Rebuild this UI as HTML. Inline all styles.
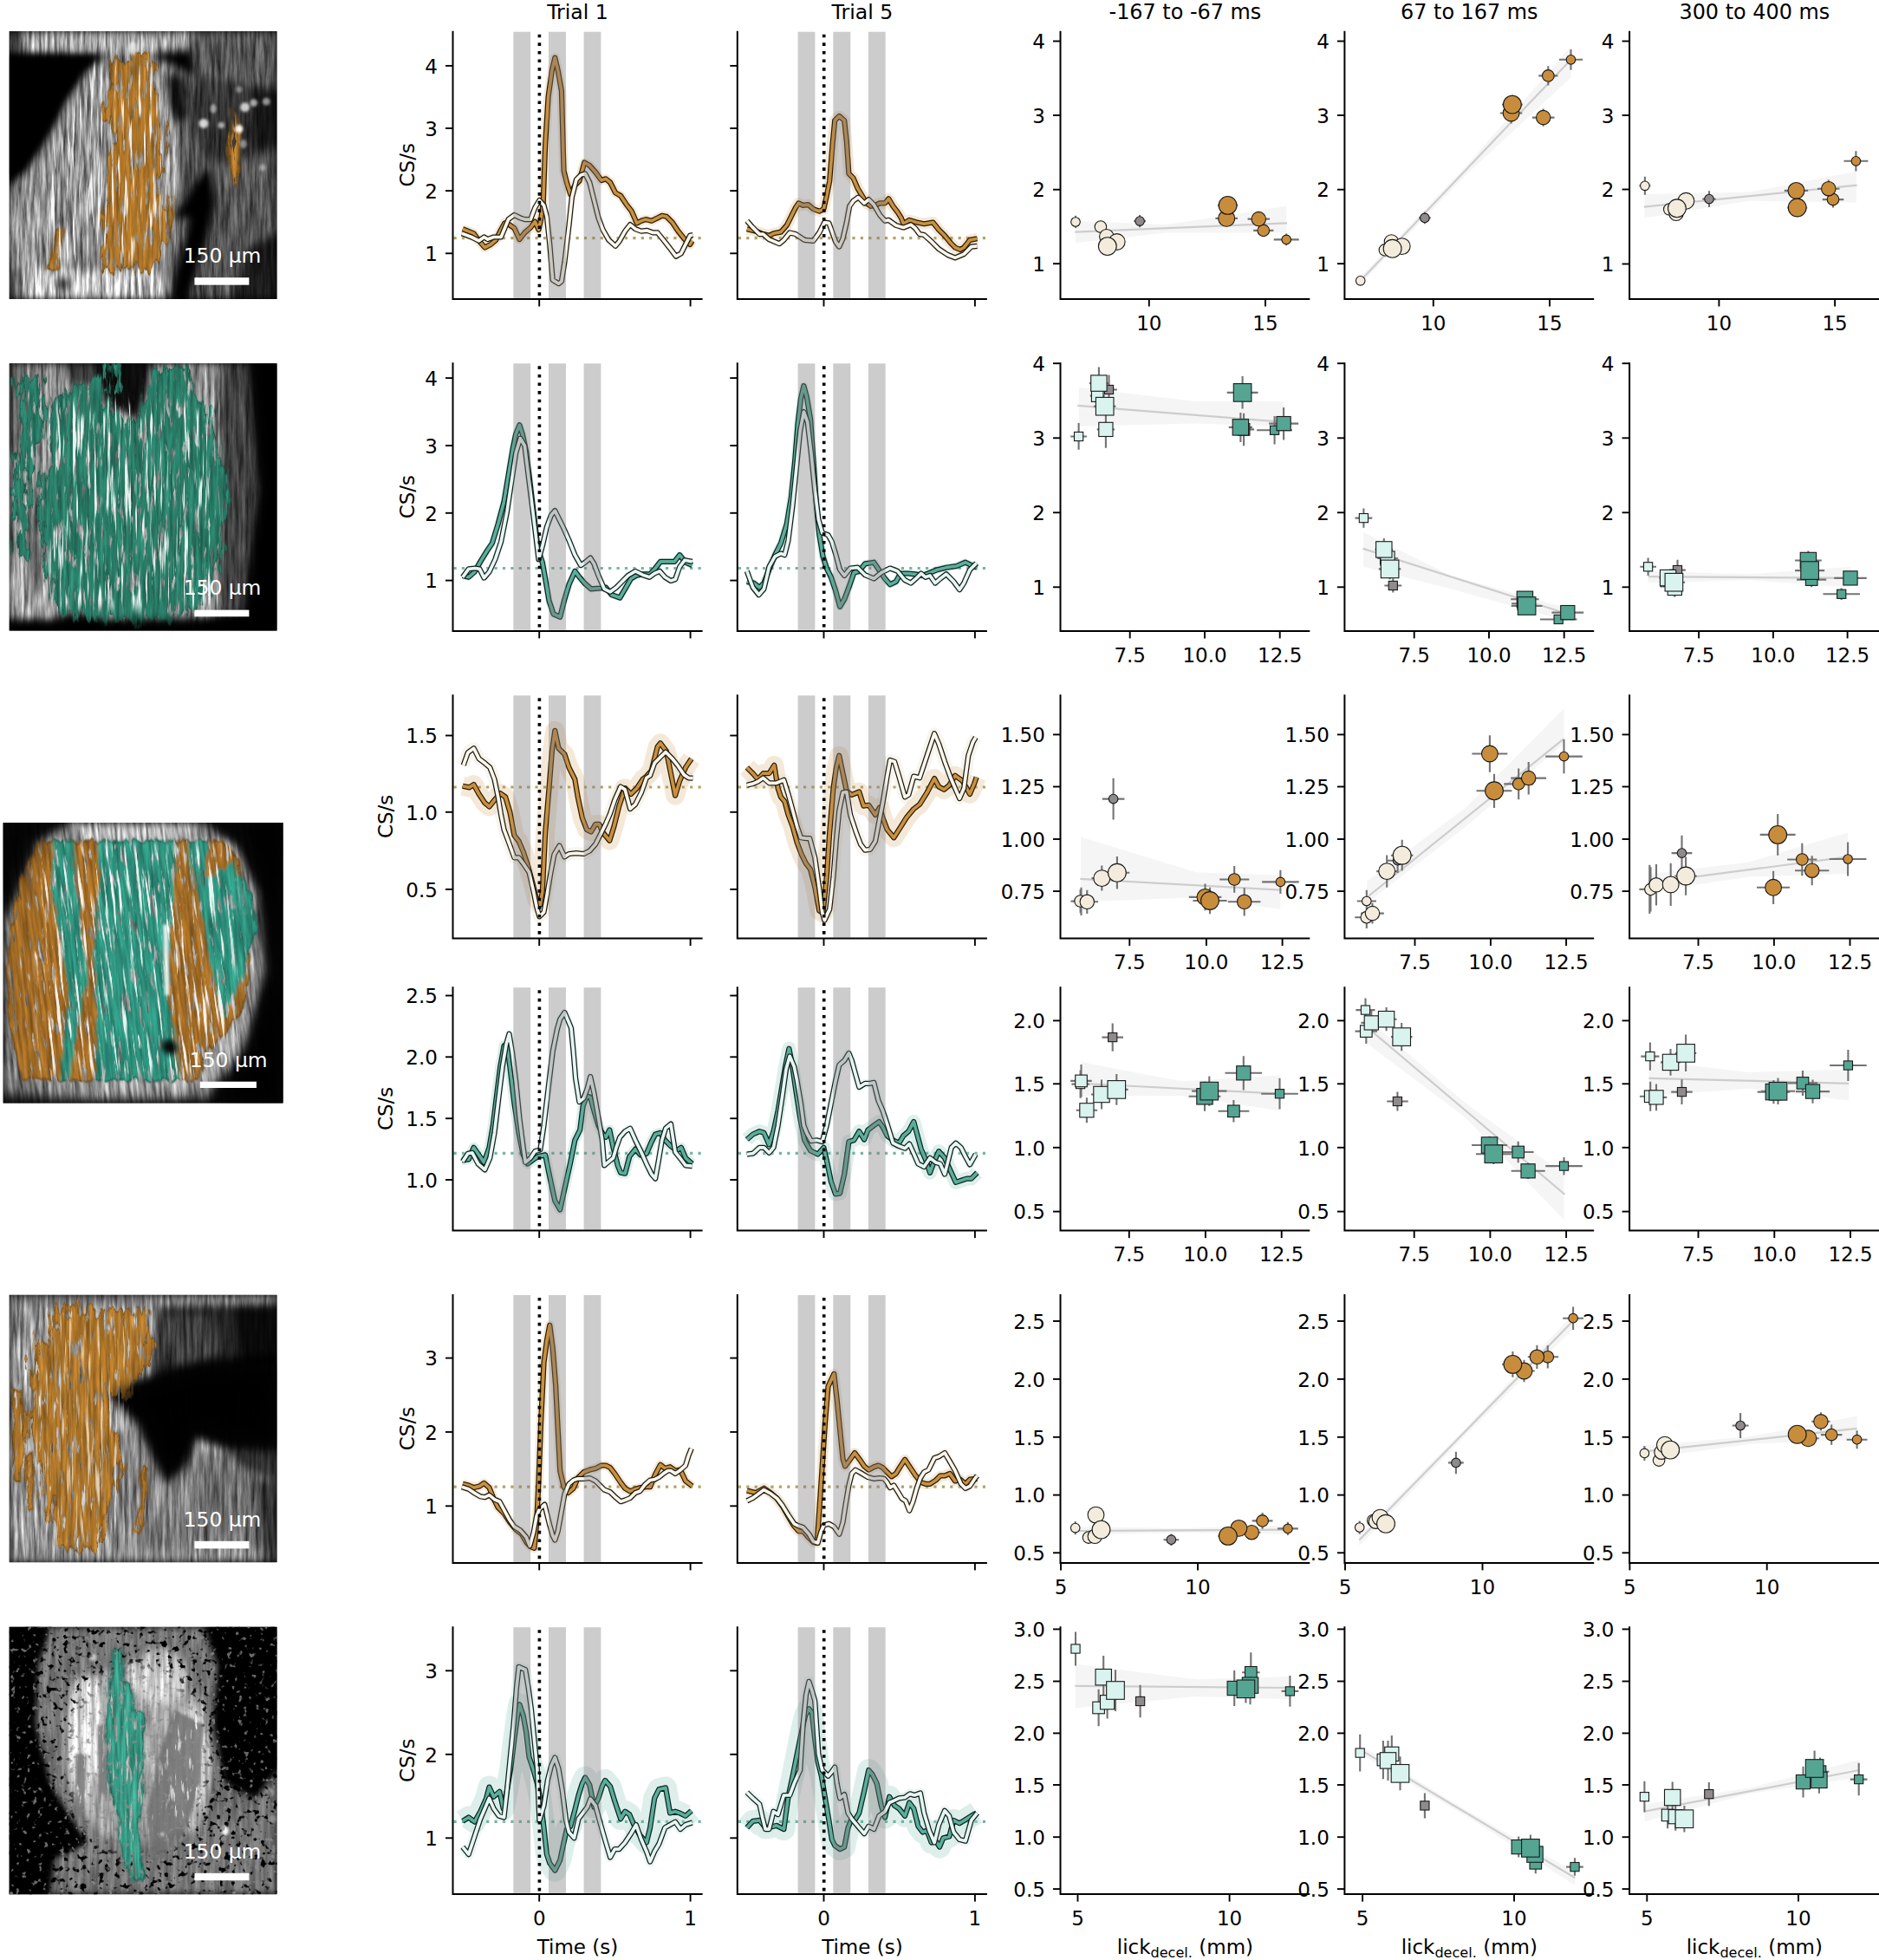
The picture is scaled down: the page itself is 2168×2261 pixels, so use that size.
<!DOCTYPE html>
<html><head><meta charset="utf-8"><title>Figure</title>
<style>html,body{margin:0;padding:0;background:#fff}svg{display:block}</style></head>
<body>
<svg xmlns="http://www.w3.org/2000/svg" width="2168" height="2261" viewBox="0 0 2168 2261">
<rect width="2168" height="2261" fill="#fff"/>
<defs><filter id="texA" x="0" y="0" width="100%" height="100%" color-interpolation-filters="sRGB"><feGaussianBlur in="SourceGraphic" stdDeviation="5" result="b"/><feTurbulence type="fractalNoise" baseFrequency="0.27 0.022" numOctaves="4" seed="7" result="n"/><feColorMatrix in="n" type="matrix" values="1 0 0 0 0 1 0 0 0 0 1 0 0 0 0 0 0 0 0 1" result="n2"/><feComposite in="b" in2="n2" operator="arithmetic" k1="1.7" k2="0.2" k3="0" k4="0.0"/></filter><filter id="texB" x="0" y="0" width="100%" height="100%" color-interpolation-filters="sRGB"><feGaussianBlur in="SourceGraphic" stdDeviation="5" result="b"/><feTurbulence type="fractalNoise" baseFrequency="0.25 0.02" numOctaves="4" seed="19" result="n"/><feColorMatrix in="n" type="matrix" values="1 0 0 0 0 1 0 0 0 0 1 0 0 0 0 0 0 0 0 1" result="n2"/><feComposite in="b" in2="n2" operator="arithmetic" k1="1.7" k2="0.2" k3="0" k4="0.0"/></filter><filter id="texC" x="-5%" y="-5%" width="110%" height="110%" color-interpolation-filters="sRGB"><feTurbulence type="fractalNoise" baseFrequency="0.12 0.035" numOctaves="3" seed="4" result="d"/><feDisplacementMap in="SourceGraphic" in2="d" scale="34" xChannelSelector="R" yChannelSelector="G" result="s"/><feTurbulence type="fractalNoise" baseFrequency="0.26 0.02" numOctaves="4" seed="5" result="n"/><feColorMatrix in="n" type="matrix" values="0 1 0 0 0 0 1 0 0 0 0 1 0 0 0 0 0 0 0 1" result="n2"/><feComposite in="s" in2="n2" operator="arithmetic" k1="0.75" k2="0.6" k3="0" k4="0"/></filter><filter id="texCs" x="-5%" y="-5%" width="110%" height="110%" color-interpolation-filters="sRGB"><feTurbulence type="fractalNoise" baseFrequency="0.12 0.035" numOctaves="3" seed="4" result="d"/><feDisplacementMap in="SourceGraphic" in2="d" scale="12" xChannelSelector="R" yChannelSelector="G" result="s"/><feTurbulence type="fractalNoise" baseFrequency="0.26 0.02" numOctaves="4" seed="5" result="n"/><feColorMatrix in="n" type="matrix" values="0 1 0 0 0 0 1 0 0 0 0 1 0 0 0 0 0 0 0 1" result="n2"/><feComposite in="s" in2="n2" operator="arithmetic" k1="0.75" k2="0.6" k3="0" k4="0"/></filter><filter id="mk1" x="0" y="0" width="100%" height="100%" color-interpolation-filters="sRGB"><feTurbulence type="fractalNoise" baseFrequency="0.22 0.035" numOctaves="4" seed="11"/><feColorMatrix type="matrix" values="0 0 8 0 -2.2 0 0 8 0 -2.2 0 0 8 0 -2.2 0 0 0 0 1"/></filter><filter id="mk2" x="0" y="0" width="100%" height="100%" color-interpolation-filters="sRGB"><feTurbulence type="fractalNoise" baseFrequency="0.2 0.035" numOctaves="4" seed="31"/><feColorMatrix type="matrix" values="0 0 8 0 -2.15 0 0 8 0 -2.15 0 0 8 0 -2.15 0 0 0 0 1"/></filter><filter id="hlw" x="0" y="0" width="100%" height="100%" color-interpolation-filters="sRGB"><feTurbulence type="fractalNoise" baseFrequency="0.25 0.015" numOctaves="3" seed="3"/><feColorMatrix type="matrix" values="0 0 0 0 1 0 0 0 0 1 0 0 0 0 1 7 0 0 0 -4.1"/></filter><filter id="bl30" x="-30%" y="-30%" width="160%" height="160%"><feGaussianBlur stdDeviation="3"/></filter><filter id="bl60" x="-30%" y="-30%" width="160%" height="160%"><feGaussianBlur stdDeviation="6"/></filter><filter id="bl16" x="-30%" y="-30%" width="160%" height="160%"><feGaussianBlur stdDeviation="1.6"/></filter><filter id="bl100" x="-30%" y="-30%" width="160%" height="160%"><feGaussianBlur stdDeviation="10"/></filter><filter id="spk" x="0" y="0" width="100%" height="100%" color-interpolation-filters="sRGB"><feTurbulence type="fractalNoise" baseFrequency="0.15 0.15" numOctaves="2" seed="5"/><feColorMatrix type="matrix" values="0 0 0 0 0 0 0 0 0 0 0 0 0 0 0 0 8 0 0 -4.6"/></filter><filter id="spw" x="0" y="0" width="100%" height="100%" color-interpolation-filters="sRGB"><feTurbulence type="fractalNoise" baseFrequency="0.16 0.16" numOctaves="2" seed="9"/><feColorMatrix type="matrix" values="0 0 0 0 0.55 0 0 0 0 0.55 0 0 0 0 0.55 8 0 0 0 -5.0"/></filter><filter id="tex5" x="0" y="0" width="100%" height="100%" color-interpolation-filters="sRGB"><feGaussianBlur in="SourceGraphic" stdDeviation="4" result="b"/><feTurbulence type="fractalNoise" baseFrequency="0.2 0.02" numOctaves="3" seed="13" result="n"/><feColorMatrix in="n" type="matrix" values="1 0 0 0 0 1 0 0 0 0 1 0 0 0 0 0 0 0 0 1" result="n2"/><feComposite in="b" in2="n2" operator="arithmetic" k1="0.9" k2="0.6" k3="0" k4="0.0"/></filter><mask id="cm1" maskUnits="userSpaceOnUse" x="-59.3" y="-33.9" width="448.8" height="448.8"><g filter="url(#mk1)"><rect x="-59.3" y="-33.9" width="448.8" height="448.8" fill="#fff"/></g></mask><mask id="hm1" maskUnits="userSpaceOnUse" x="-59.3" y="-33.9" width="448.8" height="448.8"><g filter="url(#bl60)"><polygon points="107.2,72.6 175.3,72.6 192.3,183.3 183.8,302.5 56.1,302.5 39.1,234.4 73.1,149.2" fill="#fff"/></g></mask><mask id="cm2" maskUnits="userSpaceOnUse" x="-59.3" y="349.2" width="448.8" height="448.3"><g filter="url(#mk2)"><rect x="-59.3" y="349.2" width="448.8" height="448.3" fill="#fff"/></g></mask><mask id="hm2" maskUnits="userSpaceOnUse" x="-59.3" y="349.2" width="448.8" height="448.3"><g filter="url(#bl60)"><polygon points="56.1,463.1 251.9,463.1 251.9,701.5 56.1,701.5" fill="#fff"/></g></mask><mask id="cm3" maskUnits="userSpaceOnUse" x="-66.4" y="879" width="463" height="463.6"><g filter="url(#mk1)"><rect x="-66.4" y="879" width="463" height="463.6" fill="#fff"/></g></mask><mask id="hm3" maskUnits="userSpaceOnUse" x="-66.4" y="879" width="463" height="463.6"><g filter="url(#bl60)"><polygon points="59.4,976.2 285.6,976.2 258,1238.6 31.8,1238.6" fill="#fff"/></g></mask><mask id="cm4" maskUnits="userSpaceOnUse" x="-59.3" y="1423.8" width="448.8" height="448.4"><g filter="url(#mk2)"><rect x="-59.3" y="1423.8" width="448.8" height="448.4" fill="#fff"/></g></mask><mask id="hm4" maskUnits="userSpaceOnUse" x="-59.3" y="1423.8" width="448.8" height="448.4"><g filter="url(#bl60)"><polygon points="39.1,1521.1 158.3,1521.1 141.2,1776.5 39.1,1776.5" fill="#fff"/></g></mask><mask id="cm5" maskUnits="userSpaceOnUse" x="-59.3" y="1806.8" width="448.8" height="448.4"><g filter="url(#mk1)"><rect x="-59.3" y="1806.8" width="448.8" height="448.4" fill="#fff"/></g></mask><mask id="om5" maskUnits="userSpaceOnUse" x="-59.3" y="1806.8" width="448.8" height="448.4"><g filter="url(#bl60)"><rect x="-59.3" y="1806.8" width="448.8" height="448.4" fill="#fff"/><ellipse cx="158.3" cy="2031.8" rx="85.2" ry="115.8" fill="#000" fill-opacity="0.9"/></g></mask></defs><clipPath id="clip1"><rect x="10.7" y="36.1" width="308.8" height="308.8"/></clipPath><g clip-path="url(#clip1)"><rect x="10.7" y="36.1" width="308.8" height="308.8" fill="#000"/><g filter="url(#texA)"><rect x="-59.3" y="-33.9" width="448.8" height="448.8" fill="#000"/><polygon points="10.6,36 217.9,36 219.6,57.2 175.3,61.5 124.2,63.2 56.1,61.5 10.6,60.7" fill="#a0a0a0"/><polygon points="10.6,36 27.1,36 25.4,60.7 10.6,60.7" fill="#3c3c3c"/><polygon points="217.9,36 319.7,36 319.7,101.5 260.5,94.7 226.4,87.9 219.6,57.2" fill="#555555"/><polygon points="226.4,87.9 319.7,101.5 319.7,183.3 243.4,191.8 217.9,149.2" fill="#323232"/><polygon points="175.3,62.4 226.4,87.9 217.9,149.2 243.4,191.8 226.4,208.8 200.8,251.4 200.8,183.3 192.3,115.2" fill="#505050"/><polygon points="124.2,62.4 175.3,62.4 192.3,115.2 200.8,183.3 200.8,251.4 183.8,311 39.1,311 27.1,268.4 10.6,242.9 10.6,213.9 30.5,196.9 56.1,157.7 78.2,115.2 100.4,81.1" fill="#878787"/><polygon points="243.4,191.8 319.7,174.8 319.7,285.5 286,344.7 217.9,344.7 234.9,285.5 246.8,234.4" fill="#505050"/><polygon points="286,285.5 319.7,268.4 319.7,344.7 269,344.7" fill="#191919"/><polygon points="10.6,242.9 30.5,248 49.3,276.9 52.7,311 10.6,319.5" fill="#969696"/><polygon points="10.6,311 183.8,311 206,344.7 10.6,344.7" fill="#bebebe"/><polygon points="10.6,311 28.8,311 25.4,344.7 10.6,344.7" fill="#5a5a5a"/><polygon points="183.8,311 200.8,251.4 217.9,251.4 209.4,302.5 206,344.7" fill="#6e6e6e"/><polygon points="185.5,72.6 194,72.6 206,183.3 202.6,242.9 192.3,242.9 194,183.3" fill="#c8c8c8" fill-opacity="0.7"/><polygon points="10.6,62.4 124.2,62.4 100.4,81.1 78.2,115.2 56.1,157.7 30.5,196.9 10.6,213.9" fill="#000"/><polygon points="192.3,86.2 209.4,89.6 214.5,132.2 202.6,145.8 194,118.6" fill="#000" fill-opacity="0.9"/><polygon points="226.4,208.8 243.4,200.3 248.5,234.4 236.6,285.5 219.6,328 207.7,344.7 192.3,344.7 209.4,285.5 223,242.9" fill="#000" fill-opacity="0.97"/><polygon points="286,103.2 319.7,106.6 319.7,166.2 294.5,174.8" fill="#000" fill-opacity="0.6"/><ellipse cx="73.1" cy="327.2" rx="7.7" ry="6.8" fill="#000" fill-opacity="0.85"/><ellipse cx="154.9" cy="293.1" rx="6" ry="5.1" fill="#000" fill-opacity="0.7"/><ellipse cx="97.8" cy="225.8" rx="4.3" ry="3.7" fill="#000" fill-opacity="0.5"/></g><g mask="url(#cm1)"><g filter="url(#texC)"><g filter="url(#bl16)"><polygon points="131,64.1 168.5,64.1 182.1,115.2 188.9,166.2 185.5,217.3 197.4,268.4 175.3,311 124.2,311 114,268.4 124.2,217.3 127.6,166.2 124.2,115.2" fill="#AE7629"/></g></g><g filter="url(#texCs)"><g filter="url(#bl16)"><polygon points="62.9,265 70.6,265 70.6,302.5 68.4,311 51.3,311 60.3,295.7" fill="#AE7629"/><polygon points="267.3,125.4 277.5,149.2 276.1,183.3 274.9,215.6 268.1,213.9 263.9,174.8 266.9,149.2" fill="#AE7629"/><polygon points="193.2,225.8 198.3,225.8 199.1,268.4 194,268.4" fill="#AE7629"/></g></g></g><g mask="url(#hm1)"><g filter="url(#hlw)" opacity="0.9"><rect x="-59.3" y="-33.9" width="448.8" height="448.8" fill="#fff"/></g></g><g filter="url(#bl16)"><ellipse cx="234.9" cy="142.4" rx="5.4" ry="5.4" fill="#fff" fill-opacity="0.8"/><ellipse cx="275.8" cy="148.7" rx="4.6" ry="4.6" fill="#fff" fill-opacity="0.95"/><ellipse cx="282.6" cy="123.7" rx="5.4" ry="5.4" fill="#fff" fill-opacity="0.75"/><ellipse cx="292.8" cy="118.6" rx="4.4" ry="4.4" fill="#fff" fill-opacity="0.6"/><ellipse cx="307.3" cy="117.2" rx="4.4" ry="4.4" fill="#fff" fill-opacity="0.55"/><ellipse cx="255.3" cy="144.4" rx="3.7" ry="3.7" fill="#fff" fill-opacity="0.6"/><ellipse cx="280.9" cy="166.2" rx="4.1" ry="5.1" fill="#fff" fill-opacity="0.45"/><ellipse cx="303" cy="193.5" rx="3.7" ry="3.7" fill="#fff" fill-opacity="0.4"/><ellipse cx="246" cy="125.4" rx="3.7" ry="5.1" fill="#fff" fill-opacity="0.5"/><ellipse cx="275.8" cy="103.2" rx="3.7" ry="3.7" fill="#fff" fill-opacity="0.4"/><ellipse cx="153.2" cy="55.5" rx="5.1" ry="7.7" fill="#fff" fill-opacity="0.7"/></g><g filter="url(#bl30)"><polygon points="10.6,64.1 115.7,64.1 93.6,81.1 72.3,115.2 50.1,157.7 26.3,193.5 10.6,207.1" fill="#000" fill-opacity="0.92"/></g><rect x="224.4" y="320.2" width="63" height="8.5" fill="#fff"/><text x="256.5" y="303.2" text-anchor="middle" font-family='"DejaVu Sans", "Liberation Sans", sans-serif' font-size="23.4" fill="#fff">150 µm</text></g><clipPath id="clip2"><rect x="10.7" y="419.2" width="308.8" height="308.3"/></clipPath><g clip-path="url(#clip2)"><rect x="10.7" y="419.2" width="308.8" height="308.3" fill="#000"/><g filter="url(#texB)"><rect x="-59.3" y="349.2" width="448.8" height="448.3" fill="#000"/><polygon points="10.6,419.2 286,419.2 294.5,565.3 277.5,715.1 10.6,715.1" fill="#8c8c8c"/><polygon points="251.9,419.2 303,419.2 311.5,565.3 286,715.1 251.9,715.1" fill="#3e3e3e"/><polygon points="10.6,633.4 56.1,650.4 56.1,715.1 10.6,715.1" fill="#a0a0a0"/><polygon points="10.6,419.2 30.5,419.2 25.4,514.2 10.6,531.2" fill="#5f5f5f"/><polygon points="286,419.2 319.7,419.2 319.7,727.4 277.5,727.4 297.9,565.3" fill="#000" fill-opacity="0.95"/><polygon points="10.6,716.8 107.2,718.5 192.3,720.2 319.7,701.5 319.7,727.4 10.6,727.4" fill="#000" fill-opacity="0.95"/><polygon points="107.2,419.2 175.3,419.2 168.5,456.3 158.3,483.5 124.2,468.2 114,442.7" fill="#000" fill-opacity="0.92"/><polygon points="73.1,419.2 107.2,419.2 114,442.7 81.6,446.1" fill="#000" fill-opacity="0.6"/><polygon points="34,590.8 47.6,582.3 49.3,667.5 34,701.5" fill="#000" fill-opacity="0.45"/><ellipse cx="90.2" cy="716.8" rx="25.5" ry="10.2" fill="#000" fill-opacity="0.9"/></g><g mask="url(#cm2)"><g filter="url(#texC)"><g filter="url(#bl16)"><polygon points="56.1,463.1 81.6,451.2 100.4,439.2 117.4,430.7 124.2,468.2 139.5,478.4 158.3,485.2 168.5,456.3 175.3,429 206,422.2 217.9,422.2 226.4,454.6 243.4,480.1 260.5,531.2 265.6,573.8 257,633.4 243.4,667.5 234.9,701.5 192.3,716 124.2,716 73.1,710 56.1,684.5 47.6,633.4 44.2,582.3 56.1,531.2 56.1,480.1" fill="#2A7D68"/><polygon points="23.7,437.5 49.3,434.1 51,480.1 35.7,531.2 34,582.3 30.5,641.9 20.3,641.9 13.5,582.3 15.2,539.7 23.7,497.2" fill="#2A7D68"/><polygon points="124.2,423.9 134.4,422.2 137.8,451.2 127.6,454.6" fill="#2A7D68"/></g></g></g><g mask="url(#hm2)"><g filter="url(#hlw)" opacity="0.9"><rect x="-59.3" y="349.2" width="448.8" height="448.3" fill="#fff"/></g></g><g filter="url(#bl60)"><polygon points="297.9,419.2 319.7,419.2 319.7,727.4 291.1,727.4 308.1,565.3" fill="#000" fill-opacity="0.95"/><polygon points="10.6,721.1 319.7,713.4 319.7,727.4 10.6,727.4" fill="#000" fill-opacity="0.95"/></g><rect x="224.4" y="703.6" width="63" height="7.7" fill="#fff"/><text x="256.5" y="686" text-anchor="middle" font-family='"DejaVu Sans", "Liberation Sans", sans-serif' font-size="23.4" fill="#fff">150 µm</text></g><clipPath id="clip3"><rect x="3.6" y="949" width="323" height="323.6"/></clipPath><g clip-path="url(#clip3)"><rect x="3.6" y="949" width="323" height="323.6" fill="#000"/><g transform="translate(-116.7 0) skewX(6)"><g filter="url(#texA)"><rect x="-66.4" y="879" width="463" height="463.6" fill="#000"/><polygon points="20.6,949 343.6,949 309.6,1272.6 -13.4,1272.6" fill="#6e6e6e"/><polygon points="42,969.9 307.9,969.9 278.9,1245.8 13,1245.8" fill="#969696"/><polygon points="98.4,949 243.2,949 231.9,970.8 105.2,970.8" fill="#afafaf"/><polygon points="31,1245.8 212,1245.8 191.1,1272.6 37.3,1272.6" fill="#969696"/><polygon points="20.6,949 98.4,949 60.1,969 37.5,1012.4 8.3,1066.7" fill="#000" fill-opacity="0.9"/><polygon points="252.2,949 343.6,949 309.6,1272.6 218.2,1272.6 269.9,1211.4 306.5,1120.9 307,1030.5 285.6,976.2" fill="#000" fill-opacity="0.95"/><polygon points="-12.3,1262.1 92.1,1267.5 219,1265.7 218.2,1272.6 -13.4,1272.6" fill="#000" fill-opacity="0.7"/></g><g mask="url(#cm3)"><g filter="url(#texCs)"><g filter="url(#bl16)"><polygon points="60.1,969.9 130.6,969.9 126.2,1012.4 113.2,1066.7 105.6,1139 105.4,1175.2 94.4,1245.8 13,1245.8 2.2,1193.3 6.2,1120.9 21,1048.6 44.8,994.3" fill="#A46D27"/><polygon points="219.3,969.9 271.8,969.9 287.3,994.3 290.7,1030.5 290.4,1102.9 277.4,1157.1 260.1,1184.3 230.1,1211.4 212,1245.8 193.9,1245.8 190.4,1193.3 190.6,1139 198.2,1084.8 209.3,1030.5" fill="#A46D27"/><polygon points="127,969.9 219.3,969.9 209.3,1030.5 198.2,1084.8 190.6,1139 190.4,1193.3 193.9,1245.8 94.4,1245.8 105.4,1175.2 105.6,1139 113.2,1066.7 126.2,1012.4" fill="#2F947F"/><polygon points="76.3,969.9 99.9,969.9 97.1,1030.5 96.8,1084.8 100.3,1120.9 88.3,1166.2 74.5,1211.4 67.2,1245.8 54.6,1245.8 69.2,1175.2 76.6,1139 73.2,1102.9 68.2,1030.5" fill="#2F947F"/><polygon points="235.6,1021.4 280,994.3 298,1030.5 301.4,1066.7 281.2,1120.9 262.9,1157.1 250.2,1175.2 243.2,1120.9 239.9,1066.7" fill="#2F947F"/><polygon points="232,969.9 255.5,969.9 245.2,1016 232,1021.4" fill="#2F947F"/></g></g></g><g mask="url(#hm3)"><g filter="url(#hlw)" opacity="0.9"><rect x="-66.4" y="879" width="463" height="463.6" fill="#fff"/></g></g><g filter="url(#bl16)"><polygon points="192.8,1066.7 198.3,1066.7 191.5,1148.1 186.4,1148.1" fill="#fff" fill-opacity="0.9"/></g><g filter="url(#bl30)"><ellipse cx="185.2" cy="1207.8" rx="8.7" ry="8.7" fill="#000" fill-opacity="0.95"/></g><g filter="url(#bl100)"><polygon points="20.6,949 85.8,949 51.3,967.1 30.6,1008.8 10.2,1048.6" fill="#000" fill-opacity="0.85"/><polygon points="292,949 343.6,949 309.6,1272.6 239.9,1272.6 278.9,1211.4 313.8,1120.9 316.1,1030.5 306.3,985.2" fill="#000" fill-opacity="0.95"/><polygon points="-12.7,1265.7 218.6,1269.3 218.2,1272.6 -13.4,1272.6" fill="#000" fill-opacity="0.7"/></g></g><rect x="230.7" y="1247.7" width="65.2" height="7.3" fill="#fff"/><text x="263.7" y="1230.7" text-anchor="middle" font-family='"DejaVu Sans", "Liberation Sans", sans-serif' font-size="23.4" fill="#fff">150 µm</text></g><clipPath id="clip4"><rect x="10.7" y="1493.8" width="308.8" height="308.4"/></clipPath><g clip-path="url(#clip4)"><rect x="10.7" y="1493.8" width="308.8" height="308.4" fill="#000"/><g filter="url(#texB)"><rect x="-59.3" y="1423.8" width="448.8" height="448.4" fill="#000"/><polygon points="10.6,1493.8 319.7,1493.8 319.7,1802.1 10.6,1802.1" fill="#969696"/><polygon points="10.6,1493.8 319.7,1493.8 319.7,1505.7 10.6,1505.7" fill="#6e6e6e"/><polygon points="226.4,1674.3 319.7,1674.3 319.7,1786.7 226.4,1786.7" fill="#696969"/><polygon points="124.2,1657.3 175.3,1648.8 226.4,1674.3 234.9,1786.7 124.2,1786.7" fill="#787878"/><polygon points="10.6,1786.7 319.7,1786.7 319.7,1802.1 10.6,1802.1" fill="#878787"/><polygon points="183.8,1507.4 319.7,1504 319.7,1572.2 226.4,1575.6 175.3,1589.2 178.7,1538.1" fill="#1c1c1c" fill-opacity="0.96"/><polygon points="188.9,1516 243.4,1516 257,1558.5 217.9,1575.6 183.8,1572.2" fill="#464646" fill-opacity="0.75"/><polygon points="269,1505.7 319.7,1504 319.7,1572.2 277.5,1572.2" fill="#000" fill-opacity="0.7"/><polygon points="124.2,1609.6 149.8,1596 175.3,1587.5 226.4,1572.2 319.7,1561.9 319.7,1674.3 260.5,1670.9 226.4,1657.3 212.8,1691.4 192.3,1711.8 158.3,1640.3" fill="#000" fill-opacity="0.97"/><polygon points="260.5,1670.9 319.7,1674.3 319.7,1708.4 277.5,1691.4" fill="#000" fill-opacity="0.55"/><polygon points="294.5,1708.4 319.7,1708.4 319.7,1802.1 303,1802.1" fill="#000" fill-opacity="0.55"/><polygon points="166.8,1498.9 319.7,1497.2 319.7,1504 166.8,1505.7" fill="#aaaaaa" fill-opacity="0.5"/><polygon points="81.6,1580.7 115.7,1572.2 124.2,1623.2 90.2,1623.2" fill="#000" fill-opacity="0.3"/></g><g mask="url(#cm4)"><g filter="url(#texC)"><g filter="url(#bl16)"><polygon points="61.2,1510.8 173.6,1510.8 171.9,1572.2 151.5,1597.7 149.8,1616.4 124.2,1606.2 132.7,1640.3 141.2,1674.3 134.4,1708.4 124.2,1742.5 115.7,1785 69.7,1785 56.1,1742.5 47.6,1691.4 30.5,1657.3 37.4,1606.2 39.1,1543.2 56.1,1555.1" fill="#AE7629"/></g></g><g filter="url(#texCs)"><g filter="url(#bl16)"><polygon points="15.2,1602.8 27.1,1602.8 28.8,1657.3 25.4,1708.4 15.2,1708.4 13.5,1657.3" fill="#AE7629"/><polygon points="30.5,1677.7 37.4,1677.7 39.1,1742.5 32.2,1742.5" fill="#AE7629"/><polygon points="163.4,1691.4 170.2,1691.4 168.5,1733.9 161.7,1768 154.9,1768 161.7,1733.9" fill="#AE7629"/></g></g></g><g mask="url(#hm4)"><g filter="url(#hlw)" opacity="0.6"><rect x="-59.3" y="1423.8" width="448.8" height="448.4" fill="#fff"/></g></g><g filter="url(#bl100)"><polygon points="175.3,1592.6 226.4,1579 319.7,1572.2 319.7,1665.8 260.5,1662.4 229.8,1648.8 214.5,1682.8 192.3,1703.3 161.7,1636.9 131,1611.3 151.5,1599.4" fill="#000" fill-opacity="0.92"/></g><rect x="224.4" y="1777.8" width="63" height="8.6" fill="#fff"/><text x="256.5" y="1760.9" text-anchor="middle" font-family='"DejaVu Sans", "Liberation Sans", sans-serif' font-size="23.4" fill="#fff">150 µm</text></g><clipPath id="clip5"><rect x="10.7" y="1876.8" width="308.8" height="308.4"/></clipPath><g clip-path="url(#clip5)"><rect x="10.7" y="1876.8" width="308.8" height="308.4" fill="#000"/><g filter="url(#tex5)"><rect x="-59.3" y="1806.8" width="448.8" height="448.4" fill="#000"/><polygon points="56.1,1876.8 234.9,1876.8 251.9,1921.1 246.8,1989.2 260.5,2057.3 294.5,2074.4 319.7,2040.3 319.7,2185.1 56.1,2185.1 61.2,2142.5 98.7,2125.5 86.7,2108.4 56.1,2057.3 39.1,1989.2 42.5,1921.1" fill="#707070"/><ellipse cx="158.3" cy="2023.3" rx="81.7" ry="105.6" fill="#bebebe" fill-opacity="0.6"/><ellipse cx="183.8" cy="1934.7" rx="32.4" ry="32.4" fill="#e1e1e1" fill-opacity="0.6"/><ellipse cx="93.6" cy="2006.2" rx="17" ry="73.2" fill="#fff" fill-opacity="0.6"/><ellipse cx="217.9" cy="2040.3" rx="23.8" ry="73.2" fill="#fff" fill-opacity="0.45"/><ellipse cx="107.2" cy="1989.2" rx="7.7" ry="59.6" fill="#fff" fill-opacity="0.6"/><ellipse cx="231.5" cy="2006.2" rx="7.7" ry="51.1" fill="#fff" fill-opacity="0.5"/></g><g mask="url(#om5)"><g filter="url(#spk)"><rect x="-59.3" y="1806.8" width="448.8" height="448.4" fill="#000"/></g></g><g mask="url(#cm5)"><g filter="url(#bl16)"><polygon points="200.8,1972.2 234.9,1989.2 231.5,2057.3 209.4,2125.5 175.3,2159.5 168.5,2091.4 183.8,2023.3" fill="#707070" fill-opacity="0.85"/><polygon points="86.7,2023.3 100.4,2023.3 97,2091.4 86.7,2099.9" fill="#767676" fill-opacity="0.85"/><polygon points="112.3,1989.2 122.5,1989.2 124.2,2074.4 114,2065.8" fill="#787878" fill-opacity="0.85"/></g></g><g mask="url(#cm5)"><g filter="url(#texCs)"><g filter="url(#bl16)"><polygon points="134.4,1900.7 141.2,1904.1 139.5,1938.1 151.5,1943.2 154.9,1972.2 165.1,1975.6 165.9,2023.3 164.2,2074.4 159.1,2125.5 167.6,2168 154.9,2170.6 141.2,2142.5 134.4,2091.4 124.2,2057.3 122.2,2006.2 124.2,1955.2 127.6,1929.6" fill="#379C86"/></g></g></g><g filter="url(#bl16)"><ellipse cx="259.9" cy="2111.8" rx="4.1" ry="5.4" fill="#fff" fill-opacity="0.95"/><ellipse cx="107.2" cy="1911.7" rx="4.3" ry="4.3" fill="#fff" fill-opacity="0.6"/><ellipse cx="85" cy="1991.8" rx="3.4" ry="3.7" fill="#fff" fill-opacity="0.5"/><ellipse cx="187.2" cy="2116.1" rx="2" ry="2" fill="#fff" fill-opacity="0.8"/><ellipse cx="311.5" cy="2067.6" rx="5.1" ry="5.1" fill="#bebebe" fill-opacity="0.6"/><ellipse cx="315" cy="2098.2" rx="4.3" ry="4.3" fill="#b4b4b4" fill-opacity="0.5"/></g><g filter="url(#bl30)"><polygon points="10.6,1876.8 56.1,1876.8 42.5,1921.1 39.1,1989.2 56.1,2057.3 86.7,2108.4 100.4,2125.5 61.2,2142.5 56.1,2185.1 10.6,2185.1" fill="#000" fill-opacity="0.95"/><polygon points="240,1876.8 319.7,1876.8 319.7,2036.9 294.5,2071 260.5,2053.9 248.5,1989.2 253.6,1921.1" fill="#000" fill-opacity="0.95"/></g><g filter="url(#spw)" opacity="0.75"><rect x="-59.3" y="1806.8" width="448.8" height="448.4" fill="#fff"/></g><rect x="224.4" y="2160.8" width="63" height="8.4" fill="#fff"/><text x="256.5" y="2143.6" text-anchor="middle" font-family='"DejaVu Sans", "Liberation Sans", sans-serif' font-size="23.4" fill="#fff">150 µm</text></g>
<g font-family='"DejaVu Sans", "Liberation Sans", sans-serif' font-size="23.0" fill="#000">
<line x1="523.5" y1="274.7" x2="810.6" y2="274.7" stroke="#B3A264" stroke-width="3.2" stroke-dasharray="3.2 6.2"/>
<polyline points="533.8,264.2 546.6,269.3 552.6,277.8 559.4,285.5 566.2,282 572.2,276.9 578.1,265 582.4,257.4 587.5,259.1 593.4,263.3 599.4,276.1 605.4,268.4 612.2,262.5 617.3,255.7 621.5,265 624.1,253.1 626.7,234.4 629.2,166.2 632.6,111.7 636.9,81.1 640.3,66.6 643.7,81.1 647.9,104.9 650.5,196.9 653.9,210.5 658.2,224.1 663.3,213.9 668.4,208.8 674.3,187.5 680.3,190.9 687.1,198.6 693.9,208 699,206.3 704.1,210.5 710.1,222.4 716.1,225.8 722.9,236.1 728.8,243.7 734.8,257.4 739.9,254.8 745,253.1 751.8,254.8 758.6,251.4 763.8,248.8 768.9,249.7 775.7,256.5 782.5,266.7 789.3,275.2 796.1,282 798.7,277.8" fill="none" stroke="#C9903F" stroke-opacity="0.2" stroke-width="11" stroke-linejoin="round" stroke-linecap="butt"/>
<polyline points="533,269.3 544.1,273.5 552.6,277.8 558.5,273.5 562.8,276.1 569.6,273.5 578.1,273.5 586.6,253.1 593.4,248 600.3,251.4 605.4,253.1 612.2,253.1 617.3,239.5 622.4,231 627.5,236.9 630.9,249.7 634.3,282 637.7,322.9 644.5,327.2 647.9,324.6 651.4,302.5 656.5,259.9 659.9,227.6 665,207.1 670.1,202 675.2,200.3 680.3,210.5 685.4,231 690.5,251.4 695.6,265 702.4,276.9 710.1,283.8 714.4,278.6 721.2,266.7 727.1,259.1 733.1,264.2 739.9,266.7 746.7,265.9 753.5,268.4 758.6,268.4 765.5,276.9 772.3,285.5 779.9,295.7 785.9,292.3 791,282 796.1,271.8 799.5,271" fill="none" stroke="#E9DFC4" stroke-opacity="0.3" stroke-width="9" stroke-linejoin="round" stroke-linecap="butt"/>
<polyline points="533.8,264.2 546.6,269.3 552.6,277.8 559.4,285.5 566.2,282 572.2,276.9 578.1,265 582.4,257.4 587.5,259.1 593.4,263.3 599.4,276.1 605.4,268.4 612.2,262.5 617.3,255.7 621.5,265 624.1,253.1 626.7,234.4 629.2,166.2 632.6,111.7 636.9,81.1 640.3,66.6 643.7,81.1 647.9,104.9 650.5,196.9 653.9,210.5 658.2,224.1 663.3,213.9 668.4,208.8 674.3,187.5 680.3,190.9 687.1,198.6 693.9,208 699,206.3 704.1,210.5 710.1,222.4 716.1,225.8 722.9,236.1 728.8,243.7 734.8,257.4 739.9,254.8 745,253.1 751.8,254.8 758.6,251.4 763.8,248.8 768.9,249.7 775.7,256.5 782.5,266.7 789.3,275.2 796.1,282 798.7,277.8" fill="none" stroke="#2a1d08" stroke-width="6.2" stroke-linejoin="round"/>
<polyline points="533.8,264.2 546.6,269.3 552.6,277.8 559.4,285.5 566.2,282 572.2,276.9 578.1,265 582.4,257.4 587.5,259.1 593.4,263.3 599.4,276.1 605.4,268.4 612.2,262.5 617.3,255.7 621.5,265 624.1,253.1 626.7,234.4 629.2,166.2 632.6,111.7 636.9,81.1 640.3,66.6 643.7,81.1 647.9,104.9 650.5,196.9 653.9,210.5 658.2,224.1 663.3,213.9 668.4,208.8 674.3,187.5 680.3,190.9 687.1,198.6 693.9,208 699,206.3 704.1,210.5 710.1,222.4 716.1,225.8 722.9,236.1 728.8,243.7 734.8,257.4 739.9,254.8 745,253.1 751.8,254.8 758.6,251.4 763.8,248.8 768.9,249.7 775.7,256.5 782.5,266.7 789.3,275.2 796.1,282 798.7,277.8" fill="none" stroke="#C9903F" stroke-width="3.7" stroke-linejoin="round"/>
<polyline points="533,269.3 544.1,273.5 552.6,277.8 558.5,273.5 562.8,276.1 569.6,273.5 578.1,273.5 586.6,253.1 593.4,248 600.3,251.4 605.4,253.1 612.2,253.1 617.3,239.5 622.4,231 627.5,236.9 630.9,249.7 634.3,282 637.7,322.9 644.5,327.2 647.9,324.6 651.4,302.5 656.5,259.9 659.9,227.6 665,207.1 670.1,202 675.2,200.3 680.3,210.5 685.4,231 690.5,251.4 695.6,265 702.4,276.9 710.1,283.8 714.4,278.6 721.2,266.7 727.1,259.1 733.1,264.2 739.9,266.7 746.7,265.9 753.5,268.4 758.6,268.4 765.5,276.9 772.3,285.5 779.9,295.7 785.9,292.3 791,282 796.1,271.8 799.5,271" fill="none" stroke="#1c1a14" stroke-width="6.2" stroke-linejoin="round"/>
<polyline points="533,269.3 544.1,273.5 552.6,277.8 558.5,273.5 562.8,276.1 569.6,273.5 578.1,273.5 586.6,253.1 593.4,248 600.3,251.4 605.4,253.1 612.2,253.1 617.3,239.5 622.4,231 627.5,236.9 630.9,249.7 634.3,282 637.7,322.9 644.5,327.2 647.9,324.6 651.4,302.5 656.5,259.9 659.9,227.6 665,207.1 670.1,202 675.2,200.3 680.3,210.5 685.4,231 690.5,251.4 695.6,265 702.4,276.9 710.1,283.8 714.4,278.6 721.2,266.7 727.1,259.1 733.1,264.2 739.9,266.7 746.7,265.9 753.5,268.4 758.6,268.4 765.5,276.9 772.3,285.5 779.9,295.7 785.9,292.3 791,282 796.1,271.8 799.5,271" fill="none" stroke="#FBF7EC" stroke-width="3.7" stroke-linejoin="round"/>
<line x1="622.4" y1="35.7" x2="622.4" y2="345" stroke="#000" stroke-width="3.6" stroke-dasharray="3.6 6" stroke-dashoffset="-4"/>
<rect x="592.3" y="36.7" width="19.8" height="307.3" fill="#7d7a7a" fill-opacity="0.385"/>
<rect x="633" y="36.7" width="20" height="307.3" fill="#7d7a7a" fill-opacity="0.385"/>
<rect x="673.6" y="36.7" width="19.8" height="307.3" fill="#7d7a7a" fill-opacity="0.385"/>
<path d="M522.5 35.7V345H810.6" fill="none" stroke="#000" stroke-width="2" stroke-linejoin="miter"/>
<line x1="514" y1="75.9" x2="522.5" y2="75.9" stroke="#000" stroke-width="1.9"/>
<text x="504.9" y="84.6" text-anchor="end">4</text>
<line x1="514" y1="148" x2="522.5" y2="148" stroke="#000" stroke-width="1.9"/>
<text x="504.9" y="156.7" text-anchor="end">3</text>
<line x1="514" y1="220.1" x2="522.5" y2="220.1" stroke="#000" stroke-width="1.9"/>
<text x="504.9" y="228.8" text-anchor="end">2</text>
<line x1="514" y1="292.3" x2="522.5" y2="292.3" stroke="#000" stroke-width="1.9"/>
<text x="504.9" y="301" text-anchor="end">1</text>
<line x1="622.2" y1="345" x2="622.2" y2="353.5" stroke="#000" stroke-width="1.9"/>
<line x1="796.6" y1="345" x2="796.6" y2="353.5" stroke="#000" stroke-width="1.9"/>
<text transform="translate(478 190.3) rotate(-90)" text-anchor="middle">CS/s</text>
<text x="666.5" y="21.8" font-size="23.6" text-anchor="middle">Trial 1</text>
<line x1="851.8" y1="274.7" x2="1138.9" y2="274.7" stroke="#B3A264" stroke-width="3.2" stroke-dasharray="3.2 6.2"/>
<polyline points="861.8,264.2 872.1,266.7 880.6,270.1 887.4,271.8 892.5,269.3 901,267.6 907.8,259.9 912.9,249.7 918,239.5 921.4,234.4 926.6,236.9 932.5,236.1 938.5,241.2 945.3,243.7 950.4,241.2 953.8,225.8 957.2,208.8 960.6,166.2 963.2,139 968.3,133.9 974.2,139 976.8,162.8 979.4,200.3 984.5,205.4 989.6,217.3 994.7,225.8 999.8,234.4 1004.9,237.8 1010,236.9 1015.1,234.4 1021.1,234.4 1025.3,229.3 1030.4,237.8 1035.6,244.6 1039.8,251.4 1042.4,258.2 1049.2,253.9 1057.7,256.5 1066.2,258.2 1076.4,256.5 1083.2,265 1090,271.8 1096.9,280.3 1102,285.5 1107.9,288 1112.2,285.5 1119,276.9 1127.5,275.2" fill="none" stroke="#C9903F" stroke-opacity="0.2" stroke-width="13" stroke-linejoin="round" stroke-linecap="butt"/>
<polyline points="861.8,254.8 867.8,261.6 876.3,270.1 880.6,270.1 887.4,276.1 899.3,281.2 904.4,276.9 911.2,268.4 918,270.1 928.3,276.9 938.5,277.8 945.3,268.4 951.3,256.5 956.4,257.4 959.8,266.7 964,278.6 968.3,284.6 972.5,275.2 976.8,256.5 980.2,237.8 984.5,231.8 990.4,227.6 997.2,234.4 1002.3,230.1 1008.3,236.1 1015.1,248 1021.1,254.8 1025.3,253.9 1033.8,259.9 1042.4,262.5 1050.9,259.1 1056,263.3 1061.1,270.1 1066.2,271 1074.7,278.6 1083.2,287.2 1093.5,294 1102,297.4 1112.2,293.1 1120.7,284.6 1127.5,283.8" fill="none" stroke="#E9DFC4" stroke-opacity="0.3" stroke-width="9" stroke-linejoin="round" stroke-linecap="butt"/>
<polyline points="861.8,264.2 872.1,266.7 880.6,270.1 887.4,271.8 892.5,269.3 901,267.6 907.8,259.9 912.9,249.7 918,239.5 921.4,234.4 926.6,236.9 932.5,236.1 938.5,241.2 945.3,243.7 950.4,241.2 953.8,225.8 957.2,208.8 960.6,166.2 963.2,139 968.3,133.9 974.2,139 976.8,162.8 979.4,200.3 984.5,205.4 989.6,217.3 994.7,225.8 999.8,234.4 1004.9,237.8 1010,236.9 1015.1,234.4 1021.1,234.4 1025.3,229.3 1030.4,237.8 1035.6,244.6 1039.8,251.4 1042.4,258.2 1049.2,253.9 1057.7,256.5 1066.2,258.2 1076.4,256.5 1083.2,265 1090,271.8 1096.9,280.3 1102,285.5 1107.9,288 1112.2,285.5 1119,276.9 1127.5,275.2" fill="none" stroke="#2a1d08" stroke-width="6.2" stroke-linejoin="round"/>
<polyline points="861.8,264.2 872.1,266.7 880.6,270.1 887.4,271.8 892.5,269.3 901,267.6 907.8,259.9 912.9,249.7 918,239.5 921.4,234.4 926.6,236.9 932.5,236.1 938.5,241.2 945.3,243.7 950.4,241.2 953.8,225.8 957.2,208.8 960.6,166.2 963.2,139 968.3,133.9 974.2,139 976.8,162.8 979.4,200.3 984.5,205.4 989.6,217.3 994.7,225.8 999.8,234.4 1004.9,237.8 1010,236.9 1015.1,234.4 1021.1,234.4 1025.3,229.3 1030.4,237.8 1035.6,244.6 1039.8,251.4 1042.4,258.2 1049.2,253.9 1057.7,256.5 1066.2,258.2 1076.4,256.5 1083.2,265 1090,271.8 1096.9,280.3 1102,285.5 1107.9,288 1112.2,285.5 1119,276.9 1127.5,275.2" fill="none" stroke="#C9903F" stroke-width="3.7" stroke-linejoin="round"/>
<polyline points="861.8,254.8 867.8,261.6 876.3,270.1 880.6,270.1 887.4,276.1 899.3,281.2 904.4,276.9 911.2,268.4 918,270.1 928.3,276.9 938.5,277.8 945.3,268.4 951.3,256.5 956.4,257.4 959.8,266.7 964,278.6 968.3,284.6 972.5,275.2 976.8,256.5 980.2,237.8 984.5,231.8 990.4,227.6 997.2,234.4 1002.3,230.1 1008.3,236.1 1015.1,248 1021.1,254.8 1025.3,253.9 1033.8,259.9 1042.4,262.5 1050.9,259.1 1056,263.3 1061.1,270.1 1066.2,271 1074.7,278.6 1083.2,287.2 1093.5,294 1102,297.4 1112.2,293.1 1120.7,284.6 1127.5,283.8" fill="none" stroke="#1c1a14" stroke-width="6.2" stroke-linejoin="round"/>
<polyline points="861.8,254.8 867.8,261.6 876.3,270.1 880.6,270.1 887.4,276.1 899.3,281.2 904.4,276.9 911.2,268.4 918,270.1 928.3,276.9 938.5,277.8 945.3,268.4 951.3,256.5 956.4,257.4 959.8,266.7 964,278.6 968.3,284.6 972.5,275.2 976.8,256.5 980.2,237.8 984.5,231.8 990.4,227.6 997.2,234.4 1002.3,230.1 1008.3,236.1 1015.1,248 1021.1,254.8 1025.3,253.9 1033.8,259.9 1042.4,262.5 1050.9,259.1 1056,263.3 1061.1,270.1 1066.2,271 1074.7,278.6 1083.2,287.2 1093.5,294 1102,297.4 1112.2,293.1 1120.7,284.6 1127.5,283.8" fill="none" stroke="#FBF7EC" stroke-width="3.7" stroke-linejoin="round"/>
<line x1="950.7" y1="35.7" x2="950.7" y2="345" stroke="#000" stroke-width="3.6" stroke-dasharray="3.6 6" stroke-dashoffset="-4"/>
<rect x="920.6" y="36.7" width="19.8" height="307.3" fill="#7d7a7a" fill-opacity="0.385"/>
<rect x="961.3" y="36.7" width="20" height="307.3" fill="#7d7a7a" fill-opacity="0.385"/>
<rect x="1001.9" y="36.7" width="19.8" height="307.3" fill="#7d7a7a" fill-opacity="0.385"/>
<path d="M850.8 35.7V345H1138.9" fill="none" stroke="#000" stroke-width="2" stroke-linejoin="miter"/>
<line x1="842.3" y1="75.9" x2="850.8" y2="75.9" stroke="#000" stroke-width="1.9"/>
<line x1="842.3" y1="148" x2="850.8" y2="148" stroke="#000" stroke-width="1.9"/>
<line x1="842.3" y1="220.1" x2="850.8" y2="220.1" stroke="#000" stroke-width="1.9"/>
<line x1="842.3" y1="292.3" x2="850.8" y2="292.3" stroke="#000" stroke-width="1.9"/>
<line x1="950.5" y1="345" x2="950.5" y2="353.5" stroke="#000" stroke-width="1.9"/>
<line x1="1124.9" y1="345" x2="1124.9" y2="353.5" stroke="#000" stroke-width="1.9"/>
<text x="994.9" y="21.8" font-size="23.6" text-anchor="middle">Trial 5</text>
<line x1="523.5" y1="655.5" x2="810.6" y2="655.5" stroke="#74B5A3" stroke-width="3.2" stroke-dasharray="3.2 6.2"/>
<polyline points="533.8,664 540.7,665.8 547.5,659.8 554.3,647.9 561.1,636.8 567.9,626.6 574.7,604.4 581.5,578.9 586.6,548.2 591.7,517.6 595.2,500.6 599.4,490.3 602.8,500.6 607.1,521 610.5,548.2 615.6,590.8 620.7,633.4 625.8,648.7 629.2,667.5 633.5,693 638.6,708.3 646.2,711.7 651.4,691.3 656.5,674.3 663.3,658.9 669.2,666.6 674.3,672.6 682,679.4 693.1,678.5 699,677.7 705.8,686.2 715.2,689.6 721.2,679.4 728,667.5 733.9,664 741.6,662.3 750.1,662.3 756.1,655.5 762,647.9 770.6,647.9 778.2,647.9 784.2,640.2 791,648.7 798.7,652.1" fill="none" stroke="#5BAE9B" stroke-opacity="0.2" stroke-width="8" stroke-linejoin="round" stroke-linecap="butt"/>
<polyline points="533.8,665.8 540.7,656.4 548.3,655.5 553.4,656.4 558.5,666.6 564.5,659.8 571.3,645.3 578.1,624.9 584.9,590.8 590,556.8 595.2,522.7 600.3,505.7 605.4,514.2 609.6,548.2 613.9,582.3 618.1,616.4 621.5,645.3 625.8,630 630.9,607.8 636,594.2 640.3,589.1 644.5,597.6 649.6,607.8 656.5,623.2 663.3,640.2 670.1,652.1 675.2,648.7 681.2,643.6 685.4,650.4 690.5,664 697.3,679.4 704.1,682.8 711,677.7 717.8,670.9 724.6,664 733.1,658.9 741.6,663.2 749.3,665.8 755.2,661.5 761.2,658.9 767.2,665.8 774,670 779.1,668.3 784.2,653.8 790.1,646.2 798.7,647.9" fill="none" stroke="#BFE6DD" stroke-opacity="0.3" stroke-width="8" stroke-linejoin="round" stroke-linecap="butt"/>
<polyline points="533.8,664 540.7,665.8 547.5,659.8 554.3,647.9 561.1,636.8 567.9,626.6 574.7,604.4 581.5,578.9 586.6,548.2 591.7,517.6 595.2,500.6 599.4,490.3 602.8,500.6 607.1,521 610.5,548.2 615.6,590.8 620.7,633.4 625.8,648.7 629.2,667.5 633.5,693 638.6,708.3 646.2,711.7 651.4,691.3 656.5,674.3 663.3,658.9 669.2,666.6 674.3,672.6 682,679.4 693.1,678.5 699,677.7 705.8,686.2 715.2,689.6 721.2,679.4 728,667.5 733.9,664 741.6,662.3 750.1,662.3 756.1,655.5 762,647.9 770.6,647.9 778.2,647.9 784.2,640.2 791,648.7 798.7,652.1" fill="none" stroke="#0c2620" stroke-width="6.2" stroke-linejoin="round"/>
<polyline points="533.8,664 540.7,665.8 547.5,659.8 554.3,647.9 561.1,636.8 567.9,626.6 574.7,604.4 581.5,578.9 586.6,548.2 591.7,517.6 595.2,500.6 599.4,490.3 602.8,500.6 607.1,521 610.5,548.2 615.6,590.8 620.7,633.4 625.8,648.7 629.2,667.5 633.5,693 638.6,708.3 646.2,711.7 651.4,691.3 656.5,674.3 663.3,658.9 669.2,666.6 674.3,672.6 682,679.4 693.1,678.5 699,677.7 705.8,686.2 715.2,689.6 721.2,679.4 728,667.5 733.9,664 741.6,662.3 750.1,662.3 756.1,655.5 762,647.9 770.6,647.9 778.2,647.9 784.2,640.2 791,648.7 798.7,652.1" fill="none" stroke="#5BAE9B" stroke-width="3.7" stroke-linejoin="round"/>
<polyline points="533.8,665.8 540.7,656.4 548.3,655.5 553.4,656.4 558.5,666.6 564.5,659.8 571.3,645.3 578.1,624.9 584.9,590.8 590,556.8 595.2,522.7 600.3,505.7 605.4,514.2 609.6,548.2 613.9,582.3 618.1,616.4 621.5,645.3 625.8,630 630.9,607.8 636,594.2 640.3,589.1 644.5,597.6 649.6,607.8 656.5,623.2 663.3,640.2 670.1,652.1 675.2,648.7 681.2,643.6 685.4,650.4 690.5,664 697.3,679.4 704.1,682.8 711,677.7 717.8,670.9 724.6,664 733.1,658.9 741.6,663.2 749.3,665.8 755.2,661.5 761.2,658.9 767.2,665.8 774,670 779.1,668.3 784.2,653.8 790.1,646.2 798.7,647.9" fill="none" stroke="#141f1c" stroke-width="6.2" stroke-linejoin="round"/>
<polyline points="533.8,665.8 540.7,656.4 548.3,655.5 553.4,656.4 558.5,666.6 564.5,659.8 571.3,645.3 578.1,624.9 584.9,590.8 590,556.8 595.2,522.7 600.3,505.7 605.4,514.2 609.6,548.2 613.9,582.3 618.1,616.4 621.5,645.3 625.8,630 630.9,607.8 636,594.2 640.3,589.1 644.5,597.6 649.6,607.8 656.5,623.2 663.3,640.2 670.1,652.1 675.2,648.7 681.2,643.6 685.4,650.4 690.5,664 697.3,679.4 704.1,682.8 711,677.7 717.8,670.9 724.6,664 733.1,658.9 741.6,663.2 749.3,665.8 755.2,661.5 761.2,658.9 767.2,665.8 774,670 779.1,668.3 784.2,653.8 790.1,646.2 798.7,647.9" fill="none" stroke="#E6F6F3" stroke-width="3.7" stroke-linejoin="round"/>
<line x1="622.4" y1="418.3" x2="622.4" y2="727.9" stroke="#000" stroke-width="3.6" stroke-dasharray="3.6 6" stroke-dashoffset="-4"/>
<rect x="592.3" y="419.3" width="19.8" height="307.6" fill="#7d7a7a" fill-opacity="0.385"/>
<rect x="633" y="419.3" width="20" height="307.6" fill="#7d7a7a" fill-opacity="0.385"/>
<rect x="673.6" y="419.3" width="19.8" height="307.6" fill="#7d7a7a" fill-opacity="0.385"/>
<path d="M522.5 418.3V727.9H810.6" fill="none" stroke="#000" stroke-width="2" stroke-linejoin="miter"/>
<line x1="514" y1="436.1" x2="522.5" y2="436.1" stroke="#000" stroke-width="1.9"/>
<text x="504.9" y="444.8" text-anchor="end">4</text>
<line x1="514" y1="514" x2="522.5" y2="514" stroke="#000" stroke-width="1.9"/>
<text x="504.9" y="522.7" text-anchor="end">3</text>
<line x1="514" y1="591.8" x2="522.5" y2="591.8" stroke="#000" stroke-width="1.9"/>
<text x="504.9" y="600.5" text-anchor="end">2</text>
<line x1="514" y1="669.6" x2="522.5" y2="669.6" stroke="#000" stroke-width="1.9"/>
<text x="504.9" y="678.3" text-anchor="end">1</text>
<line x1="622.2" y1="727.9" x2="622.2" y2="736.4" stroke="#000" stroke-width="1.9"/>
<line x1="796.6" y1="727.9" x2="796.6" y2="736.4" stroke="#000" stroke-width="1.9"/>
<text transform="translate(478 573.1) rotate(-90)" text-anchor="middle">CS/s</text>
<line x1="851.8" y1="655.5" x2="1138.9" y2="655.5" stroke="#74B5A3" stroke-width="3.2" stroke-dasharray="3.2 6.2"/>
<polyline points="861.8,670.9 869.5,672.6 876.3,677.7 881.4,672.6 887.4,657.2 894.2,640.2 901,626.6 907.8,604.4 912.9,573.8 917.2,531.2 920.6,488.6 924,459.7 927.4,445.2 930.8,458 935.1,483.5 938.5,531.2 941.9,582.3 945.3,616.4 949.5,641.9 953.8,655.5 958.9,665.8 964,681.1 969.1,699.8 974.2,691.3 979.4,677.7 985.3,660.6 991.3,658.9 998.1,650.4 1008.3,648.7 1015.1,658.9 1021.1,667.5 1027,674.3 1033.8,670.9 1039,661.5 1047.5,661.5 1056,662.3 1064.5,664 1073,660.6 1081.5,657.2 1091.8,654.7 1103.7,653 1113.9,648.7 1120.7,652.1 1127.5,654.7" fill="none" stroke="#5BAE9B" stroke-opacity="0.2" stroke-width="9" stroke-linejoin="round" stroke-linecap="butt"/>
<polyline points="861.8,658.9 868.7,677.7 875.5,686.2 881.4,679.4 887.4,653.8 894.2,641.9 901,638.5 905.3,640.2 909.5,623.2 914.6,582.3 918.9,539.7 923.2,497.2 927.4,475 931.7,486.9 935.9,522.7 940.2,565.3 944.4,599.3 948.7,614.7 955.5,617.2 959.8,624.9 964,638.5 969.1,657.2 974.2,664 981.1,655.5 989.6,654.7 998.1,663.2 1008.3,667.5 1016.8,660.6 1027,655.5 1035.6,658.9 1044.1,669.2 1050.9,672.6 1057.7,666.6 1062.8,661.5 1067.9,665.8 1073,664 1079,672.6 1084.9,667.5 1091.8,662.3 1100.3,670.9 1107.1,680.2 1112.2,672.6 1119,657.2 1126.7,649.6" fill="none" stroke="#BFE6DD" stroke-opacity="0.3" stroke-width="8" stroke-linejoin="round" stroke-linecap="butt"/>
<polyline points="861.8,670.9 869.5,672.6 876.3,677.7 881.4,672.6 887.4,657.2 894.2,640.2 901,626.6 907.8,604.4 912.9,573.8 917.2,531.2 920.6,488.6 924,459.7 927.4,445.2 930.8,458 935.1,483.5 938.5,531.2 941.9,582.3 945.3,616.4 949.5,641.9 953.8,655.5 958.9,665.8 964,681.1 969.1,699.8 974.2,691.3 979.4,677.7 985.3,660.6 991.3,658.9 998.1,650.4 1008.3,648.7 1015.1,658.9 1021.1,667.5 1027,674.3 1033.8,670.9 1039,661.5 1047.5,661.5 1056,662.3 1064.5,664 1073,660.6 1081.5,657.2 1091.8,654.7 1103.7,653 1113.9,648.7 1120.7,652.1 1127.5,654.7" fill="none" stroke="#0c2620" stroke-width="6.2" stroke-linejoin="round"/>
<polyline points="861.8,670.9 869.5,672.6 876.3,677.7 881.4,672.6 887.4,657.2 894.2,640.2 901,626.6 907.8,604.4 912.9,573.8 917.2,531.2 920.6,488.6 924,459.7 927.4,445.2 930.8,458 935.1,483.5 938.5,531.2 941.9,582.3 945.3,616.4 949.5,641.9 953.8,655.5 958.9,665.8 964,681.1 969.1,699.8 974.2,691.3 979.4,677.7 985.3,660.6 991.3,658.9 998.1,650.4 1008.3,648.7 1015.1,658.9 1021.1,667.5 1027,674.3 1033.8,670.9 1039,661.5 1047.5,661.5 1056,662.3 1064.5,664 1073,660.6 1081.5,657.2 1091.8,654.7 1103.7,653 1113.9,648.7 1120.7,652.1 1127.5,654.7" fill="none" stroke="#5BAE9B" stroke-width="3.7" stroke-linejoin="round"/>
<polyline points="861.8,658.9 868.7,677.7 875.5,686.2 881.4,679.4 887.4,653.8 894.2,641.9 901,638.5 905.3,640.2 909.5,623.2 914.6,582.3 918.9,539.7 923.2,497.2 927.4,475 931.7,486.9 935.9,522.7 940.2,565.3 944.4,599.3 948.7,614.7 955.5,617.2 959.8,624.9 964,638.5 969.1,657.2 974.2,664 981.1,655.5 989.6,654.7 998.1,663.2 1008.3,667.5 1016.8,660.6 1027,655.5 1035.6,658.9 1044.1,669.2 1050.9,672.6 1057.7,666.6 1062.8,661.5 1067.9,665.8 1073,664 1079,672.6 1084.9,667.5 1091.8,662.3 1100.3,670.9 1107.1,680.2 1112.2,672.6 1119,657.2 1126.7,649.6" fill="none" stroke="#141f1c" stroke-width="6.2" stroke-linejoin="round"/>
<polyline points="861.8,658.9 868.7,677.7 875.5,686.2 881.4,679.4 887.4,653.8 894.2,641.9 901,638.5 905.3,640.2 909.5,623.2 914.6,582.3 918.9,539.7 923.2,497.2 927.4,475 931.7,486.9 935.9,522.7 940.2,565.3 944.4,599.3 948.7,614.7 955.5,617.2 959.8,624.9 964,638.5 969.1,657.2 974.2,664 981.1,655.5 989.6,654.7 998.1,663.2 1008.3,667.5 1016.8,660.6 1027,655.5 1035.6,658.9 1044.1,669.2 1050.9,672.6 1057.7,666.6 1062.8,661.5 1067.9,665.8 1073,664 1079,672.6 1084.9,667.5 1091.8,662.3 1100.3,670.9 1107.1,680.2 1112.2,672.6 1119,657.2 1126.7,649.6" fill="none" stroke="#E6F6F3" stroke-width="3.7" stroke-linejoin="round"/>
<line x1="950.7" y1="418.3" x2="950.7" y2="727.9" stroke="#000" stroke-width="3.6" stroke-dasharray="3.6 6" stroke-dashoffset="-4"/>
<rect x="920.6" y="419.3" width="19.8" height="307.6" fill="#7d7a7a" fill-opacity="0.385"/>
<rect x="961.3" y="419.3" width="20" height="307.6" fill="#7d7a7a" fill-opacity="0.385"/>
<rect x="1001.9" y="419.3" width="19.8" height="307.6" fill="#7d7a7a" fill-opacity="0.385"/>
<path d="M850.8 418.3V727.9H1138.9" fill="none" stroke="#000" stroke-width="2" stroke-linejoin="miter"/>
<line x1="842.3" y1="436.1" x2="850.8" y2="436.1" stroke="#000" stroke-width="1.9"/>
<line x1="842.3" y1="514" x2="850.8" y2="514" stroke="#000" stroke-width="1.9"/>
<line x1="842.3" y1="591.8" x2="850.8" y2="591.8" stroke="#000" stroke-width="1.9"/>
<line x1="842.3" y1="669.6" x2="850.8" y2="669.6" stroke="#000" stroke-width="1.9"/>
<line x1="950.5" y1="727.9" x2="950.5" y2="736.4" stroke="#000" stroke-width="1.9"/>
<line x1="1124.9" y1="727.9" x2="1124.9" y2="736.4" stroke="#000" stroke-width="1.9"/>
<line x1="523.5" y1="908" x2="810.6" y2="908" stroke="#B3A264" stroke-width="3.2" stroke-dasharray="3.2 6.2"/>
<polyline points="533.8,906.7 541.5,908.4 546.6,905 552.6,916 559.4,926.2 564.5,930.5 571.3,922 577.3,915.2 583.2,919.4 588.3,936.5 593.4,963.7 598.6,970.5 603.7,982.4 608.8,997.8 613.9,1016.5 619,1036.9 623.3,1043.8 625.8,1028.4 629.2,960.3 633.5,909.2 636.9,866.6 640.3,842.8 644.5,863.2 651.4,870 656.5,885.4 663.3,899 666.7,919.4 671.8,943.3 676.9,956.9 682,959.5 687.1,950.9 691.4,950.9 695.6,960.3 703.3,969.7 708.4,953.5 714.4,929.6 721.2,909.2 728,916 734.8,909.2 741.6,899 745.9,895.6 751.8,888.8 758.6,861.5 762,857.3 768.9,866.6 774,892.2 779.1,917.7 784.2,900.7 791,885.4 797.8,875.2" fill="none" stroke="#C9903F" stroke-opacity="0.2" stroke-width="22" stroke-linejoin="round" stroke-linecap="butt"/>
<polyline points="534.7,882.8 539.8,868.3 546.6,863.2 552.6,875.2 559.4,880.3 565.3,885.4 570.5,899 574.7,919.4 578.1,939.9 581.5,956.9 586.6,970.5 593.4,989.3 598.6,989.3 603.7,996.1 610.5,1006.3 615.6,1028.4 619,1045.5 622.4,1057.4 627.5,1052.3 630.9,1033.5 635.2,1008 639.4,985.8 645.4,975.6 651.4,988.4 656.5,985 665,984.1 673.5,985 680.3,981.6 687.1,973.9 693.1,962 699,950.1 704.1,938.2 709.3,922.8 716.1,907.5 721.2,910.9 727.1,933.1 733.1,927.9 739.9,914.3 745.9,897.3 750.1,894.7 755.2,880.3 762,873.4 768,867.5 775.7,875.2 782.5,883.7 789.3,893.9 794.4,897.3 799.5,897.6" fill="none" stroke="#E9DFC4" stroke-opacity="0.3" stroke-width="14" stroke-linejoin="round" stroke-linecap="butt"/>
<polyline points="533.8,906.7 541.5,908.4 546.6,905 552.6,916 559.4,926.2 564.5,930.5 571.3,922 577.3,915.2 583.2,919.4 588.3,936.5 593.4,963.7 598.6,970.5 603.7,982.4 608.8,997.8 613.9,1016.5 619,1036.9 623.3,1043.8 625.8,1028.4 629.2,960.3 633.5,909.2 636.9,866.6 640.3,842.8 644.5,863.2 651.4,870 656.5,885.4 663.3,899 666.7,919.4 671.8,943.3 676.9,956.9 682,959.5 687.1,950.9 691.4,950.9 695.6,960.3 703.3,969.7 708.4,953.5 714.4,929.6 721.2,909.2 728,916 734.8,909.2 741.6,899 745.9,895.6 751.8,888.8 758.6,861.5 762,857.3 768.9,866.6 774,892.2 779.1,917.7 784.2,900.7 791,885.4 797.8,875.2" fill="none" stroke="#2a1d08" stroke-width="6.2" stroke-linejoin="round"/>
<polyline points="533.8,906.7 541.5,908.4 546.6,905 552.6,916 559.4,926.2 564.5,930.5 571.3,922 577.3,915.2 583.2,919.4 588.3,936.5 593.4,963.7 598.6,970.5 603.7,982.4 608.8,997.8 613.9,1016.5 619,1036.9 623.3,1043.8 625.8,1028.4 629.2,960.3 633.5,909.2 636.9,866.6 640.3,842.8 644.5,863.2 651.4,870 656.5,885.4 663.3,899 666.7,919.4 671.8,943.3 676.9,956.9 682,959.5 687.1,950.9 691.4,950.9 695.6,960.3 703.3,969.7 708.4,953.5 714.4,929.6 721.2,909.2 728,916 734.8,909.2 741.6,899 745.9,895.6 751.8,888.8 758.6,861.5 762,857.3 768.9,866.6 774,892.2 779.1,917.7 784.2,900.7 791,885.4 797.8,875.2" fill="none" stroke="#C9903F" stroke-width="3.7" stroke-linejoin="round"/>
<polyline points="534.7,882.8 539.8,868.3 546.6,863.2 552.6,875.2 559.4,880.3 565.3,885.4 570.5,899 574.7,919.4 578.1,939.9 581.5,956.9 586.6,970.5 593.4,989.3 598.6,989.3 603.7,996.1 610.5,1006.3 615.6,1028.4 619,1045.5 622.4,1057.4 627.5,1052.3 630.9,1033.5 635.2,1008 639.4,985.8 645.4,975.6 651.4,988.4 656.5,985 665,984.1 673.5,985 680.3,981.6 687.1,973.9 693.1,962 699,950.1 704.1,938.2 709.3,922.8 716.1,907.5 721.2,910.9 727.1,933.1 733.1,927.9 739.9,914.3 745.9,897.3 750.1,894.7 755.2,880.3 762,873.4 768,867.5 775.7,875.2 782.5,883.7 789.3,893.9 794.4,897.3 799.5,897.6" fill="none" stroke="#1c1a14" stroke-width="6.2" stroke-linejoin="round"/>
<polyline points="534.7,882.8 539.8,868.3 546.6,863.2 552.6,875.2 559.4,880.3 565.3,885.4 570.5,899 574.7,919.4 578.1,939.9 581.5,956.9 586.6,970.5 593.4,989.3 598.6,989.3 603.7,996.1 610.5,1006.3 615.6,1028.4 619,1045.5 622.4,1057.4 627.5,1052.3 630.9,1033.5 635.2,1008 639.4,985.8 645.4,975.6 651.4,988.4 656.5,985 665,984.1 673.5,985 680.3,981.6 687.1,973.9 693.1,962 699,950.1 704.1,938.2 709.3,922.8 716.1,907.5 721.2,910.9 727.1,933.1 733.1,927.9 739.9,914.3 745.9,897.3 750.1,894.7 755.2,880.3 762,873.4 768,867.5 775.7,875.2 782.5,883.7 789.3,893.9 794.4,897.3 799.5,897.6" fill="none" stroke="#FBF7EC" stroke-width="3.7" stroke-linejoin="round"/>
<line x1="622.4" y1="801.3" x2="622.4" y2="1082.5" stroke="#000" stroke-width="3.6" stroke-dasharray="3.6 6" stroke-dashoffset="-4"/>
<rect x="592.3" y="802.3" width="19.8" height="279.2" fill="#7d7a7a" fill-opacity="0.385"/>
<rect x="633" y="802.3" width="20" height="279.2" fill="#7d7a7a" fill-opacity="0.385"/>
<rect x="673.6" y="802.3" width="19.8" height="279.2" fill="#7d7a7a" fill-opacity="0.385"/>
<path d="M522.5 801.3V1082.5H810.6" fill="none" stroke="#000" stroke-width="2" stroke-linejoin="miter"/>
<line x1="514" y1="848.5" x2="522.5" y2="848.5" stroke="#000" stroke-width="1.9"/>
<text x="504.9" y="857.2" text-anchor="end">1.5</text>
<line x1="514" y1="936.8" x2="522.5" y2="936.8" stroke="#000" stroke-width="1.9"/>
<text x="504.9" y="945.5" text-anchor="end">1.0</text>
<line x1="514" y1="1025.9" x2="522.5" y2="1025.9" stroke="#000" stroke-width="1.9"/>
<text x="504.9" y="1034.6" text-anchor="end">0.5</text>
<line x1="622.2" y1="1082.5" x2="622.2" y2="1091" stroke="#000" stroke-width="1.9"/>
<line x1="796.6" y1="1082.5" x2="796.6" y2="1091" stroke="#000" stroke-width="1.9"/>
<text transform="translate(453.2 941.9) rotate(-90)" text-anchor="middle">CS/s</text>
<line x1="851.8" y1="908" x2="1138.9" y2="908" stroke="#B3A264" stroke-width="3.2" stroke-dasharray="3.2 6.2"/>
<polyline points="861.8,885.4 868.7,892.2 874.6,899 880.6,892.2 887.4,892.2 893.3,882.8 897.6,909.2 901,919.4 905.3,924.5 909.5,939.9 914.6,953.5 919.7,972.2 924.9,985.8 930,996.1 935.1,1002.9 940.2,1023.3 945.3,1050.6 949.5,1053.1 953.8,1011.4 957.2,960.3 961.5,909.2 964.9,885.4 968.3,871.7 972.5,892.2 976.8,912.6 982.8,916.9 991.3,913.5 996.4,929.6 1002.3,928.8 1010,939.9 1015.1,931.4 1018.5,943.3 1023.6,956.9 1031.3,966.3 1037.3,956.9 1045.8,943.3 1054.3,933.1 1061.1,927.9 1069.6,914.3 1078.1,898.1 1083.2,907.5 1089.2,910.9 1095.2,905.8 1102,894.7 1110.5,900.7 1119,916 1124.1,904.1 1126.7,896.4" fill="none" stroke="#C9903F" stroke-opacity="0.2" stroke-width="22" stroke-linejoin="round" stroke-linecap="butt"/>
<polyline points="861.8,905.8 868.7,904.1 874.6,901.5 880.6,897.3 887.4,903.3 895.9,903.3 904.4,899.8 909.5,916 914.6,934.8 919.7,953.5 924,966.3 930,967.1 934.2,967.1 940.2,989.3 945.3,1025 948.7,1052.3 951.3,1061.6 957.2,1048.9 961.5,1011.4 964.9,968.8 968.3,934.8 972.5,914.3 976.8,913.5 981.1,939.9 987.9,960.3 993,973.9 998.1,980.7 1004,979.9 1010,970.5 1015.1,943.3 1018.5,926.2 1023.6,895.6 1027,876.9 1032.1,878.6 1037.3,895.6 1044.1,919.4 1048.3,916.9 1054.3,895.6 1061.1,897.3 1066.2,882 1073,861.5 1078.1,846.2 1083.2,858.1 1090,878.6 1096.9,897.3 1102,909.2 1107.1,921.1 1112.2,909.2 1117.3,871.7 1122.4,856.4 1125.8,850.5" fill="none" stroke="#E9DFC4" stroke-opacity="0.3" stroke-width="14" stroke-linejoin="round" stroke-linecap="butt"/>
<polyline points="861.8,885.4 868.7,892.2 874.6,899 880.6,892.2 887.4,892.2 893.3,882.8 897.6,909.2 901,919.4 905.3,924.5 909.5,939.9 914.6,953.5 919.7,972.2 924.9,985.8 930,996.1 935.1,1002.9 940.2,1023.3 945.3,1050.6 949.5,1053.1 953.8,1011.4 957.2,960.3 961.5,909.2 964.9,885.4 968.3,871.7 972.5,892.2 976.8,912.6 982.8,916.9 991.3,913.5 996.4,929.6 1002.3,928.8 1010,939.9 1015.1,931.4 1018.5,943.3 1023.6,956.9 1031.3,966.3 1037.3,956.9 1045.8,943.3 1054.3,933.1 1061.1,927.9 1069.6,914.3 1078.1,898.1 1083.2,907.5 1089.2,910.9 1095.2,905.8 1102,894.7 1110.5,900.7 1119,916 1124.1,904.1 1126.7,896.4" fill="none" stroke="#2a1d08" stroke-width="6.2" stroke-linejoin="round"/>
<polyline points="861.8,885.4 868.7,892.2 874.6,899 880.6,892.2 887.4,892.2 893.3,882.8 897.6,909.2 901,919.4 905.3,924.5 909.5,939.9 914.6,953.5 919.7,972.2 924.9,985.8 930,996.1 935.1,1002.9 940.2,1023.3 945.3,1050.6 949.5,1053.1 953.8,1011.4 957.2,960.3 961.5,909.2 964.9,885.4 968.3,871.7 972.5,892.2 976.8,912.6 982.8,916.9 991.3,913.5 996.4,929.6 1002.3,928.8 1010,939.9 1015.1,931.4 1018.5,943.3 1023.6,956.9 1031.3,966.3 1037.3,956.9 1045.8,943.3 1054.3,933.1 1061.1,927.9 1069.6,914.3 1078.1,898.1 1083.2,907.5 1089.2,910.9 1095.2,905.8 1102,894.7 1110.5,900.7 1119,916 1124.1,904.1 1126.7,896.4" fill="none" stroke="#C9903F" stroke-width="3.7" stroke-linejoin="round"/>
<polyline points="861.8,905.8 868.7,904.1 874.6,901.5 880.6,897.3 887.4,903.3 895.9,903.3 904.4,899.8 909.5,916 914.6,934.8 919.7,953.5 924,966.3 930,967.1 934.2,967.1 940.2,989.3 945.3,1025 948.7,1052.3 951.3,1061.6 957.2,1048.9 961.5,1011.4 964.9,968.8 968.3,934.8 972.5,914.3 976.8,913.5 981.1,939.9 987.9,960.3 993,973.9 998.1,980.7 1004,979.9 1010,970.5 1015.1,943.3 1018.5,926.2 1023.6,895.6 1027,876.9 1032.1,878.6 1037.3,895.6 1044.1,919.4 1048.3,916.9 1054.3,895.6 1061.1,897.3 1066.2,882 1073,861.5 1078.1,846.2 1083.2,858.1 1090,878.6 1096.9,897.3 1102,909.2 1107.1,921.1 1112.2,909.2 1117.3,871.7 1122.4,856.4 1125.8,850.5" fill="none" stroke="#1c1a14" stroke-width="6.2" stroke-linejoin="round"/>
<polyline points="861.8,905.8 868.7,904.1 874.6,901.5 880.6,897.3 887.4,903.3 895.9,903.3 904.4,899.8 909.5,916 914.6,934.8 919.7,953.5 924,966.3 930,967.1 934.2,967.1 940.2,989.3 945.3,1025 948.7,1052.3 951.3,1061.6 957.2,1048.9 961.5,1011.4 964.9,968.8 968.3,934.8 972.5,914.3 976.8,913.5 981.1,939.9 987.9,960.3 993,973.9 998.1,980.7 1004,979.9 1010,970.5 1015.1,943.3 1018.5,926.2 1023.6,895.6 1027,876.9 1032.1,878.6 1037.3,895.6 1044.1,919.4 1048.3,916.9 1054.3,895.6 1061.1,897.3 1066.2,882 1073,861.5 1078.1,846.2 1083.2,858.1 1090,878.6 1096.9,897.3 1102,909.2 1107.1,921.1 1112.2,909.2 1117.3,871.7 1122.4,856.4 1125.8,850.5" fill="none" stroke="#FBF7EC" stroke-width="3.7" stroke-linejoin="round"/>
<line x1="950.7" y1="801.3" x2="950.7" y2="1082.5" stroke="#000" stroke-width="3.6" stroke-dasharray="3.6 6" stroke-dashoffset="-4"/>
<rect x="920.6" y="802.3" width="19.8" height="279.2" fill="#7d7a7a" fill-opacity="0.385"/>
<rect x="961.3" y="802.3" width="20" height="279.2" fill="#7d7a7a" fill-opacity="0.385"/>
<rect x="1001.9" y="802.3" width="19.8" height="279.2" fill="#7d7a7a" fill-opacity="0.385"/>
<path d="M850.8 801.3V1082.5H1138.9" fill="none" stroke="#000" stroke-width="2" stroke-linejoin="miter"/>
<line x1="842.3" y1="848.5" x2="850.8" y2="848.5" stroke="#000" stroke-width="1.9"/>
<line x1="842.3" y1="936.8" x2="850.8" y2="936.8" stroke="#000" stroke-width="1.9"/>
<line x1="842.3" y1="1025.9" x2="850.8" y2="1025.9" stroke="#000" stroke-width="1.9"/>
<line x1="950.5" y1="1082.5" x2="950.5" y2="1091" stroke="#000" stroke-width="1.9"/>
<line x1="1124.9" y1="1082.5" x2="1124.9" y2="1091" stroke="#000" stroke-width="1.9"/>
<line x1="523.5" y1="1330.3" x2="810.6" y2="1330.3" stroke="#74B5A3" stroke-width="3.2" stroke-dasharray="3.2 6.2"/>
<polyline points="533,1338.3 540.7,1337.5 546.6,1323.8 552.6,1332.4 558.5,1340.9 564.5,1323.8 568.8,1298.3 573,1264.2 577.3,1230.2 581.5,1206.3 584.9,1204.6 588.3,1230.2 593.4,1272.8 598.6,1306.8 603.7,1332.4 608.8,1342.6 615.6,1337.5 620.7,1334.1 629.2,1332.4 632.6,1349.4 636.9,1369.8 640.3,1385.2 646.2,1395.4 651.4,1371.5 658.2,1340.9 663.3,1315.3 669.2,1303.4 672.6,1276.2 676.9,1264.2 681.2,1265.9 685.4,1281.3 690.5,1298.3 695.6,1308.5 699,1311.9 703.3,1303.4 707.6,1323.8 712.7,1344.3 716.1,1352.8 721.2,1353.7 726.3,1334.1 733.1,1325.6 739.1,1332.4 745.9,1330.7 751.8,1317 756.1,1308.5 762,1306.8 767.2,1315.3 774,1322.1 780.8,1327.3 785.9,1323.8 791,1335.8 798.7,1342.6" fill="none" stroke="#5BAE9B" stroke-opacity="0.2" stroke-width="12" stroke-linejoin="round" stroke-linecap="butt"/>
<polyline points="533.8,1340 539.8,1330.7 544.9,1329.8 551.7,1342.6 559.4,1349.4 565.3,1335.8 570.5,1306.8 575.6,1264.2 579.8,1230.2 584.1,1204.6 587.5,1192.7 590.9,1213.2 595.2,1247.2 599.4,1289.8 603.7,1323.8 606.2,1340.9 612.2,1335.8 617.3,1328.1 623.3,1326.4 627.5,1298.3 632.6,1255.7 637.7,1213.2 642.8,1187.6 646.2,1175.7 651.4,1168 654.8,1175.7 659,1185.9 661.6,1213.2 664.1,1243.8 668.4,1271.1 673.5,1266.8 677.7,1255.7 681.2,1242.1 685.4,1260.8 690.5,1289.8 694.8,1315.3 697.3,1344.3 702.4,1340 707.6,1335.8 711,1323.8 715.2,1311.9 721.2,1305.1 727.1,1301.7 733.1,1315.3 739.9,1329 745.9,1342.6 751.8,1354.5 756.1,1359.6 759.5,1340.9 763.8,1315.3 768,1301.7 774,1296.6 779.1,1329 785.9,1337.5 791,1344.3 798.7,1345.1" fill="none" stroke="#BFE6DD" stroke-opacity="0.3" stroke-width="9" stroke-linejoin="round" stroke-linecap="butt"/>
<polyline points="533,1338.3 540.7,1337.5 546.6,1323.8 552.6,1332.4 558.5,1340.9 564.5,1323.8 568.8,1298.3 573,1264.2 577.3,1230.2 581.5,1206.3 584.9,1204.6 588.3,1230.2 593.4,1272.8 598.6,1306.8 603.7,1332.4 608.8,1342.6 615.6,1337.5 620.7,1334.1 629.2,1332.4 632.6,1349.4 636.9,1369.8 640.3,1385.2 646.2,1395.4 651.4,1371.5 658.2,1340.9 663.3,1315.3 669.2,1303.4 672.6,1276.2 676.9,1264.2 681.2,1265.9 685.4,1281.3 690.5,1298.3 695.6,1308.5 699,1311.9 703.3,1303.4 707.6,1323.8 712.7,1344.3 716.1,1352.8 721.2,1353.7 726.3,1334.1 733.1,1325.6 739.1,1332.4 745.9,1330.7 751.8,1317 756.1,1308.5 762,1306.8 767.2,1315.3 774,1322.1 780.8,1327.3 785.9,1323.8 791,1335.8 798.7,1342.6" fill="none" stroke="#0c2620" stroke-width="6.2" stroke-linejoin="round"/>
<polyline points="533,1338.3 540.7,1337.5 546.6,1323.8 552.6,1332.4 558.5,1340.9 564.5,1323.8 568.8,1298.3 573,1264.2 577.3,1230.2 581.5,1206.3 584.9,1204.6 588.3,1230.2 593.4,1272.8 598.6,1306.8 603.7,1332.4 608.8,1342.6 615.6,1337.5 620.7,1334.1 629.2,1332.4 632.6,1349.4 636.9,1369.8 640.3,1385.2 646.2,1395.4 651.4,1371.5 658.2,1340.9 663.3,1315.3 669.2,1303.4 672.6,1276.2 676.9,1264.2 681.2,1265.9 685.4,1281.3 690.5,1298.3 695.6,1308.5 699,1311.9 703.3,1303.4 707.6,1323.8 712.7,1344.3 716.1,1352.8 721.2,1353.7 726.3,1334.1 733.1,1325.6 739.1,1332.4 745.9,1330.7 751.8,1317 756.1,1308.5 762,1306.8 767.2,1315.3 774,1322.1 780.8,1327.3 785.9,1323.8 791,1335.8 798.7,1342.6" fill="none" stroke="#5BAE9B" stroke-width="3.7" stroke-linejoin="round"/>
<polyline points="533.8,1340 539.8,1330.7 544.9,1329.8 551.7,1342.6 559.4,1349.4 565.3,1335.8 570.5,1306.8 575.6,1264.2 579.8,1230.2 584.1,1204.6 587.5,1192.7 590.9,1213.2 595.2,1247.2 599.4,1289.8 603.7,1323.8 606.2,1340.9 612.2,1335.8 617.3,1328.1 623.3,1326.4 627.5,1298.3 632.6,1255.7 637.7,1213.2 642.8,1187.6 646.2,1175.7 651.4,1168 654.8,1175.7 659,1185.9 661.6,1213.2 664.1,1243.8 668.4,1271.1 673.5,1266.8 677.7,1255.7 681.2,1242.1 685.4,1260.8 690.5,1289.8 694.8,1315.3 697.3,1344.3 702.4,1340 707.6,1335.8 711,1323.8 715.2,1311.9 721.2,1305.1 727.1,1301.7 733.1,1315.3 739.9,1329 745.9,1342.6 751.8,1354.5 756.1,1359.6 759.5,1340.9 763.8,1315.3 768,1301.7 774,1296.6 779.1,1329 785.9,1337.5 791,1344.3 798.7,1345.1" fill="none" stroke="#141f1c" stroke-width="6.2" stroke-linejoin="round"/>
<polyline points="533.8,1340 539.8,1330.7 544.9,1329.8 551.7,1342.6 559.4,1349.4 565.3,1335.8 570.5,1306.8 575.6,1264.2 579.8,1230.2 584.1,1204.6 587.5,1192.7 590.9,1213.2 595.2,1247.2 599.4,1289.8 603.7,1323.8 606.2,1340.9 612.2,1335.8 617.3,1328.1 623.3,1326.4 627.5,1298.3 632.6,1255.7 637.7,1213.2 642.8,1187.6 646.2,1175.7 651.4,1168 654.8,1175.7 659,1185.9 661.6,1213.2 664.1,1243.8 668.4,1271.1 673.5,1266.8 677.7,1255.7 681.2,1242.1 685.4,1260.8 690.5,1289.8 694.8,1315.3 697.3,1344.3 702.4,1340 707.6,1335.8 711,1323.8 715.2,1311.9 721.2,1305.1 727.1,1301.7 733.1,1315.3 739.9,1329 745.9,1342.6 751.8,1354.5 756.1,1359.6 759.5,1340.9 763.8,1315.3 768,1301.7 774,1296.6 779.1,1329 785.9,1337.5 791,1344.3 798.7,1345.1" fill="none" stroke="#E6F6F3" stroke-width="3.7" stroke-linejoin="round"/>
<line x1="622.4" y1="1138.2" x2="622.4" y2="1419.6" stroke="#000" stroke-width="3.6" stroke-dasharray="3.6 6" stroke-dashoffset="-4"/>
<rect x="592.3" y="1139.2" width="19.8" height="279.4" fill="#7d7a7a" fill-opacity="0.385"/>
<rect x="633" y="1139.2" width="20" height="279.4" fill="#7d7a7a" fill-opacity="0.385"/>
<rect x="673.6" y="1139.2" width="19.8" height="279.4" fill="#7d7a7a" fill-opacity="0.385"/>
<path d="M522.5 1138.2V1419.6H810.6" fill="none" stroke="#000" stroke-width="2" stroke-linejoin="miter"/>
<line x1="514" y1="1148.5" x2="522.5" y2="1148.5" stroke="#000" stroke-width="1.9"/>
<text x="504.9" y="1157.2" text-anchor="end">2.5</text>
<line x1="514" y1="1219.3" x2="522.5" y2="1219.3" stroke="#000" stroke-width="1.9"/>
<text x="504.9" y="1228" text-anchor="end">2.0</text>
<line x1="514" y1="1290.2" x2="522.5" y2="1290.2" stroke="#000" stroke-width="1.9"/>
<text x="504.9" y="1298.9" text-anchor="end">1.5</text>
<line x1="514" y1="1361" x2="522.5" y2="1361" stroke="#000" stroke-width="1.9"/>
<text x="504.9" y="1369.7" text-anchor="end">1.0</text>
<line x1="622.2" y1="1419.6" x2="622.2" y2="1428.1" stroke="#000" stroke-width="1.9"/>
<line x1="796.6" y1="1419.6" x2="796.6" y2="1428.1" stroke="#000" stroke-width="1.9"/>
<text transform="translate(453.2 1278.9) rotate(-90)" text-anchor="middle">CS/s</text>
<line x1="851.8" y1="1330.3" x2="1138.9" y2="1330.3" stroke="#74B5A3" stroke-width="3.2" stroke-dasharray="3.2 6.2"/>
<polyline points="861.8,1314.5 868.7,1308.5 876.3,1305.1 881.4,1306.8 887.4,1320.4 892.5,1305.1 897.6,1281.3 901.9,1255.7 906.1,1230.2 910.4,1209.7 913.8,1226.8 918,1255.7 923.2,1289.8 928.3,1315.3 935.1,1327.3 943.6,1331.5 950.4,1323.8 954.7,1342.6 958.9,1363 964,1377.5 969.1,1376.6 974.2,1354.5 979.4,1317 985.3,1315.3 991.3,1305.1 997.2,1314.5 1001.5,1303.4 1008.3,1298.3 1014.3,1294 1018.5,1300 1023.6,1310.2 1030.4,1315.3 1037.3,1318.7 1042.4,1310.2 1048.3,1305.1 1054.3,1294 1057.7,1306.8 1062.8,1325.6 1067.9,1337.5 1073,1352.8 1078.1,1339.2 1083.2,1328.1 1090,1335.8 1096.9,1351.1 1102.8,1363.9 1110.5,1361.3 1115.6,1359.6 1120.7,1359.6 1127.5,1352.8" fill="none" stroke="#5BAE9B" stroke-opacity="0.2" stroke-width="16" stroke-linejoin="round" stroke-linecap="butt"/>
<polyline points="861.8,1331.5 868.7,1330.7 876.3,1323.8 881.4,1323.8 887.4,1329.8 892.5,1323.8 897.6,1298.3 902.7,1264.2 907,1233.6 911.2,1218.3 916.3,1230.2 919.7,1247.2 924,1272.8 927.4,1298.3 930.8,1306.8 935.9,1316.2 941.9,1315.3 948.7,1317 953.8,1298.3 958.9,1272.8 964,1247.2 968.3,1228.5 974.2,1223.4 979.4,1214.9 982.8,1223.4 987,1238.7 991.3,1254 998.1,1249.8 1004,1249.8 1008.3,1248.9 1013.4,1269.4 1018.5,1281.3 1023.6,1296.6 1030.4,1318.7 1037.3,1322.1 1044.1,1324.7 1049.2,1319.6 1054.3,1330.7 1059.4,1342.6 1066.2,1346 1073,1335.8 1079.8,1340.9 1084.9,1342.6 1090,1354.5 1093.5,1340.9 1097.7,1323.8 1102.8,1318.7 1108.8,1323.8 1113.9,1334.1 1119,1343.4 1125.8,1331.5" fill="none" stroke="#BFE6DD" stroke-opacity="0.3" stroke-width="10" stroke-linejoin="round" stroke-linecap="butt"/>
<polyline points="861.8,1314.5 868.7,1308.5 876.3,1305.1 881.4,1306.8 887.4,1320.4 892.5,1305.1 897.6,1281.3 901.9,1255.7 906.1,1230.2 910.4,1209.7 913.8,1226.8 918,1255.7 923.2,1289.8 928.3,1315.3 935.1,1327.3 943.6,1331.5 950.4,1323.8 954.7,1342.6 958.9,1363 964,1377.5 969.1,1376.6 974.2,1354.5 979.4,1317 985.3,1315.3 991.3,1305.1 997.2,1314.5 1001.5,1303.4 1008.3,1298.3 1014.3,1294 1018.5,1300 1023.6,1310.2 1030.4,1315.3 1037.3,1318.7 1042.4,1310.2 1048.3,1305.1 1054.3,1294 1057.7,1306.8 1062.8,1325.6 1067.9,1337.5 1073,1352.8 1078.1,1339.2 1083.2,1328.1 1090,1335.8 1096.9,1351.1 1102.8,1363.9 1110.5,1361.3 1115.6,1359.6 1120.7,1359.6 1127.5,1352.8" fill="none" stroke="#0c2620" stroke-width="6.2" stroke-linejoin="round"/>
<polyline points="861.8,1314.5 868.7,1308.5 876.3,1305.1 881.4,1306.8 887.4,1320.4 892.5,1305.1 897.6,1281.3 901.9,1255.7 906.1,1230.2 910.4,1209.7 913.8,1226.8 918,1255.7 923.2,1289.8 928.3,1315.3 935.1,1327.3 943.6,1331.5 950.4,1323.8 954.7,1342.6 958.9,1363 964,1377.5 969.1,1376.6 974.2,1354.5 979.4,1317 985.3,1315.3 991.3,1305.1 997.2,1314.5 1001.5,1303.4 1008.3,1298.3 1014.3,1294 1018.5,1300 1023.6,1310.2 1030.4,1315.3 1037.3,1318.7 1042.4,1310.2 1048.3,1305.1 1054.3,1294 1057.7,1306.8 1062.8,1325.6 1067.9,1337.5 1073,1352.8 1078.1,1339.2 1083.2,1328.1 1090,1335.8 1096.9,1351.1 1102.8,1363.9 1110.5,1361.3 1115.6,1359.6 1120.7,1359.6 1127.5,1352.8" fill="none" stroke="#5BAE9B" stroke-width="3.7" stroke-linejoin="round"/>
<polyline points="861.8,1331.5 868.7,1330.7 876.3,1323.8 881.4,1323.8 887.4,1329.8 892.5,1323.8 897.6,1298.3 902.7,1264.2 907,1233.6 911.2,1218.3 916.3,1230.2 919.7,1247.2 924,1272.8 927.4,1298.3 930.8,1306.8 935.9,1316.2 941.9,1315.3 948.7,1317 953.8,1298.3 958.9,1272.8 964,1247.2 968.3,1228.5 974.2,1223.4 979.4,1214.9 982.8,1223.4 987,1238.7 991.3,1254 998.1,1249.8 1004,1249.8 1008.3,1248.9 1013.4,1269.4 1018.5,1281.3 1023.6,1296.6 1030.4,1318.7 1037.3,1322.1 1044.1,1324.7 1049.2,1319.6 1054.3,1330.7 1059.4,1342.6 1066.2,1346 1073,1335.8 1079.8,1340.9 1084.9,1342.6 1090,1354.5 1093.5,1340.9 1097.7,1323.8 1102.8,1318.7 1108.8,1323.8 1113.9,1334.1 1119,1343.4 1125.8,1331.5" fill="none" stroke="#141f1c" stroke-width="6.2" stroke-linejoin="round"/>
<polyline points="861.8,1331.5 868.7,1330.7 876.3,1323.8 881.4,1323.8 887.4,1329.8 892.5,1323.8 897.6,1298.3 902.7,1264.2 907,1233.6 911.2,1218.3 916.3,1230.2 919.7,1247.2 924,1272.8 927.4,1298.3 930.8,1306.8 935.9,1316.2 941.9,1315.3 948.7,1317 953.8,1298.3 958.9,1272.8 964,1247.2 968.3,1228.5 974.2,1223.4 979.4,1214.9 982.8,1223.4 987,1238.7 991.3,1254 998.1,1249.8 1004,1249.8 1008.3,1248.9 1013.4,1269.4 1018.5,1281.3 1023.6,1296.6 1030.4,1318.7 1037.3,1322.1 1044.1,1324.7 1049.2,1319.6 1054.3,1330.7 1059.4,1342.6 1066.2,1346 1073,1335.8 1079.8,1340.9 1084.9,1342.6 1090,1354.5 1093.5,1340.9 1097.7,1323.8 1102.8,1318.7 1108.8,1323.8 1113.9,1334.1 1119,1343.4 1125.8,1331.5" fill="none" stroke="#E6F6F3" stroke-width="3.7" stroke-linejoin="round"/>
<line x1="950.7" y1="1138.2" x2="950.7" y2="1419.6" stroke="#000" stroke-width="3.6" stroke-dasharray="3.6 6" stroke-dashoffset="-4"/>
<rect x="920.6" y="1139.2" width="19.8" height="279.4" fill="#7d7a7a" fill-opacity="0.385"/>
<rect x="961.3" y="1139.2" width="20" height="279.4" fill="#7d7a7a" fill-opacity="0.385"/>
<rect x="1001.9" y="1139.2" width="19.8" height="279.4" fill="#7d7a7a" fill-opacity="0.385"/>
<path d="M850.8 1138.2V1419.6H1138.9" fill="none" stroke="#000" stroke-width="2" stroke-linejoin="miter"/>
<line x1="842.3" y1="1148.5" x2="850.8" y2="1148.5" stroke="#000" stroke-width="1.9"/>
<line x1="842.3" y1="1219.3" x2="850.8" y2="1219.3" stroke="#000" stroke-width="1.9"/>
<line x1="842.3" y1="1290.2" x2="850.8" y2="1290.2" stroke="#000" stroke-width="1.9"/>
<line x1="842.3" y1="1361" x2="850.8" y2="1361" stroke="#000" stroke-width="1.9"/>
<line x1="950.5" y1="1419.6" x2="950.5" y2="1428.1" stroke="#000" stroke-width="1.9"/>
<line x1="1124.9" y1="1419.6" x2="1124.9" y2="1428.1" stroke="#000" stroke-width="1.9"/>
<line x1="523.5" y1="1715.2" x2="810.6" y2="1715.2" stroke="#B3A264" stroke-width="3.2" stroke-dasharray="3.2 6.2"/>
<polyline points="533.8,1711.8 540.7,1713.5 546.6,1716.1 553.4,1714.4 558.5,1710.9 564.5,1716.1 569.6,1728.8 574.7,1739 581.5,1745.9 588.3,1756.1 595.2,1764.6 602,1769.7 607.9,1779.9 612.2,1784.2 616.4,1785.9 619,1759.5 621.5,1708.4 624.1,1640.3 627.5,1572.2 630.9,1546.6 634.3,1528.7 637.7,1555.1 641.1,1597.7 643.7,1648.8 646.2,1696.5 650.5,1715.2 655.6,1722 661.6,1716.9 666.7,1705 673.5,1698.2 680.3,1695.6 687.1,1693.9 693.9,1690.5 699,1690.5 704.1,1693.1 709.3,1699.9 716.1,1710.1 721.2,1716.9 727.1,1720.3 733.1,1717.8 739.1,1716.1 745,1715.2 750.1,1715.2 756.1,1700.7 762,1689.7 767.2,1693.9 773.1,1692.2 779.1,1696.5 785,1695.6 791,1708.4 798.7,1714.4" fill="none" stroke="#C9903F" stroke-opacity="0.2" stroke-width="11" stroke-linejoin="round" stroke-linecap="butt"/>
<polyline points="533,1715.2 540.7,1717.8 548.3,1722.9 554.3,1726.3 559.4,1727.1 564.5,1724.6 570.5,1729.7 576.4,1732.2 581.5,1741.6 587.5,1752.7 593.4,1761.2 600.3,1765.4 607.1,1773.1 611.3,1783.3 615.6,1768 619,1749.3 622.4,1740.8 628.4,1735.6 630.9,1745.9 634.3,1759.5 637.7,1771.4 640.3,1776.5 643.7,1766.3 647.1,1747.6 651.4,1723.7 656.5,1711.8 661.6,1707.5 666.7,1705.8 673.5,1705.8 680.3,1705 687.1,1708.4 692.2,1713.5 697.3,1718.6 704.1,1721.2 709.3,1726.3 716.1,1732.2 721.2,1730.5 727.1,1728 733.1,1722 738.2,1720.3 744.2,1712.7 750.1,1707.5 755.2,1706.7 760.3,1704.1 765.5,1699.9 770.6,1696.5 774,1696.5 779.1,1699.9 784.2,1696.5 791,1690.5 794.4,1679.4 797.8,1670.9" fill="none" stroke="#E9DFC4" stroke-opacity="0.3" stroke-width="10" stroke-linejoin="round" stroke-linecap="butt"/>
<polyline points="533.8,1711.8 540.7,1713.5 546.6,1716.1 553.4,1714.4 558.5,1710.9 564.5,1716.1 569.6,1728.8 574.7,1739 581.5,1745.9 588.3,1756.1 595.2,1764.6 602,1769.7 607.9,1779.9 612.2,1784.2 616.4,1785.9 619,1759.5 621.5,1708.4 624.1,1640.3 627.5,1572.2 630.9,1546.6 634.3,1528.7 637.7,1555.1 641.1,1597.7 643.7,1648.8 646.2,1696.5 650.5,1715.2 655.6,1722 661.6,1716.9 666.7,1705 673.5,1698.2 680.3,1695.6 687.1,1693.9 693.9,1690.5 699,1690.5 704.1,1693.1 709.3,1699.9 716.1,1710.1 721.2,1716.9 727.1,1720.3 733.1,1717.8 739.1,1716.1 745,1715.2 750.1,1715.2 756.1,1700.7 762,1689.7 767.2,1693.9 773.1,1692.2 779.1,1696.5 785,1695.6 791,1708.4 798.7,1714.4" fill="none" stroke="#2a1d08" stroke-width="6.2" stroke-linejoin="round"/>
<polyline points="533.8,1711.8 540.7,1713.5 546.6,1716.1 553.4,1714.4 558.5,1710.9 564.5,1716.1 569.6,1728.8 574.7,1739 581.5,1745.9 588.3,1756.1 595.2,1764.6 602,1769.7 607.9,1779.9 612.2,1784.2 616.4,1785.9 619,1759.5 621.5,1708.4 624.1,1640.3 627.5,1572.2 630.9,1546.6 634.3,1528.7 637.7,1555.1 641.1,1597.7 643.7,1648.8 646.2,1696.5 650.5,1715.2 655.6,1722 661.6,1716.9 666.7,1705 673.5,1698.2 680.3,1695.6 687.1,1693.9 693.9,1690.5 699,1690.5 704.1,1693.1 709.3,1699.9 716.1,1710.1 721.2,1716.9 727.1,1720.3 733.1,1717.8 739.1,1716.1 745,1715.2 750.1,1715.2 756.1,1700.7 762,1689.7 767.2,1693.9 773.1,1692.2 779.1,1696.5 785,1695.6 791,1708.4 798.7,1714.4" fill="none" stroke="#C9903F" stroke-width="3.7" stroke-linejoin="round"/>
<polyline points="533,1715.2 540.7,1717.8 548.3,1722.9 554.3,1726.3 559.4,1727.1 564.5,1724.6 570.5,1729.7 576.4,1732.2 581.5,1741.6 587.5,1752.7 593.4,1761.2 600.3,1765.4 607.1,1773.1 611.3,1783.3 615.6,1768 619,1749.3 622.4,1740.8 628.4,1735.6 630.9,1745.9 634.3,1759.5 637.7,1771.4 640.3,1776.5 643.7,1766.3 647.1,1747.6 651.4,1723.7 656.5,1711.8 661.6,1707.5 666.7,1705.8 673.5,1705.8 680.3,1705 687.1,1708.4 692.2,1713.5 697.3,1718.6 704.1,1721.2 709.3,1726.3 716.1,1732.2 721.2,1730.5 727.1,1728 733.1,1722 738.2,1720.3 744.2,1712.7 750.1,1707.5 755.2,1706.7 760.3,1704.1 765.5,1699.9 770.6,1696.5 774,1696.5 779.1,1699.9 784.2,1696.5 791,1690.5 794.4,1679.4 797.8,1670.9" fill="none" stroke="#1c1a14" stroke-width="6.2" stroke-linejoin="round"/>
<polyline points="533,1715.2 540.7,1717.8 548.3,1722.9 554.3,1726.3 559.4,1727.1 564.5,1724.6 570.5,1729.7 576.4,1732.2 581.5,1741.6 587.5,1752.7 593.4,1761.2 600.3,1765.4 607.1,1773.1 611.3,1783.3 615.6,1768 619,1749.3 622.4,1740.8 628.4,1735.6 630.9,1745.9 634.3,1759.5 637.7,1771.4 640.3,1776.5 643.7,1766.3 647.1,1747.6 651.4,1723.7 656.5,1711.8 661.6,1707.5 666.7,1705.8 673.5,1705.8 680.3,1705 687.1,1708.4 692.2,1713.5 697.3,1718.6 704.1,1721.2 709.3,1726.3 716.1,1732.2 721.2,1730.5 727.1,1728 733.1,1722 738.2,1720.3 744.2,1712.7 750.1,1707.5 755.2,1706.7 760.3,1704.1 765.5,1699.9 770.6,1696.5 774,1696.5 779.1,1699.9 784.2,1696.5 791,1690.5 794.4,1679.4 797.8,1670.9" fill="none" stroke="#FBF7EC" stroke-width="3.7" stroke-linejoin="round"/>
<line x1="622.4" y1="1493" x2="622.4" y2="1802.9" stroke="#000" stroke-width="3.6" stroke-dasharray="3.6 6" stroke-dashoffset="-4"/>
<rect x="592.3" y="1494" width="19.8" height="307.9" fill="#7d7a7a" fill-opacity="0.385"/>
<rect x="633" y="1494" width="20" height="307.9" fill="#7d7a7a" fill-opacity="0.385"/>
<rect x="673.6" y="1494" width="19.8" height="307.9" fill="#7d7a7a" fill-opacity="0.385"/>
<path d="M522.5 1493V1802.9H810.6" fill="none" stroke="#000" stroke-width="2" stroke-linejoin="miter"/>
<line x1="514" y1="1566.6" x2="522.5" y2="1566.6" stroke="#000" stroke-width="1.9"/>
<text x="504.9" y="1575.3" text-anchor="end">3</text>
<line x1="514" y1="1651.9" x2="522.5" y2="1651.9" stroke="#000" stroke-width="1.9"/>
<text x="504.9" y="1660.6" text-anchor="end">2</text>
<line x1="514" y1="1737.3" x2="522.5" y2="1737.3" stroke="#000" stroke-width="1.9"/>
<text x="504.9" y="1746" text-anchor="end">1</text>
<line x1="622.2" y1="1802.9" x2="622.2" y2="1811.4" stroke="#000" stroke-width="1.9"/>
<line x1="796.6" y1="1802.9" x2="796.6" y2="1811.4" stroke="#000" stroke-width="1.9"/>
<text transform="translate(478 1648) rotate(-90)" text-anchor="middle">CS/s</text>
<line x1="851.8" y1="1715.2" x2="1138.9" y2="1715.2" stroke="#B3A264" stroke-width="3.2" stroke-dasharray="3.2 6.2"/>
<polyline points="861.8,1719.5 872.1,1722 881.4,1716.9 889.1,1722 895.9,1728 902.7,1737.3 909.5,1749.3 915.5,1759.5 921.4,1766.3 926.6,1766.3 932.5,1773.1 938.5,1779.1 942.7,1779.9 945.3,1742.5 948.7,1691.4 952.1,1640.3 955.5,1599.4 962.3,1584.9 965.7,1614.7 969.1,1648.8 972.5,1682.8 975.1,1691.4 980.2,1684.6 986.2,1676 991.3,1682.8 997.2,1691.4 1002.3,1695.6 1008.3,1692.2 1013.4,1690.5 1018.5,1693.1 1023.6,1698.2 1028.7,1703.3 1033.8,1699.9 1039,1691.4 1044.1,1683.7 1049.2,1691.4 1056,1701.6 1062.8,1710.1 1067.9,1711.8 1073,1711.8 1079.8,1707.5 1084.9,1702.4 1090,1702.4 1096,1699.9 1102,1708.4 1107.9,1706.7 1113.9,1711.8 1119,1706.7 1127.5,1705.8" fill="none" stroke="#C9903F" stroke-opacity="0.2" stroke-width="12" stroke-linejoin="round" stroke-linecap="butt"/>
<polyline points="861.8,1731.4 868.7,1728 875.5,1722.9 881.4,1718.6 889.1,1722.9 896.8,1728.8 902.7,1736.5 909.5,1747.6 916.3,1757.8 921.4,1760.3 926.6,1762 933.4,1769.7 938.5,1778.2 943.6,1779.9 947,1768 950.4,1759.5 956.4,1757.8 962.3,1761.2 968.3,1769.7 972.5,1756.1 975.9,1733.9 979.4,1713.5 982.8,1699.9 987,1695.6 993,1699 1001.5,1704.1 1008.3,1705.8 1015.1,1705 1020.2,1705.8 1023.6,1710.1 1027,1716.1 1031.3,1713.5 1035.6,1720.3 1040.7,1728.8 1044.9,1731.4 1049.2,1742.5 1053.4,1732.2 1057.7,1716.9 1061.9,1705 1066.2,1698.2 1071.3,1695.6 1078.1,1682 1083.2,1680.3 1090,1676 1095.2,1684.6 1102,1696.5 1108.8,1711.8 1113.9,1716.9 1119,1714.4 1124.1,1706.7 1127.5,1702.4" fill="none" stroke="#E9DFC4" stroke-opacity="0.3" stroke-width="10" stroke-linejoin="round" stroke-linecap="butt"/>
<polyline points="861.8,1719.5 872.1,1722 881.4,1716.9 889.1,1722 895.9,1728 902.7,1737.3 909.5,1749.3 915.5,1759.5 921.4,1766.3 926.6,1766.3 932.5,1773.1 938.5,1779.1 942.7,1779.9 945.3,1742.5 948.7,1691.4 952.1,1640.3 955.5,1599.4 962.3,1584.9 965.7,1614.7 969.1,1648.8 972.5,1682.8 975.1,1691.4 980.2,1684.6 986.2,1676 991.3,1682.8 997.2,1691.4 1002.3,1695.6 1008.3,1692.2 1013.4,1690.5 1018.5,1693.1 1023.6,1698.2 1028.7,1703.3 1033.8,1699.9 1039,1691.4 1044.1,1683.7 1049.2,1691.4 1056,1701.6 1062.8,1710.1 1067.9,1711.8 1073,1711.8 1079.8,1707.5 1084.9,1702.4 1090,1702.4 1096,1699.9 1102,1708.4 1107.9,1706.7 1113.9,1711.8 1119,1706.7 1127.5,1705.8" fill="none" stroke="#2a1d08" stroke-width="6.2" stroke-linejoin="round"/>
<polyline points="861.8,1719.5 872.1,1722 881.4,1716.9 889.1,1722 895.9,1728 902.7,1737.3 909.5,1749.3 915.5,1759.5 921.4,1766.3 926.6,1766.3 932.5,1773.1 938.5,1779.1 942.7,1779.9 945.3,1742.5 948.7,1691.4 952.1,1640.3 955.5,1599.4 962.3,1584.9 965.7,1614.7 969.1,1648.8 972.5,1682.8 975.1,1691.4 980.2,1684.6 986.2,1676 991.3,1682.8 997.2,1691.4 1002.3,1695.6 1008.3,1692.2 1013.4,1690.5 1018.5,1693.1 1023.6,1698.2 1028.7,1703.3 1033.8,1699.9 1039,1691.4 1044.1,1683.7 1049.2,1691.4 1056,1701.6 1062.8,1710.1 1067.9,1711.8 1073,1711.8 1079.8,1707.5 1084.9,1702.4 1090,1702.4 1096,1699.9 1102,1708.4 1107.9,1706.7 1113.9,1711.8 1119,1706.7 1127.5,1705.8" fill="none" stroke="#C9903F" stroke-width="3.7" stroke-linejoin="round"/>
<polyline points="861.8,1731.4 868.7,1728 875.5,1722.9 881.4,1718.6 889.1,1722.9 896.8,1728.8 902.7,1736.5 909.5,1747.6 916.3,1757.8 921.4,1760.3 926.6,1762 933.4,1769.7 938.5,1778.2 943.6,1779.9 947,1768 950.4,1759.5 956.4,1757.8 962.3,1761.2 968.3,1769.7 972.5,1756.1 975.9,1733.9 979.4,1713.5 982.8,1699.9 987,1695.6 993,1699 1001.5,1704.1 1008.3,1705.8 1015.1,1705 1020.2,1705.8 1023.6,1710.1 1027,1716.1 1031.3,1713.5 1035.6,1720.3 1040.7,1728.8 1044.9,1731.4 1049.2,1742.5 1053.4,1732.2 1057.7,1716.9 1061.9,1705 1066.2,1698.2 1071.3,1695.6 1078.1,1682 1083.2,1680.3 1090,1676 1095.2,1684.6 1102,1696.5 1108.8,1711.8 1113.9,1716.9 1119,1714.4 1124.1,1706.7 1127.5,1702.4" fill="none" stroke="#1c1a14" stroke-width="6.2" stroke-linejoin="round"/>
<polyline points="861.8,1731.4 868.7,1728 875.5,1722.9 881.4,1718.6 889.1,1722.9 896.8,1728.8 902.7,1736.5 909.5,1747.6 916.3,1757.8 921.4,1760.3 926.6,1762 933.4,1769.7 938.5,1778.2 943.6,1779.9 947,1768 950.4,1759.5 956.4,1757.8 962.3,1761.2 968.3,1769.7 972.5,1756.1 975.9,1733.9 979.4,1713.5 982.8,1699.9 987,1695.6 993,1699 1001.5,1704.1 1008.3,1705.8 1015.1,1705 1020.2,1705.8 1023.6,1710.1 1027,1716.1 1031.3,1713.5 1035.6,1720.3 1040.7,1728.8 1044.9,1731.4 1049.2,1742.5 1053.4,1732.2 1057.7,1716.9 1061.9,1705 1066.2,1698.2 1071.3,1695.6 1078.1,1682 1083.2,1680.3 1090,1676 1095.2,1684.6 1102,1696.5 1108.8,1711.8 1113.9,1716.9 1119,1714.4 1124.1,1706.7 1127.5,1702.4" fill="none" stroke="#FBF7EC" stroke-width="3.7" stroke-linejoin="round"/>
<line x1="950.7" y1="1493" x2="950.7" y2="1802.9" stroke="#000" stroke-width="3.6" stroke-dasharray="3.6 6" stroke-dashoffset="-4"/>
<rect x="920.6" y="1494" width="19.8" height="307.9" fill="#7d7a7a" fill-opacity="0.385"/>
<rect x="961.3" y="1494" width="20" height="307.9" fill="#7d7a7a" fill-opacity="0.385"/>
<rect x="1001.9" y="1494" width="19.8" height="307.9" fill="#7d7a7a" fill-opacity="0.385"/>
<path d="M850.8 1493V1802.9H1138.9" fill="none" stroke="#000" stroke-width="2" stroke-linejoin="miter"/>
<line x1="842.3" y1="1566.6" x2="850.8" y2="1566.6" stroke="#000" stroke-width="1.9"/>
<line x1="842.3" y1="1651.9" x2="850.8" y2="1651.9" stroke="#000" stroke-width="1.9"/>
<line x1="842.3" y1="1737.3" x2="850.8" y2="1737.3" stroke="#000" stroke-width="1.9"/>
<line x1="950.5" y1="1802.9" x2="950.5" y2="1811.4" stroke="#000" stroke-width="1.9"/>
<line x1="1124.9" y1="1802.9" x2="1124.9" y2="1811.4" stroke="#000" stroke-width="1.9"/>
<line x1="523.5" y1="2101.3" x2="810.6" y2="2101.3" stroke="#74B5A3" stroke-width="3.2" stroke-dasharray="3.2 6.2"/>
<polyline points="533.8,2100.8 540.7,2096.5 547.5,2101.6 554.3,2089.7 561.1,2074.4 564.5,2061.6 569.6,2072.7 576.4,2066.7 580.7,2086.3 584.9,2065.8 589.2,2040.3 593.4,2006.2 596.9,1980.7 599.4,1966.2 603.7,1979 607.1,1997.7 610.5,2026.7 615.6,2042 619.8,2057.3 623.3,2074.4 627.5,2108.4 630.9,2139.1 634.3,2149.3 640.3,2157.8 646.2,2145.9 650.5,2125.5 653.9,2110.1 658.2,2106.7 662.4,2091.4 667.5,2071 671.8,2057.3 675.2,2050.5 680.3,2059 685.4,2084.6 690.5,2074.4 694.8,2060.7 698.2,2053.9 704.1,2060.7 709.3,2077.8 716.1,2098.2 721.2,2089.7 726.3,2093.1 731.4,2105 738.2,2116.9 745.9,2125.5 750.1,2108.4 755.2,2074.4 760.3,2064.1 768,2062.4 773.1,2091.4 779.1,2089.7 784.2,2091.4 791,2094.8 797.8,2088.8" fill="none" stroke="#5BAE9B" stroke-opacity="0.2" stroke-width="26" stroke-linejoin="round" stroke-linecap="butt"/>
<polyline points="533.8,2130.6 540.7,2139.1 547.5,2118.6 554.3,2098.2 560.2,2084.6 564.5,2074.4 569.6,2086.3 575.6,2094.8 581.5,2096.5 584.9,2065.8 588.3,2031.8 592.6,1989.2 596,1946.6 598.6,1922.8 606.2,1926.2 609.6,1946.6 613,1972.2 616.4,2006.2 619.8,2040.3 622.4,2099.9 627.5,2082.9 631.8,2053.9 636,2036.9 640.3,2027.5 644.5,2040.3 648.8,2065.8 653.1,2099.9 656.5,2113.5 662.4,2120.3 667.5,2098.2 672.6,2091.4 677.7,2084.6 681.2,2075.2 687.1,2082.9 693.1,2105 699,2125.5 704.1,2142.5 709.3,2133.1 714.4,2133.1 721.2,2125.5 728,2115.2 733.9,2105 739.9,2122 745.9,2135.7 750.1,2147.6 755.2,2135.7 760.3,2127.2 767.2,2108.4 773.1,2105 779.1,2101.6 785,2110.1 791,2105 798.7,2102.5" fill="none" stroke="#BFE6DD" stroke-opacity="0.3" stroke-width="12" stroke-linejoin="round" stroke-linecap="butt"/>
<polyline points="533.8,2100.8 540.7,2096.5 547.5,2101.6 554.3,2089.7 561.1,2074.4 564.5,2061.6 569.6,2072.7 576.4,2066.7 580.7,2086.3 584.9,2065.8 589.2,2040.3 593.4,2006.2 596.9,1980.7 599.4,1966.2 603.7,1979 607.1,1997.7 610.5,2026.7 615.6,2042 619.8,2057.3 623.3,2074.4 627.5,2108.4 630.9,2139.1 634.3,2149.3 640.3,2157.8 646.2,2145.9 650.5,2125.5 653.9,2110.1 658.2,2106.7 662.4,2091.4 667.5,2071 671.8,2057.3 675.2,2050.5 680.3,2059 685.4,2084.6 690.5,2074.4 694.8,2060.7 698.2,2053.9 704.1,2060.7 709.3,2077.8 716.1,2098.2 721.2,2089.7 726.3,2093.1 731.4,2105 738.2,2116.9 745.9,2125.5 750.1,2108.4 755.2,2074.4 760.3,2064.1 768,2062.4 773.1,2091.4 779.1,2089.7 784.2,2091.4 791,2094.8 797.8,2088.8" fill="none" stroke="#0c2620" stroke-width="6.2" stroke-linejoin="round"/>
<polyline points="533.8,2100.8 540.7,2096.5 547.5,2101.6 554.3,2089.7 561.1,2074.4 564.5,2061.6 569.6,2072.7 576.4,2066.7 580.7,2086.3 584.9,2065.8 589.2,2040.3 593.4,2006.2 596.9,1980.7 599.4,1966.2 603.7,1979 607.1,1997.7 610.5,2026.7 615.6,2042 619.8,2057.3 623.3,2074.4 627.5,2108.4 630.9,2139.1 634.3,2149.3 640.3,2157.8 646.2,2145.9 650.5,2125.5 653.9,2110.1 658.2,2106.7 662.4,2091.4 667.5,2071 671.8,2057.3 675.2,2050.5 680.3,2059 685.4,2084.6 690.5,2074.4 694.8,2060.7 698.2,2053.9 704.1,2060.7 709.3,2077.8 716.1,2098.2 721.2,2089.7 726.3,2093.1 731.4,2105 738.2,2116.9 745.9,2125.5 750.1,2108.4 755.2,2074.4 760.3,2064.1 768,2062.4 773.1,2091.4 779.1,2089.7 784.2,2091.4 791,2094.8 797.8,2088.8" fill="none" stroke="#5BAE9B" stroke-width="3.7" stroke-linejoin="round"/>
<polyline points="533.8,2130.6 540.7,2139.1 547.5,2118.6 554.3,2098.2 560.2,2084.6 564.5,2074.4 569.6,2086.3 575.6,2094.8 581.5,2096.5 584.9,2065.8 588.3,2031.8 592.6,1989.2 596,1946.6 598.6,1922.8 606.2,1926.2 609.6,1946.6 613,1972.2 616.4,2006.2 619.8,2040.3 622.4,2099.9 627.5,2082.9 631.8,2053.9 636,2036.9 640.3,2027.5 644.5,2040.3 648.8,2065.8 653.1,2099.9 656.5,2113.5 662.4,2120.3 667.5,2098.2 672.6,2091.4 677.7,2084.6 681.2,2075.2 687.1,2082.9 693.1,2105 699,2125.5 704.1,2142.5 709.3,2133.1 714.4,2133.1 721.2,2125.5 728,2115.2 733.9,2105 739.9,2122 745.9,2135.7 750.1,2147.6 755.2,2135.7 760.3,2127.2 767.2,2108.4 773.1,2105 779.1,2101.6 785,2110.1 791,2105 798.7,2102.5" fill="none" stroke="#141f1c" stroke-width="6.2" stroke-linejoin="round"/>
<polyline points="533.8,2130.6 540.7,2139.1 547.5,2118.6 554.3,2098.2 560.2,2084.6 564.5,2074.4 569.6,2086.3 575.6,2094.8 581.5,2096.5 584.9,2065.8 588.3,2031.8 592.6,1989.2 596,1946.6 598.6,1922.8 606.2,1926.2 609.6,1946.6 613,1972.2 616.4,2006.2 619.8,2040.3 622.4,2099.9 627.5,2082.9 631.8,2053.9 636,2036.9 640.3,2027.5 644.5,2040.3 648.8,2065.8 653.1,2099.9 656.5,2113.5 662.4,2120.3 667.5,2098.2 672.6,2091.4 677.7,2084.6 681.2,2075.2 687.1,2082.9 693.1,2105 699,2125.5 704.1,2142.5 709.3,2133.1 714.4,2133.1 721.2,2125.5 728,2115.2 733.9,2105 739.9,2122 745.9,2135.7 750.1,2147.6 755.2,2135.7 760.3,2127.2 767.2,2108.4 773.1,2105 779.1,2101.6 785,2110.1 791,2105 798.7,2102.5" fill="none" stroke="#E6F6F3" stroke-width="3.7" stroke-linejoin="round"/>
<line x1="622.4" y1="1876.2" x2="622.4" y2="2185.1" stroke="#000" stroke-width="3.6" stroke-dasharray="3.6 6" stroke-dashoffset="-4"/>
<rect x="592.3" y="1877.2" width="19.8" height="306.9" fill="#7d7a7a" fill-opacity="0.385"/>
<rect x="633" y="1877.2" width="20" height="306.9" fill="#7d7a7a" fill-opacity="0.385"/>
<rect x="673.6" y="1877.2" width="19.8" height="306.9" fill="#7d7a7a" fill-opacity="0.385"/>
<path d="M522.5 1876.2V2185.1H810.6" fill="none" stroke="#000" stroke-width="2" stroke-linejoin="miter"/>
<line x1="514" y1="1927.3" x2="522.5" y2="1927.3" stroke="#000" stroke-width="1.9"/>
<text x="504.9" y="1936" text-anchor="end">3</text>
<line x1="514" y1="2023.8" x2="522.5" y2="2023.8" stroke="#000" stroke-width="1.9"/>
<text x="504.9" y="2032.5" text-anchor="end">2</text>
<line x1="514" y1="2120.3" x2="522.5" y2="2120.3" stroke="#000" stroke-width="1.9"/>
<text x="504.9" y="2129" text-anchor="end">1</text>
<line x1="622.2" y1="2185.1" x2="622.2" y2="2193.6" stroke="#000" stroke-width="1.9"/>
<text x="622.2" y="2220.7" text-anchor="middle">0</text>
<line x1="796.6" y1="2185.1" x2="796.6" y2="2193.6" stroke="#000" stroke-width="1.9"/>
<text x="796.6" y="2220.7" text-anchor="middle">1</text>
<text transform="translate(478 2030.7) rotate(-90)" text-anchor="middle">CS/s</text>
<text x="666.5" y="2253.5" text-anchor="middle">Time (s)</text>
<line x1="851.8" y1="2101.3" x2="1138.9" y2="2101.3" stroke="#74B5A3" stroke-width="3.2" stroke-dasharray="3.2 6.2"/>
<polyline points="861.8,2108.4 868.7,2100.8 876.3,2099.9 883.1,2108.4 889.1,2107.6 895.9,2105.9 904.4,2110.1 909.5,2072.7 914.6,2048.8 919.7,2023.3 924.9,1997.7 929.1,1979 933.4,1971.3 936.8,1975.6 940.2,2006.2 943.6,2031.8 947.8,2048.8 952.1,2074.4 956.4,2099.9 959.8,2122 963.2,2128.9 969.1,2133.1 974.2,2130.6 978.5,2108.4 981.9,2099.9 986.2,2099.9 991.3,2091.4 997.2,2065.8 1002.3,2042 1006.6,2047.1 1011.7,2057.3 1016.8,2082.9 1021.1,2096.5 1026.2,2072.7 1032.1,2082.9 1037.3,2086.3 1044.1,2094.8 1049.2,2079.5 1054.3,2086.3 1059.4,2106.7 1064.5,2113.5 1069.6,2111.8 1074.7,2125.5 1079.8,2123.8 1084.1,2130.6 1088.3,2120.3 1095.2,2118.6 1100.3,2099.9 1107.1,2103.3 1113.9,2099.1 1120.7,2094.8 1126.7,2091.4" fill="none" stroke="#5BAE9B" stroke-opacity="0.2" stroke-width="26" stroke-linejoin="round" stroke-linecap="butt"/>
<polyline points="861.8,2067.6 868.7,2074.4 876.3,2081.2 879.7,2096.5 883.1,2110.1 887.4,2110.1 892.5,2089.7 897.6,2093.1 904.4,2071 911.2,2071 916.3,2057.3 923.2,2042 926.6,1989.2 930,1955.2 933.4,1939.8 936.8,1950 940.2,1962 944.4,2023.3 948.7,2042 955.5,2048.8 959.8,2043.7 963.2,2038.6 965.7,2057.3 969.1,2074.4 974.2,2070.1 978.5,2091.4 982.8,2098.2 991.3,2108.4 997.2,2115.2 1002.3,2106.7 1008.3,2110.1 1014.3,2094.8 1021.1,2089.7 1026.2,2079.5 1032.1,2076.9 1037.3,2074.4 1044.1,2073.5 1050,2069.3 1055.1,2071 1061.9,2068.4 1066.2,2091.4 1072.2,2111.8 1078.1,2125.5 1083.2,2105 1090,2088.8 1095.2,2094.8 1100.3,2113.5 1107.1,2122 1113.9,2123.8 1120.7,2099.9 1127.5,2091.4" fill="none" stroke="#BFE6DD" stroke-opacity="0.3" stroke-width="12" stroke-linejoin="round" stroke-linecap="butt"/>
<polyline points="861.8,2108.4 868.7,2100.8 876.3,2099.9 883.1,2108.4 889.1,2107.6 895.9,2105.9 904.4,2110.1 909.5,2072.7 914.6,2048.8 919.7,2023.3 924.9,1997.7 929.1,1979 933.4,1971.3 936.8,1975.6 940.2,2006.2 943.6,2031.8 947.8,2048.8 952.1,2074.4 956.4,2099.9 959.8,2122 963.2,2128.9 969.1,2133.1 974.2,2130.6 978.5,2108.4 981.9,2099.9 986.2,2099.9 991.3,2091.4 997.2,2065.8 1002.3,2042 1006.6,2047.1 1011.7,2057.3 1016.8,2082.9 1021.1,2096.5 1026.2,2072.7 1032.1,2082.9 1037.3,2086.3 1044.1,2094.8 1049.2,2079.5 1054.3,2086.3 1059.4,2106.7 1064.5,2113.5 1069.6,2111.8 1074.7,2125.5 1079.8,2123.8 1084.1,2130.6 1088.3,2120.3 1095.2,2118.6 1100.3,2099.9 1107.1,2103.3 1113.9,2099.1 1120.7,2094.8 1126.7,2091.4" fill="none" stroke="#0c2620" stroke-width="6.2" stroke-linejoin="round"/>
<polyline points="861.8,2108.4 868.7,2100.8 876.3,2099.9 883.1,2108.4 889.1,2107.6 895.9,2105.9 904.4,2110.1 909.5,2072.7 914.6,2048.8 919.7,2023.3 924.9,1997.7 929.1,1979 933.4,1971.3 936.8,1975.6 940.2,2006.2 943.6,2031.8 947.8,2048.8 952.1,2074.4 956.4,2099.9 959.8,2122 963.2,2128.9 969.1,2133.1 974.2,2130.6 978.5,2108.4 981.9,2099.9 986.2,2099.9 991.3,2091.4 997.2,2065.8 1002.3,2042 1006.6,2047.1 1011.7,2057.3 1016.8,2082.9 1021.1,2096.5 1026.2,2072.7 1032.1,2082.9 1037.3,2086.3 1044.1,2094.8 1049.2,2079.5 1054.3,2086.3 1059.4,2106.7 1064.5,2113.5 1069.6,2111.8 1074.7,2125.5 1079.8,2123.8 1084.1,2130.6 1088.3,2120.3 1095.2,2118.6 1100.3,2099.9 1107.1,2103.3 1113.9,2099.1 1120.7,2094.8 1126.7,2091.4" fill="none" stroke="#5BAE9B" stroke-width="3.7" stroke-linejoin="round"/>
<polyline points="861.8,2067.6 868.7,2074.4 876.3,2081.2 879.7,2096.5 883.1,2110.1 887.4,2110.1 892.5,2089.7 897.6,2093.1 904.4,2071 911.2,2071 916.3,2057.3 923.2,2042 926.6,1989.2 930,1955.2 933.4,1939.8 936.8,1950 940.2,1962 944.4,2023.3 948.7,2042 955.5,2048.8 959.8,2043.7 963.2,2038.6 965.7,2057.3 969.1,2074.4 974.2,2070.1 978.5,2091.4 982.8,2098.2 991.3,2108.4 997.2,2115.2 1002.3,2106.7 1008.3,2110.1 1014.3,2094.8 1021.1,2089.7 1026.2,2079.5 1032.1,2076.9 1037.3,2074.4 1044.1,2073.5 1050,2069.3 1055.1,2071 1061.9,2068.4 1066.2,2091.4 1072.2,2111.8 1078.1,2125.5 1083.2,2105 1090,2088.8 1095.2,2094.8 1100.3,2113.5 1107.1,2122 1113.9,2123.8 1120.7,2099.9 1127.5,2091.4" fill="none" stroke="#141f1c" stroke-width="6.2" stroke-linejoin="round"/>
<polyline points="861.8,2067.6 868.7,2074.4 876.3,2081.2 879.7,2096.5 883.1,2110.1 887.4,2110.1 892.5,2089.7 897.6,2093.1 904.4,2071 911.2,2071 916.3,2057.3 923.2,2042 926.6,1989.2 930,1955.2 933.4,1939.8 936.8,1950 940.2,1962 944.4,2023.3 948.7,2042 955.5,2048.8 959.8,2043.7 963.2,2038.6 965.7,2057.3 969.1,2074.4 974.2,2070.1 978.5,2091.4 982.8,2098.2 991.3,2108.4 997.2,2115.2 1002.3,2106.7 1008.3,2110.1 1014.3,2094.8 1021.1,2089.7 1026.2,2079.5 1032.1,2076.9 1037.3,2074.4 1044.1,2073.5 1050,2069.3 1055.1,2071 1061.9,2068.4 1066.2,2091.4 1072.2,2111.8 1078.1,2125.5 1083.2,2105 1090,2088.8 1095.2,2094.8 1100.3,2113.5 1107.1,2122 1113.9,2123.8 1120.7,2099.9 1127.5,2091.4" fill="none" stroke="#E6F6F3" stroke-width="3.7" stroke-linejoin="round"/>
<line x1="950.7" y1="1876.2" x2="950.7" y2="2185.1" stroke="#000" stroke-width="3.6" stroke-dasharray="3.6 6" stroke-dashoffset="-4"/>
<rect x="920.6" y="1877.2" width="19.8" height="306.9" fill="#7d7a7a" fill-opacity="0.385"/>
<rect x="961.3" y="1877.2" width="20" height="306.9" fill="#7d7a7a" fill-opacity="0.385"/>
<rect x="1001.9" y="1877.2" width="19.8" height="306.9" fill="#7d7a7a" fill-opacity="0.385"/>
<path d="M850.8 1876.2V2185.1H1138.9" fill="none" stroke="#000" stroke-width="2" stroke-linejoin="miter"/>
<line x1="842.3" y1="1927.3" x2="850.8" y2="1927.3" stroke="#000" stroke-width="1.9"/>
<line x1="842.3" y1="2023.8" x2="850.8" y2="2023.8" stroke="#000" stroke-width="1.9"/>
<line x1="842.3" y1="2120.3" x2="850.8" y2="2120.3" stroke="#000" stroke-width="1.9"/>
<line x1="950.5" y1="2185.1" x2="950.5" y2="2193.6" stroke="#000" stroke-width="1.9"/>
<text x="950.5" y="2220.7" text-anchor="middle">0</text>
<line x1="1124.9" y1="2185.1" x2="1124.9" y2="2193.6" stroke="#000" stroke-width="1.9"/>
<text x="1124.9" y="2220.7" text-anchor="middle">1</text>
<text x="994.9" y="2253.5" text-anchor="middle">Time (s)</text>
<polygon points="1240.7,254.8 1346.2,259.1 1484.2,237.8 1484.2,268.4 1346.2,268.4 1240.7,280.3" fill="#000" fill-opacity="0.04"/>
<line x1="1240.3" y1="267.7" x2="1485" y2="257.4" stroke="#CDCDCD" stroke-width="2.2"/>
<path d="M1241 248.8V263.1M1308.3 255.1H1321.9M1315.1 248V262.3M1469.7 276.4H1498.7M1484.2 269.6V283.2M1446.2 265.9H1469.4M1439.6 252.6H1465.1M1402.4 251.9H1428M1405 236.9H1428.2" stroke="#737373" stroke-width="2.1" fill="none"/>
<circle cx="1241" cy="256" r="5.3" fill="#F3ECDC" stroke="#1a1a1a" stroke-width="1.1"/>
<circle cx="1269.9" cy="261.6" r="6.8" fill="#F3ECDC" stroke="#1a1a1a" stroke-width="1.1"/>
<circle cx="1276.8" cy="272.7" r="8.2" fill="#F3ECDC" stroke="#1a1a1a" stroke-width="1.1"/>
<circle cx="1288.7" cy="279" r="9.4" fill="#F3ECDC" stroke="#1a1a1a" stroke-width="1.1"/>
<circle cx="1277.8" cy="284.1" r="10.4" fill="#F3ECDC" stroke="#1a1a1a" stroke-width="1.1"/>
<circle cx="1315.1" cy="255.1" r="5.3" fill="#8F8A8C" stroke="#1a1a1a" stroke-width="1.1"/>
<circle cx="1484.2" cy="276.4" r="5.3" fill="#C88D3C" stroke="#1a1a1a" stroke-width="1.1"/>
<circle cx="1457.8" cy="265.9" r="6.8" fill="#C88D3C" stroke="#1a1a1a" stroke-width="1.1"/>
<circle cx="1452.3" cy="252.6" r="8.2" fill="#C88D3C" stroke="#1a1a1a" stroke-width="1.1"/>
<circle cx="1415.2" cy="251.9" r="9.4" fill="#C88D3C" stroke="#1a1a1a" stroke-width="1.1"/>
<circle cx="1416.6" cy="236.9" r="10.4" fill="#C88D3C" stroke="#1a1a1a" stroke-width="1.1"/>
<path d="M1223.5 35.7V345H1511.3" fill="none" stroke="#000" stroke-width="2" stroke-linejoin="miter"/>
<line x1="1215" y1="47.5" x2="1223.5" y2="47.5" stroke="#000" stroke-width="1.9"/>
<text x="1205.9" y="56.2" text-anchor="end">4</text>
<line x1="1215" y1="133" x2="1223.5" y2="133" stroke="#000" stroke-width="1.9"/>
<text x="1205.9" y="141.7" text-anchor="end">3</text>
<line x1="1215" y1="218.7" x2="1223.5" y2="218.7" stroke="#000" stroke-width="1.9"/>
<text x="1205.9" y="227.4" text-anchor="end">2</text>
<line x1="1215" y1="304.2" x2="1223.5" y2="304.2" stroke="#000" stroke-width="1.9"/>
<text x="1205.9" y="312.9" text-anchor="end">1</text>
<line x1="1325.8" y1="345" x2="1325.8" y2="353.5" stroke="#000" stroke-width="1.9"/>
<text x="1325.8" y="380.6" text-anchor="middle">10</text>
<line x1="1460" y1="345" x2="1460" y2="353.5" stroke="#000" stroke-width="1.9"/>
<text x="1460" y="380.6" text-anchor="middle">15</text>
<text x="1367.4" y="21.8" font-size="23.9" text-anchor="middle">-167 to -67 ms</text>
<polygon points="1569.7,319.5 1691.3,191.8 1812.5,53.8 1812.5,89.6 1691.3,202 1569.7,328" fill="#000" fill-opacity="0.04"/>
<line x1="1569.7" y1="323.8" x2="1812.5" y2="68.8" stroke="#CDCDCD" stroke-width="2.2"/>
<path d="M1637.1 251.4H1650.7M1643.9 244.6V258.2M1798.9 68.8H1826.2M1812.5 56.9V80.8M1775.2 87.4H1797.4M1786.3 76.3V98.5M1767.9 135.6H1793.5M1780.7 125.4V145.8M1730.8 130.5H1756.3M1743.6 118.6V142.4M1733 120.6H1756.8M1744.9 109.5V131.7" stroke="#737373" stroke-width="2.1" fill="none"/>
<circle cx="1569.7" cy="323.8" r="5.3" fill="#F3ECDC" stroke="#1a1a1a" stroke-width="1.1"/>
<circle cx="1597.9" cy="288.4" r="6.8" fill="#F3ECDC" stroke="#1a1a1a" stroke-width="1.1"/>
<circle cx="1605.4" cy="279" r="8.2" fill="#F3ECDC" stroke="#1a1a1a" stroke-width="1.1"/>
<circle cx="1617.7" cy="284.1" r="9.4" fill="#F3ECDC" stroke="#1a1a1a" stroke-width="1.1"/>
<circle cx="1606.6" cy="286.8" r="10.4" fill="#F3ECDC" stroke="#1a1a1a" stroke-width="1.1"/>
<circle cx="1643.9" cy="251.4" r="5.3" fill="#8F8A8C" stroke="#1a1a1a" stroke-width="1.1"/>
<circle cx="1812.5" cy="68.8" r="5.3" fill="#C88D3C" stroke="#1a1a1a" stroke-width="1.1"/>
<circle cx="1786.3" cy="87.4" r="6.8" fill="#C88D3C" stroke="#1a1a1a" stroke-width="1.1"/>
<circle cx="1780.7" cy="135.6" r="8.2" fill="#C88D3C" stroke="#1a1a1a" stroke-width="1.1"/>
<circle cx="1743.6" cy="130.5" r="9.4" fill="#C88D3C" stroke="#1a1a1a" stroke-width="1.1"/>
<circle cx="1744.9" cy="120.6" r="10.4" fill="#C88D3C" stroke="#1a1a1a" stroke-width="1.1"/>
<path d="M1551.4 35.7V345H1839.2" fill="none" stroke="#000" stroke-width="2" stroke-linejoin="miter"/>
<line x1="1542.9" y1="47.5" x2="1551.4" y2="47.5" stroke="#000" stroke-width="1.9"/>
<text x="1533.8" y="56.2" text-anchor="end">4</text>
<line x1="1542.9" y1="133" x2="1551.4" y2="133" stroke="#000" stroke-width="1.9"/>
<text x="1533.8" y="141.7" text-anchor="end">3</text>
<line x1="1542.9" y1="218.7" x2="1551.4" y2="218.7" stroke="#000" stroke-width="1.9"/>
<text x="1533.8" y="227.4" text-anchor="end">2</text>
<line x1="1542.9" y1="304.2" x2="1551.4" y2="304.2" stroke="#000" stroke-width="1.9"/>
<text x="1533.8" y="312.9" text-anchor="end">1</text>
<line x1="1653.8" y1="345" x2="1653.8" y2="353.5" stroke="#000" stroke-width="1.9"/>
<text x="1653.8" y="380.6" text-anchor="middle">10</text>
<line x1="1788" y1="345" x2="1788" y2="353.5" stroke="#000" stroke-width="1.9"/>
<text x="1788" y="380.6" text-anchor="middle">15</text>
<text x="1695.3" y="21.8" font-size="23.9" text-anchor="middle">67 to 167 ms</text>
<polygon points="1897.4,224.1 2018.3,221.6 2141.8,197.7 2141.8,233.5 2018.3,231.8 1897.4,251.4" fill="#000" fill-opacity="0.04"/>
<line x1="1896.9" y1="238.6" x2="2142.6" y2="213.6" stroke="#CDCDCD" stroke-width="2.2"/>
<path d="M1891.4 214.3H1904.4M1897.9 203.7V224.8M1964.3 229.6H1979.6M1972 220.2V239M2127.5 185.8H2155.4M2141.4 174.2V197.4M2102.8 230.1H2127.3M2115 220.7V239.5M2097 217.7H2122.5M2109.8 207.5V227.9M2058.8 219.9H2086.1M2062.1 239.5H2085.2" stroke="#737373" stroke-width="2.1" fill="none"/>
<circle cx="1897.9" cy="214.3" r="5.3" fill="#F3ECDC" stroke="#1a1a1a" stroke-width="1.1"/>
<circle cx="1926.3" cy="241.5" r="6.8" fill="#F3ECDC" stroke="#1a1a1a" stroke-width="1.1"/>
<circle cx="1934" cy="246.3" r="8.2" fill="#F3ECDC" stroke="#1a1a1a" stroke-width="1.1"/>
<circle cx="1945.4" cy="231.8" r="9.4" fill="#F3ECDC" stroke="#1a1a1a" stroke-width="1.1"/>
<circle cx="1934.9" cy="240.3" r="10.4" fill="#F3ECDC" stroke="#1a1a1a" stroke-width="1.1"/>
<circle cx="1972" cy="229.6" r="5.3" fill="#8F8A8C" stroke="#1a1a1a" stroke-width="1.1"/>
<circle cx="2141.4" cy="185.8" r="5.3" fill="#C88D3C" stroke="#1a1a1a" stroke-width="1.1"/>
<circle cx="2115" cy="230.1" r="6.8" fill="#C88D3C" stroke="#1a1a1a" stroke-width="1.1"/>
<circle cx="2109.8" cy="217.7" r="8.2" fill="#C88D3C" stroke="#1a1a1a" stroke-width="1.1"/>
<circle cx="2072.5" cy="219.9" r="9.4" fill="#C88D3C" stroke="#1a1a1a" stroke-width="1.1"/>
<circle cx="2073.7" cy="239.5" r="10.4" fill="#C88D3C" stroke="#1a1a1a" stroke-width="1.1"/>
<path d="M1880.1 35.7V345H2168.5" fill="none" stroke="#000" stroke-width="2" stroke-linejoin="miter"/>
<line x1="1871.6" y1="47.5" x2="1880.1" y2="47.5" stroke="#000" stroke-width="1.9"/>
<text x="1862.5" y="56.2" text-anchor="end">4</text>
<line x1="1871.6" y1="133" x2="1880.1" y2="133" stroke="#000" stroke-width="1.9"/>
<text x="1862.5" y="141.7" text-anchor="end">3</text>
<line x1="1871.6" y1="218.5" x2="1880.1" y2="218.5" stroke="#000" stroke-width="1.9"/>
<text x="1862.5" y="227.2" text-anchor="end">2</text>
<line x1="1871.6" y1="304.5" x2="1880.1" y2="304.5" stroke="#000" stroke-width="1.9"/>
<text x="1862.5" y="313.2" text-anchor="end">1</text>
<line x1="1983.4" y1="345" x2="1983.4" y2="353.5" stroke="#000" stroke-width="1.9"/>
<text x="1983.4" y="380.6" text-anchor="middle">10</text>
<line x1="2117.1" y1="345" x2="2117.1" y2="353.5" stroke="#000" stroke-width="1.9"/>
<text x="2117.1" y="380.6" text-anchor="middle">15</text>
<text x="2024.3" y="21.8" font-size="23.9" text-anchor="middle">300 to 400 ms</text>
<polygon points="1244.9,446.9 1380.3,463.1 1480.8,463.1 1480.8,492 1380.3,488.6 1244.9,492" fill="#000" fill-opacity="0.04"/>
<line x1="1243.2" y1="467.9" x2="1480.8" y2="486.9" stroke="#CDCDCD" stroke-width="2.2"/>
<path d="M1235.2 503.5H1253.9M1244.6 488.1V518.8M1270.1 449.5H1288.9M1279.5 432.4V466.5M1257.7 456.6H1274.7M1266.2 446.4V466.8M1265.7 495.4H1286.1M1275.9 474.2V516.7M1256.8 442.1H1279M1267.9 423.4V460.9M1261.9 468.7H1287.5M1450.1 496.3H1491M1470.6 480.1V512.5M1423.2 495.4H1447.1M1435.1 476.7V514.2M1464.1 488.6H1498.2M1481.1 469.9V507.4M1417.8 492.9H1445M1431.4 475.9V509.9M1415.7 452.9H1451.5M1433.6 434.1V471.6" stroke="#737373" stroke-width="2.1" fill="none"/>
<rect x="1239.5" y="498.4" width="10.2" height="10.2" fill="#D9F3EE" stroke="#1a1a1a" stroke-width="1.1"/>
<rect x="1274.4" y="444.4" width="10.2" height="10.2" fill="#8F8A8C" stroke="#1a1a1a" stroke-width="1.1"/>
<rect x="1259.4" y="449.8" width="13.6" height="13.6" fill="#D9F3EE" stroke="#1a1a1a" stroke-width="1.1"/>
<rect x="1267.8" y="487.3" width="16.2" height="16.2" fill="#D9F3EE" stroke="#1a1a1a" stroke-width="1.1"/>
<rect x="1258.7" y="432.9" width="18.4" height="18.4" fill="#D9F3EE" stroke="#1a1a1a" stroke-width="1.1"/>
<rect x="1264.4" y="458.4" width="20.6" height="20.6" fill="#D9F3EE" stroke="#1a1a1a" stroke-width="1.1"/>
<rect x="1465.5" y="491.2" width="10.2" height="10.2" fill="#55A593" stroke="#1a1a1a" stroke-width="1.1"/>
<rect x="1428.3" y="488.6" width="13.6" height="13.6" fill="#55A593" stroke="#1a1a1a" stroke-width="1.1"/>
<rect x="1473" y="480.5" width="16.2" height="16.2" fill="#55A593" stroke="#1a1a1a" stroke-width="1.1"/>
<rect x="1422.2" y="483.7" width="18.4" height="18.4" fill="#55A593" stroke="#1a1a1a" stroke-width="1.1"/>
<rect x="1423.3" y="442.6" width="20.6" height="20.6" fill="#55A593" stroke="#1a1a1a" stroke-width="1.1"/>
<path d="M1223.5 418.3V727.9H1511.3" fill="none" stroke="#000" stroke-width="2" stroke-linejoin="miter"/>
<line x1="1215" y1="419.2" x2="1223.5" y2="419.2" stroke="#000" stroke-width="1.9"/>
<text x="1205.9" y="427.9" text-anchor="end">4</text>
<line x1="1215" y1="505.3" x2="1223.5" y2="505.3" stroke="#000" stroke-width="1.9"/>
<text x="1205.9" y="514" text-anchor="end">3</text>
<line x1="1215" y1="591.3" x2="1223.5" y2="591.3" stroke="#000" stroke-width="1.9"/>
<text x="1205.9" y="600" text-anchor="end">2</text>
<line x1="1215" y1="677.3" x2="1223.5" y2="677.3" stroke="#000" stroke-width="1.9"/>
<text x="1205.9" y="686" text-anchor="end">1</text>
<line x1="1303.7" y1="727.9" x2="1303.7" y2="736.4" stroke="#000" stroke-width="1.9"/>
<text x="1303.7" y="763.5" text-anchor="middle">7.5</text>
<line x1="1390" y1="727.9" x2="1390" y2="736.4" stroke="#000" stroke-width="1.9"/>
<text x="1390" y="763.5" text-anchor="middle">10.0</text>
<line x1="1476.7" y1="727.9" x2="1476.7" y2="736.4" stroke="#000" stroke-width="1.9"/>
<text x="1476.7" y="763.5" text-anchor="middle">12.5</text>
<polygon points="1572.9,613.8 1674.2,664 1808.8,701.5 1808.8,716.8 1674.2,679.4 1572.9,653.8" fill="#000" fill-opacity="0.04"/>
<line x1="1572.6" y1="632.9" x2="1808.8" y2="708.3" stroke="#CDCDCD" stroke-width="2.2"/>
<path d="M1563.5 597.6H1583.3M1573.4 586.6V608.7M1589.1 644H1612.9M1586.5 633.9H1607M1596.8 621.1V646.7M1590.8 656.4H1616.3M1603.6 644.5V668.3M1597.4 675.5H1617.2M1607.3 667.3V683.6M1776.9 714.5H1819.5M1744.1 696.4H1771.3M1790.4 706.6H1827.2M1743.2 691.3H1775.6M1743.7 699H1779.5" stroke="#737373" stroke-width="2.1" fill="none"/>
<rect x="1568.3" y="592.5" width="10.2" height="10.2" fill="#D9F3EE" stroke="#1a1a1a" stroke-width="1.1"/>
<rect x="1592.5" y="636.8" width="13.6" height="13.6" fill="#D9F3EE" stroke="#1a1a1a" stroke-width="1.1"/>
<rect x="1592.9" y="635.9" width="16.2" height="16.2" fill="#D9F3EE" stroke="#1a1a1a" stroke-width="1.1"/>
<rect x="1587.6" y="624.7" width="18.4" height="18.4" fill="#D9F3EE" stroke="#1a1a1a" stroke-width="1.1"/>
<rect x="1593.3" y="646.1" width="20.6" height="20.6" fill="#D9F3EE" stroke="#1a1a1a" stroke-width="1.1"/>
<rect x="1602.2" y="670.4" width="10.2" height="10.2" fill="#8F8A8C" stroke="#1a1a1a" stroke-width="1.1"/>
<rect x="1793.1" y="709.4" width="10.2" height="10.2" fill="#55A593" stroke="#1a1a1a" stroke-width="1.1"/>
<rect x="1750.9" y="689.6" width="13.6" height="13.6" fill="#55A593" stroke="#1a1a1a" stroke-width="1.1"/>
<rect x="1800.7" y="698.5" width="16.2" height="16.2" fill="#55A593" stroke="#1a1a1a" stroke-width="1.1"/>
<rect x="1750.2" y="682.1" width="18.4" height="18.4" fill="#55A593" stroke="#1a1a1a" stroke-width="1.1"/>
<rect x="1751.3" y="688.7" width="20.6" height="20.6" fill="#55A593" stroke="#1a1a1a" stroke-width="1.1"/>
<path d="M1551.4 418.3V727.9H1839.2" fill="none" stroke="#000" stroke-width="2" stroke-linejoin="miter"/>
<line x1="1542.9" y1="419.2" x2="1551.4" y2="419.2" stroke="#000" stroke-width="1.9"/>
<text x="1533.8" y="427.9" text-anchor="end">4</text>
<line x1="1542.9" y1="505.3" x2="1551.4" y2="505.3" stroke="#000" stroke-width="1.9"/>
<text x="1533.8" y="514" text-anchor="end">3</text>
<line x1="1542.9" y1="591.3" x2="1551.4" y2="591.3" stroke="#000" stroke-width="1.9"/>
<text x="1533.8" y="600" text-anchor="end">2</text>
<line x1="1542.9" y1="677.3" x2="1551.4" y2="677.3" stroke="#000" stroke-width="1.9"/>
<text x="1533.8" y="686" text-anchor="end">1</text>
<line x1="1631.7" y1="727.9" x2="1631.7" y2="736.4" stroke="#000" stroke-width="1.9"/>
<text x="1631.7" y="763.5" text-anchor="middle">7.5</text>
<line x1="1718" y1="727.9" x2="1718" y2="736.4" stroke="#000" stroke-width="1.9"/>
<text x="1718" y="763.5" text-anchor="middle">10.0</text>
<line x1="1804.7" y1="727.9" x2="1804.7" y2="736.4" stroke="#000" stroke-width="1.9"/>
<text x="1804.7" y="763.5" text-anchor="middle">12.5</text>
<polygon points="1901.6,658.9 2018.3,662.3 2135.8,653.8 2135.8,677.7 2018.3,669.2 1901.6,672.6" fill="#000" fill-opacity="0.04"/>
<line x1="1901.6" y1="665.2" x2="2135.8" y2="666.9" stroke="#CDCDCD" stroke-width="2.2"/>
<path d="M1892.3 653.8H1911M1901.6 643.6V664M1926.2 657.6H1944.9M1935.5 645.7V669.5M1932.3 668.3V688.7M1914.4 666.6H1934.9M1918.7 671.7H1944.2M2103.5 685.3H2146M2124.7 678.5V692.1M2073.1 668.6H2107.2M2090.2 660.1V677.2M2116.2 666.9H2153.7M2071.1 646.5H2101.8M2086.4 635.4V657.6M2071.1 658.1H2105.2" stroke="#737373" stroke-width="2.1" fill="none"/>
<rect x="1896.5" y="648.7" width="10.2" height="10.2" fill="#D9F3EE" stroke="#1a1a1a" stroke-width="1.1"/>
<rect x="1930.4" y="652.5" width="10.2" height="10.2" fill="#8F8A8C" stroke="#1a1a1a" stroke-width="1.1"/>
<rect x="1916.1" y="663.2" width="13.6" height="13.6" fill="#D9F3EE" stroke="#1a1a1a" stroke-width="1.1"/>
<rect x="1924.2" y="670.4" width="16.2" height="16.2" fill="#D9F3EE" stroke="#1a1a1a" stroke-width="1.1"/>
<rect x="1915.4" y="657.4" width="18.4" height="18.4" fill="#D9F3EE" stroke="#1a1a1a" stroke-width="1.1"/>
<rect x="1921.1" y="661.4" width="20.6" height="20.6" fill="#D9F3EE" stroke="#1a1a1a" stroke-width="1.1"/>
<rect x="2119.6" y="680.2" width="10.2" height="10.2" fill="#55A593" stroke="#1a1a1a" stroke-width="1.1"/>
<rect x="2083.4" y="661.8" width="13.6" height="13.6" fill="#55A593" stroke="#1a1a1a" stroke-width="1.1"/>
<rect x="2126.9" y="658.8" width="16.2" height="16.2" fill="#55A593" stroke="#1a1a1a" stroke-width="1.1"/>
<rect x="2077.2" y="637.3" width="18.4" height="18.4" fill="#55A593" stroke="#1a1a1a" stroke-width="1.1"/>
<rect x="2077.8" y="647.8" width="20.6" height="20.6" fill="#55A593" stroke="#1a1a1a" stroke-width="1.1"/>
<path d="M1880.1 418.3V727.9H2168.5" fill="none" stroke="#000" stroke-width="2" stroke-linejoin="miter"/>
<line x1="1871.6" y1="419.2" x2="1880.1" y2="419.2" stroke="#000" stroke-width="1.9"/>
<text x="1862.5" y="427.9" text-anchor="end">4</text>
<line x1="1871.6" y1="505.3" x2="1880.1" y2="505.3" stroke="#000" stroke-width="1.9"/>
<text x="1862.5" y="514" text-anchor="end">3</text>
<line x1="1871.6" y1="591.3" x2="1880.1" y2="591.3" stroke="#000" stroke-width="1.9"/>
<text x="1862.5" y="600" text-anchor="end">2</text>
<line x1="1871.6" y1="677.3" x2="1880.1" y2="677.3" stroke="#000" stroke-width="1.9"/>
<text x="1862.5" y="686" text-anchor="end">1</text>
<line x1="1960.1" y1="727.9" x2="1960.1" y2="736.4" stroke="#000" stroke-width="1.9"/>
<text x="1960.1" y="763.5" text-anchor="middle">7.5</text>
<line x1="2045.9" y1="727.9" x2="2045.9" y2="736.4" stroke="#000" stroke-width="1.9"/>
<text x="2045.9" y="763.5" text-anchor="middle">10.0</text>
<line x1="2131.6" y1="727.9" x2="2131.6" y2="736.4" stroke="#000" stroke-width="1.9"/>
<text x="2131.6" y="763.5" text-anchor="middle">12.5</text>
<polygon points="1247.1,965.4 1380.3,1006.3 1477.4,1009.7 1477.4,1048.9 1380.3,1035.2 1247.1,1040.3" fill="#000" fill-opacity="0.04"/>
<line x1="1246.3" y1="1013.9" x2="1477.4" y2="1026.7" stroke="#CDCDCD" stroke-width="2.2"/>
<path d="M1235.5 1039.8H1259.4M1247.5 1023.7V1056M1236.4 1039.5H1256.8M1246.6 1025.9V1053.1M1241.5 1040.3H1267.1M1254.3 1026.7V1054M1259.4 1013.1H1283.2M1271.3 998.6V1027.6M1274.4 1006.8H1303.3M1288.9 988.1V1025.5M1271.8 921.6H1297.4M1284.6 897.8V945.5M1456.1 1017.4H1498.7M1477.4 1003.7V1031M1407.2 1014.5H1441.3M1424.2 999.1V1029.8M1416.9 1040.3H1454.4M1435.7 1024.2V1056.5M1371.8 1034.9H1409.3M1390.5 1019.6V1050.2M1376.4 1039H1415.6M1396 1023.7V1054.3" stroke="#737373" stroke-width="2.1" fill="none"/>
<circle cx="1247.5" cy="1039.8" r="5.3" fill="#F3ECDC" stroke="#1a1a1a" stroke-width="1.1"/>
<circle cx="1246.6" cy="1039.5" r="6.8" fill="#F3ECDC" stroke="#1a1a1a" stroke-width="1.1"/>
<circle cx="1254.3" cy="1040.3" r="8.2" fill="#F3ECDC" stroke="#1a1a1a" stroke-width="1.1"/>
<circle cx="1271.3" cy="1013.1" r="9.4" fill="#F3ECDC" stroke="#1a1a1a" stroke-width="1.1"/>
<circle cx="1288.9" cy="1006.8" r="10.4" fill="#F3ECDC" stroke="#1a1a1a" stroke-width="1.1"/>
<circle cx="1284.6" cy="921.6" r="5.3" fill="#8F8A8C" stroke="#1a1a1a" stroke-width="1.1"/>
<circle cx="1477.4" cy="1017.4" r="5.3" fill="#C88D3C" stroke="#1a1a1a" stroke-width="1.1"/>
<circle cx="1424.2" cy="1014.5" r="6.8" fill="#C88D3C" stroke="#1a1a1a" stroke-width="1.1"/>
<circle cx="1435.7" cy="1040.3" r="8.2" fill="#C88D3C" stroke="#1a1a1a" stroke-width="1.1"/>
<circle cx="1390.5" cy="1034.9" r="9.4" fill="#C88D3C" stroke="#1a1a1a" stroke-width="1.1"/>
<circle cx="1396" cy="1039" r="10.4" fill="#C88D3C" stroke="#1a1a1a" stroke-width="1.1"/>
<path d="M1223.5 801.3V1082.5H1511.3" fill="none" stroke="#000" stroke-width="2" stroke-linejoin="miter"/>
<line x1="1215" y1="847.4" x2="1223.5" y2="847.4" stroke="#000" stroke-width="1.9"/>
<text x="1205.9" y="856.1" text-anchor="end">1.50</text>
<line x1="1215" y1="907.5" x2="1223.5" y2="907.5" stroke="#000" stroke-width="1.9"/>
<text x="1205.9" y="916.2" text-anchor="end">1.25</text>
<line x1="1215" y1="968" x2="1223.5" y2="968" stroke="#000" stroke-width="1.9"/>
<text x="1205.9" y="976.7" text-anchor="end">1.00</text>
<line x1="1215" y1="1028.1" x2="1223.5" y2="1028.1" stroke="#000" stroke-width="1.9"/>
<text x="1205.9" y="1036.8" text-anchor="end">0.75</text>
<line x1="1303.3" y1="1082.5" x2="1303.3" y2="1091" stroke="#000" stroke-width="1.9"/>
<text x="1303.3" y="1118.1" text-anchor="middle">7.5</text>
<line x1="1391.9" y1="1082.5" x2="1391.9" y2="1091" stroke="#000" stroke-width="1.9"/>
<text x="1391.9" y="1118.1" text-anchor="middle">10.0</text>
<line x1="1479.6" y1="1082.5" x2="1479.6" y2="1091" stroke="#000" stroke-width="1.9"/>
<text x="1479.6" y="1118.1" text-anchor="middle">12.5</text>
<polygon points="1577.2,1016.5 1691.3,931.4 1804.5,817.2 1804.5,858.1 1691.3,953.5 1577.2,1042" fill="#000" fill-opacity="0.04"/>
<line x1="1577.2" y1="1035.2" x2="1804.5" y2="852.2" stroke="#CDCDCD" stroke-width="2.2"/>
<path d="M1565.8 1039.5H1587.9M1576.8 1026.7V1052.3M1563.2 1058.2H1590.5M1576.8 1045.5V1071M1570.2 1053.6H1596.8M1583.5 1041.7V1065.6M1599.8 992.7H1625.4M1612.6 978.2V1007.1M1588.2 1005.1H1612.1M1600.2 986.4V1023.8M1604.9 986.7H1630.5M1617.7 968.8V1004.6M1783.2 872.6H1825.8M1804.5 853V892.2M1735.2 904.4H1769.3M1752.2 886.6V922.3M1743.2 897.6H1784.1M1763.7 878.9V916.4M1698.4 869.5H1739.3M1718.9 848.2V890.8M1703.5 912.3H1744.4M1724 892.7V931.9" stroke="#737373" stroke-width="2.1" fill="none"/>
<circle cx="1576.8" cy="1039.5" r="5.3" fill="#F3ECDC" stroke="#1a1a1a" stroke-width="1.1"/>
<circle cx="1576.8" cy="1058.2" r="6.8" fill="#F3ECDC" stroke="#1a1a1a" stroke-width="1.1"/>
<circle cx="1583.5" cy="1053.6" r="8.2" fill="#F3ECDC" stroke="#1a1a1a" stroke-width="1.1"/>
<circle cx="1612.6" cy="992.7" r="5.3" fill="#8F8A8C" stroke="#1a1a1a" stroke-width="1.1"/>
<circle cx="1600.2" cy="1005.1" r="9.4" fill="#F3ECDC" stroke="#1a1a1a" stroke-width="1.1"/>
<circle cx="1617.7" cy="986.7" r="10.4" fill="#F3ECDC" stroke="#1a1a1a" stroke-width="1.1"/>
<circle cx="1804.5" cy="872.6" r="5.3" fill="#C88D3C" stroke="#1a1a1a" stroke-width="1.1"/>
<circle cx="1752.2" cy="904.4" r="6.8" fill="#C88D3C" stroke="#1a1a1a" stroke-width="1.1"/>
<circle cx="1763.7" cy="897.6" r="8.2" fill="#C88D3C" stroke="#1a1a1a" stroke-width="1.1"/>
<circle cx="1718.9" cy="869.5" r="9.4" fill="#C88D3C" stroke="#1a1a1a" stroke-width="1.1"/>
<circle cx="1724" cy="912.3" r="10.4" fill="#C88D3C" stroke="#1a1a1a" stroke-width="1.1"/>
<path d="M1551.4 801.3V1082.5H1839.2" fill="none" stroke="#000" stroke-width="2" stroke-linejoin="miter"/>
<line x1="1542.9" y1="847.4" x2="1551.4" y2="847.4" stroke="#000" stroke-width="1.9"/>
<text x="1533.8" y="856.1" text-anchor="end">1.50</text>
<line x1="1542.9" y1="907.5" x2="1551.4" y2="907.5" stroke="#000" stroke-width="1.9"/>
<text x="1533.8" y="916.2" text-anchor="end">1.25</text>
<line x1="1542.9" y1="968" x2="1551.4" y2="968" stroke="#000" stroke-width="1.9"/>
<text x="1533.8" y="976.7" text-anchor="end">1.00</text>
<line x1="1542.9" y1="1028.1" x2="1551.4" y2="1028.1" stroke="#000" stroke-width="1.9"/>
<text x="1533.8" y="1036.8" text-anchor="end">0.75</text>
<line x1="1632.5" y1="1082.5" x2="1632.5" y2="1091" stroke="#000" stroke-width="1.9"/>
<text x="1632.5" y="1118.1" text-anchor="middle">7.5</text>
<line x1="1719.9" y1="1082.5" x2="1719.9" y2="1091" stroke="#000" stroke-width="1.9"/>
<text x="1719.9" y="1118.1" text-anchor="middle">10.0</text>
<line x1="1807.1" y1="1082.5" x2="1807.1" y2="1091" stroke="#000" stroke-width="1.9"/>
<text x="1807.1" y="1118.1" text-anchor="middle">12.5</text>
<polygon points="1904.2,1008 2018.3,994.4 2132.1,960.3 2132.1,1008 2018.3,1011.4 1904.2,1028.4" fill="#000" fill-opacity="0.04"/>
<line x1="1904.2" y1="1018.2" x2="2132.1" y2="988.4" stroke="#CDCDCD" stroke-width="2.2"/>
<path d="M1891.4 1025.9H1915.3M1903.3 997.8V1054M1892.6 1025.9H1916.5M1904.5 1000.3V1051.4M1911 996.9V1044.6M1927.7 995.7V1045.1M1928.6 984.1H1952.4M1940.5 963.7V1004.6M1932.3 1010.5H1957.8M1945.1 988.4V1032.7M2110.8 991H2153.4M2132.1 971.4V1010.5M2062.2 991.5H2096.3M2079.3 972.7V1010.2M2071.1 1004.2H2110.3M2090.7 987.2V1021.3M2027 1023.8H2065.1M2046.1 1004.8V1042.9M2030.7 962.9H2071.6M2051.2 939V986.7" stroke="#737373" stroke-width="2.1" fill="none"/>
<circle cx="1903.3" cy="1025.9" r="5.3" fill="#F3ECDC" stroke="#1a1a1a" stroke-width="1.1"/>
<circle cx="1904.5" cy="1025.9" r="6.8" fill="#F3ECDC" stroke="#1a1a1a" stroke-width="1.1"/>
<circle cx="1911" cy="1020.8" r="8.2" fill="#F3ECDC" stroke="#1a1a1a" stroke-width="1.1"/>
<circle cx="1927.7" cy="1020.4" r="9.4" fill="#F3ECDC" stroke="#1a1a1a" stroke-width="1.1"/>
<circle cx="1940.5" cy="984.1" r="5.3" fill="#8F8A8C" stroke="#1a1a1a" stroke-width="1.1"/>
<circle cx="1945.1" cy="1010.5" r="10.4" fill="#F3ECDC" stroke="#1a1a1a" stroke-width="1.1"/>
<circle cx="2132.1" cy="991" r="5.3" fill="#C88D3C" stroke="#1a1a1a" stroke-width="1.1"/>
<circle cx="2079.3" cy="991.5" r="6.8" fill="#C88D3C" stroke="#1a1a1a" stroke-width="1.1"/>
<circle cx="2090.7" cy="1004.2" r="8.2" fill="#C88D3C" stroke="#1a1a1a" stroke-width="1.1"/>
<circle cx="2046.1" cy="1023.8" r="9.4" fill="#C88D3C" stroke="#1a1a1a" stroke-width="1.1"/>
<circle cx="2051.2" cy="962.9" r="10.4" fill="#C88D3C" stroke="#1a1a1a" stroke-width="1.1"/>
<path d="M1880.1 801.3V1082.5H2168.5" fill="none" stroke="#000" stroke-width="2" stroke-linejoin="miter"/>
<line x1="1871.6" y1="847.4" x2="1880.1" y2="847.4" stroke="#000" stroke-width="1.9"/>
<text x="1862.5" y="856.1" text-anchor="end">1.50</text>
<line x1="1871.6" y1="907.5" x2="1880.1" y2="907.5" stroke="#000" stroke-width="1.9"/>
<text x="1862.5" y="916.2" text-anchor="end">1.25</text>
<line x1="1871.6" y1="968" x2="1880.1" y2="968" stroke="#000" stroke-width="1.9"/>
<text x="1862.5" y="976.7" text-anchor="end">1.00</text>
<line x1="1871.6" y1="1028.1" x2="1880.1" y2="1028.1" stroke="#000" stroke-width="1.9"/>
<text x="1862.5" y="1036.8" text-anchor="end">0.75</text>
<line x1="1959.5" y1="1082.5" x2="1959.5" y2="1091" stroke="#000" stroke-width="1.9"/>
<text x="1959.5" y="1118.1" text-anchor="middle">7.5</text>
<line x1="2046.9" y1="1082.5" x2="2046.9" y2="1091" stroke="#000" stroke-width="1.9"/>
<text x="2046.9" y="1118.1" text-anchor="middle">10.0</text>
<line x1="2134.5" y1="1082.5" x2="2134.5" y2="1091" stroke="#000" stroke-width="1.9"/>
<text x="2134.5" y="1118.1" text-anchor="middle">12.5</text>
<polygon points="1247.5,1225.1 1363.3,1247.2 1476.5,1240.4 1476.5,1281.3 1363.3,1264.2 1247.5,1264.2" fill="#000" fill-opacity="0.04"/>
<line x1="1246.6" y1="1249.8" x2="1476.5" y2="1261.7" stroke="#CDCDCD" stroke-width="2.2"/>
<path d="M1236.4 1250.6H1256.8M1246.6 1234.4V1266.8M1235.2 1246.9H1259.7M1247.5 1228.1V1265.6M1241.7 1280.8H1266.2M1253.9 1266.3V1295.2M1259 1262.5H1282.9M1271 1245.5V1279.6M1275.1 1256.9H1301.6M1288.3 1239V1274.8M1271.5 1196.6H1296M1283.7 1180.5V1212.8M1455.2 1261.7H1497.8M1476.5 1243.8V1279.6M1405.5 1281.8H1441.3M1423.4 1269V1294.6M1413.5 1237.8H1456.1M1434.8 1218.3V1257.4M1371.6 1264.8H1408.4M1390 1247.7V1281.8M1375.2 1258.6H1415.4M1395.3 1241.6V1275.7" stroke="#737373" stroke-width="2.1" fill="none"/>
<rect x="1241.5" y="1245.5" width="10.2" height="10.2" fill="#D9F3EE" stroke="#1a1a1a" stroke-width="1.1"/>
<rect x="1240.7" y="1240.1" width="13.6" height="13.6" fill="#D9F3EE" stroke="#1a1a1a" stroke-width="1.1"/>
<rect x="1245.8" y="1272.7" width="16.2" height="16.2" fill="#D9F3EE" stroke="#1a1a1a" stroke-width="1.1"/>
<rect x="1261.8" y="1253.3" width="18.4" height="18.4" fill="#D9F3EE" stroke="#1a1a1a" stroke-width="1.1"/>
<rect x="1278" y="1246.6" width="20.6" height="20.6" fill="#D9F3EE" stroke="#1a1a1a" stroke-width="1.1"/>
<rect x="1278.6" y="1191.5" width="10.2" height="10.2" fill="#8F8A8C" stroke="#1a1a1a" stroke-width="1.1"/>
<rect x="1471.4" y="1256.6" width="10.2" height="10.2" fill="#55A593" stroke="#1a1a1a" stroke-width="1.1"/>
<rect x="1416.6" y="1275" width="13.6" height="13.6" fill="#55A593" stroke="#1a1a1a" stroke-width="1.1"/>
<rect x="1426.7" y="1229.7" width="16.2" height="16.2" fill="#55A593" stroke="#1a1a1a" stroke-width="1.1"/>
<rect x="1380.8" y="1255.6" width="18.4" height="18.4" fill="#55A593" stroke="#1a1a1a" stroke-width="1.1"/>
<rect x="1385" y="1248.3" width="20.6" height="20.6" fill="#55A593" stroke="#1a1a1a" stroke-width="1.1"/>
<path d="M1223.5 1138.2V1419.6H1511.3" fill="none" stroke="#000" stroke-width="2" stroke-linejoin="miter"/>
<line x1="1215" y1="1177.4" x2="1223.5" y2="1177.4" stroke="#000" stroke-width="1.9"/>
<text x="1205.9" y="1186.1" text-anchor="end">2.0</text>
<line x1="1215" y1="1250.3" x2="1223.5" y2="1250.3" stroke="#000" stroke-width="1.9"/>
<text x="1205.9" y="1259" text-anchor="end">1.5</text>
<line x1="1215" y1="1323.8" x2="1223.5" y2="1323.8" stroke="#000" stroke-width="1.9"/>
<text x="1205.9" y="1332.5" text-anchor="end">1.0</text>
<line x1="1215" y1="1397.6" x2="1223.5" y2="1397.6" stroke="#000" stroke-width="1.9"/>
<text x="1205.9" y="1406.3" text-anchor="end">0.5</text>
<line x1="1302.8" y1="1419.6" x2="1302.8" y2="1428.1" stroke="#000" stroke-width="1.9"/>
<text x="1302.8" y="1455.2" text-anchor="middle">7.5</text>
<line x1="1390.9" y1="1419.6" x2="1390.9" y2="1428.1" stroke="#000" stroke-width="1.9"/>
<text x="1390.9" y="1455.2" text-anchor="middle">10.0</text>
<line x1="1478.7" y1="1419.6" x2="1478.7" y2="1428.1" stroke="#000" stroke-width="1.9"/>
<text x="1478.7" y="1455.2" text-anchor="middle">12.5</text>
<polygon points="1576.3,1174 1691.3,1272.8 1804.5,1354.5 1804.5,1407.3 1691.3,1289.8 1576.3,1202.9" fill="#000" fill-opacity="0.04"/>
<line x1="1576.3" y1="1184.2" x2="1805.4" y2="1377.8" stroke="#CDCDCD" stroke-width="2.2"/>
<path d="M1564.4 1165.1H1586.5M1575.5 1151.5V1178.8M1563.5 1189.6H1589.1M1576.3 1175.2V1204.1M1570.4 1179.9H1594.2M1582.3 1166.3V1193.6M1587.7 1175.7H1611.6M1599.6 1162.1V1189.3M1604.9 1196.1H1629.5M1617.2 1179.9V1212.3M1600.2 1270.5H1624.7M1612.4 1259.5V1281.6M1783.2 1345.1H1825.8M1804.5 1334.9V1355.4M1733.8 1329H1769.6M1751.7 1316.7V1341.2M1743.6 1350.8H1782.7M1763.1 1341.4V1360.1M1698.1 1321H1739M1718.5 1310.7V1331.2M1702.9 1331.2H1743.7M1723.3 1319.3V1343.1" stroke="#737373" stroke-width="2.1" fill="none"/>
<rect x="1570.4" y="1160" width="10.2" height="10.2" fill="#D9F3EE" stroke="#1a1a1a" stroke-width="1.1"/>
<rect x="1569.5" y="1182.8" width="13.6" height="13.6" fill="#D9F3EE" stroke="#1a1a1a" stroke-width="1.1"/>
<rect x="1574.2" y="1171.8" width="16.2" height="16.2" fill="#D9F3EE" stroke="#1a1a1a" stroke-width="1.1"/>
<rect x="1590.4" y="1166.5" width="18.4" height="18.4" fill="#D9F3EE" stroke="#1a1a1a" stroke-width="1.1"/>
<rect x="1606.9" y="1185.8" width="20.6" height="20.6" fill="#D9F3EE" stroke="#1a1a1a" stroke-width="1.1"/>
<rect x="1607.3" y="1265.4" width="10.2" height="10.2" fill="#8F8A8C" stroke="#1a1a1a" stroke-width="1.1"/>
<rect x="1799.4" y="1340" width="10.2" height="10.2" fill="#55A593" stroke="#1a1a1a" stroke-width="1.1"/>
<rect x="1744.9" y="1322.2" width="13.6" height="13.6" fill="#55A593" stroke="#1a1a1a" stroke-width="1.1"/>
<rect x="1755" y="1342.7" width="16.2" height="16.2" fill="#55A593" stroke="#1a1a1a" stroke-width="1.1"/>
<rect x="1709.3" y="1311.8" width="18.4" height="18.4" fill="#55A593" stroke="#1a1a1a" stroke-width="1.1"/>
<rect x="1713" y="1320.9" width="20.6" height="20.6" fill="#55A593" stroke="#1a1a1a" stroke-width="1.1"/>
<path d="M1551.4 1138.2V1419.6H1839.2" fill="none" stroke="#000" stroke-width="2" stroke-linejoin="miter"/>
<line x1="1542.9" y1="1177.4" x2="1551.4" y2="1177.4" stroke="#000" stroke-width="1.9"/>
<text x="1533.8" y="1186.1" text-anchor="end">2.0</text>
<line x1="1542.9" y1="1250.3" x2="1551.4" y2="1250.3" stroke="#000" stroke-width="1.9"/>
<text x="1533.8" y="1259" text-anchor="end">1.5</text>
<line x1="1542.9" y1="1323.8" x2="1551.4" y2="1323.8" stroke="#000" stroke-width="1.9"/>
<text x="1533.8" y="1332.5" text-anchor="end">1.0</text>
<line x1="1542.9" y1="1397.6" x2="1551.4" y2="1397.6" stroke="#000" stroke-width="1.9"/>
<text x="1533.8" y="1406.3" text-anchor="end">0.5</text>
<line x1="1631.7" y1="1419.6" x2="1631.7" y2="1428.1" stroke="#000" stroke-width="1.9"/>
<text x="1631.7" y="1455.2" text-anchor="middle">7.5</text>
<line x1="1719.4" y1="1419.6" x2="1719.4" y2="1428.1" stroke="#000" stroke-width="1.9"/>
<text x="1719.4" y="1455.2" text-anchor="middle">10.0</text>
<line x1="1807.1" y1="1419.6" x2="1807.1" y2="1428.1" stroke="#000" stroke-width="1.9"/>
<text x="1807.1" y="1455.2" text-anchor="middle">12.5</text>
<polygon points="1902.5,1223.4 2018.3,1237 2133.3,1233.6 2133.3,1269.4 2018.3,1255.7 1902.5,1264.2" fill="#000" fill-opacity="0.04"/>
<line x1="1902.5" y1="1243.8" x2="2133.3" y2="1249.8" stroke="#CDCDCD" stroke-width="2.2"/>
<path d="M1893.3 1218.6H1914.4M1903.9 1202.4V1234.8M1891.9 1264.8H1916.5M1904.2 1247.7V1281.8M1898.8 1265.9H1923.3M1911 1250.6V1281.3M1916 1225.4H1939.1M1927.5 1210.1V1240.7M1932.8 1214.9H1957.3M1945.1 1193.6V1236.1M1928.2 1259.6H1952.7M1940.5 1245.2V1274.1M2111.1 1229H2153.7M2132.4 1211.1V1246.9M2062.9 1249.4H2097M2080 1235V1263.9M2071.9 1259.1H2111.1M2091.5 1245.5V1272.8M2027.7 1259.6H2065.1M2046.4 1246V1273.3M2031.9 1258.8H2071.1M2051.5 1243.5V1274.1" stroke="#737373" stroke-width="2.1" fill="none"/>
<rect x="1898.8" y="1213.5" width="10.2" height="10.2" fill="#D9F3EE" stroke="#1a1a1a" stroke-width="1.1"/>
<rect x="1897.4" y="1258" width="13.6" height="13.6" fill="#D9F3EE" stroke="#1a1a1a" stroke-width="1.1"/>
<rect x="1902.9" y="1257.8" width="16.2" height="16.2" fill="#D9F3EE" stroke="#1a1a1a" stroke-width="1.1"/>
<rect x="1918.3" y="1216.2" width="18.4" height="18.4" fill="#D9F3EE" stroke="#1a1a1a" stroke-width="1.1"/>
<rect x="1934.8" y="1204.6" width="20.6" height="20.6" fill="#D9F3EE" stroke="#1a1a1a" stroke-width="1.1"/>
<rect x="1935.4" y="1254.5" width="10.2" height="10.2" fill="#8F8A8C" stroke="#1a1a1a" stroke-width="1.1"/>
<rect x="2127.3" y="1223.9" width="10.2" height="10.2" fill="#55A593" stroke="#1a1a1a" stroke-width="1.1"/>
<rect x="2073.2" y="1242.6" width="13.6" height="13.6" fill="#55A593" stroke="#1a1a1a" stroke-width="1.1"/>
<rect x="2083.4" y="1251" width="16.2" height="16.2" fill="#55A593" stroke="#1a1a1a" stroke-width="1.1"/>
<rect x="2037.2" y="1250.4" width="18.4" height="18.4" fill="#55A593" stroke="#1a1a1a" stroke-width="1.1"/>
<rect x="2041.2" y="1248.5" width="20.6" height="20.6" fill="#55A593" stroke="#1a1a1a" stroke-width="1.1"/>
<path d="M1880.1 1138.2V1419.6H2168.5" fill="none" stroke="#000" stroke-width="2" stroke-linejoin="miter"/>
<line x1="1871.6" y1="1177.4" x2="1880.1" y2="1177.4" stroke="#000" stroke-width="1.9"/>
<text x="1862.5" y="1186.1" text-anchor="end">2.0</text>
<line x1="1871.6" y1="1250.3" x2="1880.1" y2="1250.3" stroke="#000" stroke-width="1.9"/>
<text x="1862.5" y="1259" text-anchor="end">1.5</text>
<line x1="1871.6" y1="1323.8" x2="1880.1" y2="1323.8" stroke="#000" stroke-width="1.9"/>
<text x="1862.5" y="1332.5" text-anchor="end">1.0</text>
<line x1="1871.6" y1="1397.6" x2="1880.1" y2="1397.6" stroke="#000" stroke-width="1.9"/>
<text x="1862.5" y="1406.3" text-anchor="end">0.5</text>
<line x1="1959.5" y1="1419.6" x2="1959.5" y2="1428.1" stroke="#000" stroke-width="1.9"/>
<text x="1959.5" y="1455.2" text-anchor="middle">7.5</text>
<line x1="2047.3" y1="1419.6" x2="2047.3" y2="1428.1" stroke="#000" stroke-width="1.9"/>
<text x="2047.3" y="1455.2" text-anchor="middle">10.0</text>
<line x1="2135" y1="1419.6" x2="2135" y2="1428.1" stroke="#000" stroke-width="1.9"/>
<text x="2135" y="1455.2" text-anchor="middle">12.5</text>
<polygon points="1241.5,1761.2 1363.3,1762.9 1485.9,1759.5 1485.9,1769.7 1363.3,1768 1241.5,1770.6" fill="#000" fill-opacity="0.04"/>
<line x1="1241.5" y1="1766" x2="1485.9" y2="1764.6" stroke="#CDCDCD" stroke-width="2.2"/>
<path d="M1240.7 1754.9V1770.2M1342.5 1776.2H1360.2M1351.4 1769.4V1783M1474 1763.4H1497.8M1485.9 1755.7V1771.1M1444.7 1754.4H1468.5M1456.6 1745V1763.7M1433.9 1767.7H1454.4M1405.3 1771.9H1428.5" stroke="#737373" stroke-width="2.1" fill="none"/>
<circle cx="1240.7" cy="1762.6" r="5.3" fill="#F3ECDC" stroke="#1a1a1a" stroke-width="1.1"/>
<circle cx="1256" cy="1773.6" r="6.8" fill="#F3ECDC" stroke="#1a1a1a" stroke-width="1.1"/>
<circle cx="1263.3" cy="1772.3" r="8.2" fill="#F3ECDC" stroke="#1a1a1a" stroke-width="1.1"/>
<circle cx="1264.5" cy="1747.6" r="9.4" fill="#F3ECDC" stroke="#1a1a1a" stroke-width="1.1"/>
<circle cx="1270.5" cy="1764.6" r="10.4" fill="#F3ECDC" stroke="#1a1a1a" stroke-width="1.1"/>
<circle cx="1351.4" cy="1776.2" r="5.3" fill="#8F8A8C" stroke="#1a1a1a" stroke-width="1.1"/>
<circle cx="1485.9" cy="1763.4" r="5.3" fill="#C88D3C" stroke="#1a1a1a" stroke-width="1.1"/>
<circle cx="1456.6" cy="1754.4" r="6.8" fill="#C88D3C" stroke="#1a1a1a" stroke-width="1.1"/>
<circle cx="1444.2" cy="1767.7" r="8.2" fill="#C88D3C" stroke="#1a1a1a" stroke-width="1.1"/>
<circle cx="1429.4" cy="1762.9" r="9.4" fill="#C88D3C" stroke="#1a1a1a" stroke-width="1.1"/>
<circle cx="1416.9" cy="1771.9" r="10.4" fill="#C88D3C" stroke="#1a1a1a" stroke-width="1.1"/>
<path d="M1223.5 1493V1802.9H1511.3" fill="none" stroke="#000" stroke-width="2" stroke-linejoin="miter"/>
<line x1="1215" y1="1524" x2="1223.5" y2="1524" stroke="#000" stroke-width="1.9"/>
<text x="1205.9" y="1532.7" text-anchor="end">2.5</text>
<line x1="1215" y1="1590.9" x2="1223.5" y2="1590.9" stroke="#000" stroke-width="1.9"/>
<text x="1205.9" y="1599.6" text-anchor="end">2.0</text>
<line x1="1215" y1="1657.8" x2="1223.5" y2="1657.8" stroke="#000" stroke-width="1.9"/>
<text x="1205.9" y="1666.5" text-anchor="end">1.5</text>
<line x1="1215" y1="1724.6" x2="1223.5" y2="1724.6" stroke="#000" stroke-width="1.9"/>
<text x="1205.9" y="1733.3" text-anchor="end">1.0</text>
<line x1="1215" y1="1791.3" x2="1223.5" y2="1791.3" stroke="#000" stroke-width="1.9"/>
<text x="1205.9" y="1800" text-anchor="end">0.5</text>
<line x1="1224" y1="1802.9" x2="1224" y2="1811.4" stroke="#000" stroke-width="1.9"/>
<text x="1224" y="1838.5" text-anchor="middle">5</text>
<line x1="1382" y1="1802.9" x2="1382" y2="1811.4" stroke="#000" stroke-width="1.9"/>
<text x="1382" y="1838.5" text-anchor="middle">10</text>
<polygon points="1568.3,1771.4 1691.3,1647.1 1815.1,1516 1815.1,1533 1691.3,1655.6 1568.3,1783.3" fill="#000" fill-opacity="0.04"/>
<line x1="1568.3" y1="1776.5" x2="1815.1" y2="1523.6" stroke="#CDCDCD" stroke-width="2.2"/>
<path d="M1568.7 1754.4V1769.7M1671 1687.4H1688.7M1679.9 1674.7V1700.2M1803.2 1520.7H1827M1815.1 1507.4V1534M1773.5 1565.3H1798.1M1785.8 1552.1V1578.6M1762.8 1565.3H1783.9M1773.4 1551.7V1579M1746.3 1581.5H1770.8M1758.5 1568.7V1594.3M1733.2 1573.9H1757.7M1745.4 1558.9V1588.8" stroke="#737373" stroke-width="2.1" fill="none"/>
<circle cx="1568.7" cy="1762" r="5.3" fill="#F3ECDC" stroke="#1a1a1a" stroke-width="1.1"/>
<circle cx="1584.3" cy="1754" r="6.8" fill="#F3ECDC" stroke="#1a1a1a" stroke-width="1.1"/>
<circle cx="1587.4" cy="1755.2" r="8.2" fill="#F3ECDC" stroke="#1a1a1a" stroke-width="1.1"/>
<circle cx="1592.5" cy="1750.6" r="9.4" fill="#F3ECDC" stroke="#1a1a1a" stroke-width="1.1"/>
<circle cx="1599" cy="1757.8" r="10.4" fill="#F3ECDC" stroke="#1a1a1a" stroke-width="1.1"/>
<circle cx="1679.9" cy="1687.4" r="5.3" fill="#8F8A8C" stroke="#1a1a1a" stroke-width="1.1"/>
<circle cx="1815.1" cy="1520.7" r="5.3" fill="#C88D3C" stroke="#1a1a1a" stroke-width="1.1"/>
<circle cx="1785.8" cy="1565.3" r="6.8" fill="#C88D3C" stroke="#1a1a1a" stroke-width="1.1"/>
<circle cx="1773.4" cy="1565.3" r="8.2" fill="#C88D3C" stroke="#1a1a1a" stroke-width="1.1"/>
<circle cx="1758.5" cy="1581.5" r="9.4" fill="#C88D3C" stroke="#1a1a1a" stroke-width="1.1"/>
<circle cx="1745.4" cy="1573.9" r="10.4" fill="#C88D3C" stroke="#1a1a1a" stroke-width="1.1"/>
<path d="M1551.4 1493V1802.9H1839.2" fill="none" stroke="#000" stroke-width="2" stroke-linejoin="miter"/>
<line x1="1542.9" y1="1524" x2="1551.4" y2="1524" stroke="#000" stroke-width="1.9"/>
<text x="1533.8" y="1532.7" text-anchor="end">2.5</text>
<line x1="1542.9" y1="1590.9" x2="1551.4" y2="1590.9" stroke="#000" stroke-width="1.9"/>
<text x="1533.8" y="1599.6" text-anchor="end">2.0</text>
<line x1="1542.9" y1="1657.8" x2="1551.4" y2="1657.8" stroke="#000" stroke-width="1.9"/>
<text x="1533.8" y="1666.5" text-anchor="end">1.5</text>
<line x1="1542.9" y1="1724.6" x2="1551.4" y2="1724.6" stroke="#000" stroke-width="1.9"/>
<text x="1533.8" y="1733.3" text-anchor="end">1.0</text>
<line x1="1542.9" y1="1791.3" x2="1551.4" y2="1791.3" stroke="#000" stroke-width="1.9"/>
<text x="1533.8" y="1800" text-anchor="end">0.5</text>
<line x1="1552" y1="1802.9" x2="1552" y2="1811.4" stroke="#000" stroke-width="1.9"/>
<text x="1552" y="1838.5" text-anchor="middle">5</text>
<line x1="1710.5" y1="1802.9" x2="1710.5" y2="1811.4" stroke="#000" stroke-width="1.9"/>
<text x="1710.5" y="1838.5" text-anchor="middle">10</text>
<polygon points="1897.4,1667.5 2018.3,1657.3 2142.6,1633.5 2142.6,1660.7 2018.3,1665.8 1897.4,1682.8" fill="#000" fill-opacity="0.04"/>
<line x1="1897.4" y1="1674.3" x2="2142.6" y2="1647.9" stroke="#CDCDCD" stroke-width="2.2"/>
<path d="M1897.4 1667.9V1684.9M1998.7 1644.5H2017.5M2008.1 1630.1V1659M2130.7 1660.7H2154.5M2142.6 1650.2V1671.3M2100.9 1655.1H2125.4M2113.2 1643.5V1666.7M2090.3 1639.8H2111.5M2100.9 1629.2V1650.3M2074.2 1659.3H2098.7" stroke="#737373" stroke-width="2.1" fill="none"/>
<circle cx="1897.4" cy="1676.4" r="5.3" fill="#F3ECDC" stroke="#1a1a1a" stroke-width="1.1"/>
<circle cx="1914.1" cy="1684.6" r="6.8" fill="#F3ECDC" stroke="#1a1a1a" stroke-width="1.1"/>
<circle cx="1917" cy="1675.2" r="8.2" fill="#F3ECDC" stroke="#1a1a1a" stroke-width="1.1"/>
<circle cx="1920.9" cy="1666.7" r="9.4" fill="#F3ECDC" stroke="#1a1a1a" stroke-width="1.1"/>
<circle cx="1927.2" cy="1672.6" r="10.4" fill="#F3ECDC" stroke="#1a1a1a" stroke-width="1.1"/>
<circle cx="2008.1" cy="1644.5" r="5.3" fill="#8F8A8C" stroke="#1a1a1a" stroke-width="1.1"/>
<circle cx="2142.6" cy="1660.7" r="5.3" fill="#C88D3C" stroke="#1a1a1a" stroke-width="1.1"/>
<circle cx="2113.2" cy="1655.1" r="6.8" fill="#C88D3C" stroke="#1a1a1a" stroke-width="1.1"/>
<circle cx="2100.9" cy="1639.8" r="8.2" fill="#C88D3C" stroke="#1a1a1a" stroke-width="1.1"/>
<circle cx="2086.4" cy="1659.3" r="9.4" fill="#C88D3C" stroke="#1a1a1a" stroke-width="1.1"/>
<circle cx="2073.7" cy="1654.7" r="10.4" fill="#C88D3C" stroke="#1a1a1a" stroke-width="1.1"/>
<path d="M1880.1 1493V1802.9H2168.5" fill="none" stroke="#000" stroke-width="2" stroke-linejoin="miter"/>
<line x1="1871.6" y1="1524" x2="1880.1" y2="1524" stroke="#000" stroke-width="1.9"/>
<text x="1862.5" y="1532.7" text-anchor="end">2.5</text>
<line x1="1871.6" y1="1590.9" x2="1880.1" y2="1590.9" stroke="#000" stroke-width="1.9"/>
<text x="1862.5" y="1599.6" text-anchor="end">2.0</text>
<line x1="1871.6" y1="1657.8" x2="1880.1" y2="1657.8" stroke="#000" stroke-width="1.9"/>
<text x="1862.5" y="1666.5" text-anchor="end">1.5</text>
<line x1="1871.6" y1="1724.6" x2="1880.1" y2="1724.6" stroke="#000" stroke-width="1.9"/>
<text x="1862.5" y="1733.3" text-anchor="end">1.0</text>
<line x1="1871.6" y1="1791.3" x2="1880.1" y2="1791.3" stroke="#000" stroke-width="1.9"/>
<text x="1862.5" y="1800" text-anchor="end">0.5</text>
<line x1="1880.4" y1="1802.9" x2="1880.4" y2="1811.4" stroke="#000" stroke-width="1.9"/>
<text x="1880.4" y="1838.5" text-anchor="middle">5</text>
<line x1="2038.7" y1="1802.9" x2="2038.7" y2="1811.4" stroke="#000" stroke-width="1.9"/>
<text x="2038.7" y="1838.5" text-anchor="middle">10</text>
<polygon points="1240.7,1919.4 1380.3,1937.3 1488.4,1933.9 1488.4,1960.3 1380.3,1956.9 1240.7,1970.5" fill="#000" fill-opacity="0.04"/>
<line x1="1240.3" y1="1944.9" x2="1488.4" y2="1947" stroke="#CDCDCD" stroke-width="2.2"/>
<path d="M1241 1882.4V1921.6M1267.6 1948.7V1991.3M1277.6 1944.9V1982.4M1273.2 1910V1959.4M1287 1926.2V1973.9M1315.6 1943.7V1981.2M1478.6 1950.9H1498.3M1488.4 1933V1968.8M1433.1 1929.3H1453.5M1443.3 1906.3V1952.3M1424.2 1927.1V1967.9M1442.5 1921.9V1966.2M1437.4 1932.2V1964.5" stroke="#737373" stroke-width="2.1" fill="none"/>
<rect x="1235.9" y="1896.9" width="10.2" height="10.2" fill="#D9F3EE" stroke="#1a1a1a" stroke-width="1.1"/>
<rect x="1260.8" y="1963.2" width="13.6" height="13.6" fill="#D9F3EE" stroke="#1a1a1a" stroke-width="1.1"/>
<rect x="1269.5" y="1955.6" width="16.2" height="16.2" fill="#D9F3EE" stroke="#1a1a1a" stroke-width="1.1"/>
<rect x="1264" y="1925.5" width="18.4" height="18.4" fill="#D9F3EE" stroke="#1a1a1a" stroke-width="1.1"/>
<rect x="1276.7" y="1939.7" width="20.6" height="20.6" fill="#D9F3EE" stroke="#1a1a1a" stroke-width="1.1"/>
<rect x="1310.5" y="1957.4" width="10.2" height="10.2" fill="#8F8A8C" stroke="#1a1a1a" stroke-width="1.1"/>
<rect x="1483.3" y="1945.8" width="10.2" height="10.2" fill="#55A593" stroke="#1a1a1a" stroke-width="1.1"/>
<rect x="1436.5" y="1922.5" width="13.6" height="13.6" fill="#55A593" stroke="#1a1a1a" stroke-width="1.1"/>
<rect x="1416.1" y="1939.4" width="16.2" height="16.2" fill="#55A593" stroke="#1a1a1a" stroke-width="1.1"/>
<rect x="1433.3" y="1934.9" width="18.4" height="18.4" fill="#55A593" stroke="#1a1a1a" stroke-width="1.1"/>
<rect x="1427.1" y="1938" width="20.6" height="20.6" fill="#55A593" stroke="#1a1a1a" stroke-width="1.1"/>
<path d="M1223.5 1876.2V2185.1H1511.3" fill="none" stroke="#000" stroke-width="2" stroke-linejoin="miter"/>
<line x1="1215" y1="1879.4" x2="1223.5" y2="1879.4" stroke="#000" stroke-width="1.9"/>
<text x="1205.9" y="1888.1" text-anchor="end">3.0</text>
<line x1="1215" y1="1939.5" x2="1223.5" y2="1939.5" stroke="#000" stroke-width="1.9"/>
<text x="1205.9" y="1948.2" text-anchor="end">2.5</text>
<line x1="1215" y1="1999.4" x2="1223.5" y2="1999.4" stroke="#000" stroke-width="1.9"/>
<text x="1205.9" y="2008.1" text-anchor="end">2.0</text>
<line x1="1215" y1="2059" x2="1223.5" y2="2059" stroke="#000" stroke-width="1.9"/>
<text x="1205.9" y="2067.7" text-anchor="end">1.5</text>
<line x1="1215" y1="2119.2" x2="1223.5" y2="2119.2" stroke="#000" stroke-width="1.9"/>
<text x="1205.9" y="2127.9" text-anchor="end">1.0</text>
<line x1="1215" y1="2179.1" x2="1223.5" y2="2179.1" stroke="#000" stroke-width="1.9"/>
<text x="1205.9" y="2187.8" text-anchor="end">0.5</text>
<line x1="1243.5" y1="2185.1" x2="1243.5" y2="2193.6" stroke="#000" stroke-width="1.9"/>
<text x="1243.5" y="2220.7" text-anchor="middle">5</text>
<line x1="1418.6" y1="2185.1" x2="1418.6" y2="2193.6" stroke="#000" stroke-width="1.9"/>
<text x="1418.6" y="2220.7" text-anchor="middle">10</text>
<text x="1367.4" y="2253.5" text-anchor="middle">lick<tspan font-size="16.1" dy="4.6">decel.</tspan><tspan dy="-4.6"> (mm)</tspan></text>
<polygon points="1572.1,2014.8 1691.3,2088 1817.3,2159.5 1817.3,2174.8 1691.3,2094.8 1572.1,2025" fill="#000" fill-opacity="0.04"/>
<line x1="1572.1" y1="2019.9" x2="1817.3" y2="2166.3" stroke="#CDCDCD" stroke-width="2.2"/>
<path d="M1569.2 2000.8V2043.4M1595.9 2007.9V2052.2M1605.8 2002V2044.6M1601.5 2007.9V2053.9M1615.5 2026.2V2065.3M1643.9 2068.4V2097.4M1807.1 2153.6H1826.8M1817 2143.3V2163.8M1771.8 2137.4V2161.2M1752.2 2118.6V2142.5M1771 2128.9V2149.3M1765.9 2116.6V2147.3" stroke="#737373" stroke-width="2.1" fill="none"/>
<rect x="1564.1" y="2017" width="10.2" height="10.2" fill="#D9F3EE" stroke="#1a1a1a" stroke-width="1.1"/>
<rect x="1589.1" y="2023.3" width="13.6" height="13.6" fill="#D9F3EE" stroke="#1a1a1a" stroke-width="1.1"/>
<rect x="1597.7" y="2015.2" width="16.2" height="16.2" fill="#D9F3EE" stroke="#1a1a1a" stroke-width="1.1"/>
<rect x="1592.3" y="2021.7" width="18.4" height="18.4" fill="#D9F3EE" stroke="#1a1a1a" stroke-width="1.1"/>
<rect x="1605.2" y="2035.5" width="20.6" height="20.6" fill="#D9F3EE" stroke="#1a1a1a" stroke-width="1.1"/>
<rect x="1638.8" y="2077.8" width="10.2" height="10.2" fill="#8F8A8C" stroke="#1a1a1a" stroke-width="1.1"/>
<rect x="1811.9" y="2148.5" width="10.2" height="10.2" fill="#55A593" stroke="#1a1a1a" stroke-width="1.1"/>
<rect x="1765" y="2142.5" width="13.6" height="13.6" fill="#55A593" stroke="#1a1a1a" stroke-width="1.1"/>
<rect x="1744.1" y="2122.5" width="16.2" height="16.2" fill="#55A593" stroke="#1a1a1a" stroke-width="1.1"/>
<rect x="1761.8" y="2129.9" width="18.4" height="18.4" fill="#55A593" stroke="#1a1a1a" stroke-width="1.1"/>
<rect x="1755.6" y="2121.6" width="20.6" height="20.6" fill="#55A593" stroke="#1a1a1a" stroke-width="1.1"/>
<path d="M1551.4 1876.2V2185.1H1839.2" fill="none" stroke="#000" stroke-width="2" stroke-linejoin="miter"/>
<line x1="1542.9" y1="1879.4" x2="1551.4" y2="1879.4" stroke="#000" stroke-width="1.9"/>
<text x="1533.8" y="1888.1" text-anchor="end">3.0</text>
<line x1="1542.9" y1="1939.5" x2="1551.4" y2="1939.5" stroke="#000" stroke-width="1.9"/>
<text x="1533.8" y="1948.2" text-anchor="end">2.5</text>
<line x1="1542.9" y1="1999.4" x2="1551.4" y2="1999.4" stroke="#000" stroke-width="1.9"/>
<text x="1533.8" y="2008.1" text-anchor="end">2.0</text>
<line x1="1542.9" y1="2059" x2="1551.4" y2="2059" stroke="#000" stroke-width="1.9"/>
<text x="1533.8" y="2067.7" text-anchor="end">1.5</text>
<line x1="1542.9" y1="2119.2" x2="1551.4" y2="2119.2" stroke="#000" stroke-width="1.9"/>
<text x="1533.8" y="2127.9" text-anchor="end">1.0</text>
<line x1="1542.9" y1="2179.1" x2="1551.4" y2="2179.1" stroke="#000" stroke-width="1.9"/>
<text x="1533.8" y="2187.8" text-anchor="end">0.5</text>
<line x1="1572.1" y1="2185.1" x2="1572.1" y2="2193.6" stroke="#000" stroke-width="1.9"/>
<text x="1572.1" y="2220.7" text-anchor="middle">5</text>
<line x1="1747" y1="2185.1" x2="1747" y2="2193.6" stroke="#000" stroke-width="1.9"/>
<text x="1747" y="2220.7" text-anchor="middle">10</text>
<text x="1695.3" y="2253.5" text-anchor="middle">lick<tspan font-size="16.1" dy="4.6">decel.</tspan><tspan dy="-4.6"> (mm)</tspan></text>
<polygon points="1897.4,2081.2 2018.3,2062.4 2145.2,2030.1 2145.2,2050.5 2018.3,2069.3 1897.4,2101.6" fill="#000" fill-opacity="0.04"/>
<line x1="1897.4" y1="2089.7" x2="2145.2" y2="2042" stroke="#CDCDCD" stroke-width="2.2"/>
<path d="M1897.4 2054.8V2090.5M1924.1 2078.6V2109.3M1933.2 2079.5V2111.8M1929.7 2055.6V2091.4M1943.4 2082.9V2113.5M1971.8 2056V2083.2M2134.8 2052.6H2154.5M2144.7 2033.8V2071.3M2089.8 2043.7H2110.3M2100 2027.5V2059.9M2080.5 2037.7V2073.5M2098.9 2038.1V2068.7M2093.6 2019.5V2060.4" stroke="#737373" stroke-width="2.1" fill="none"/>
<rect x="1892.3" y="2067.6" width="10.2" height="10.2" fill="#D9F3EE" stroke="#1a1a1a" stroke-width="1.1"/>
<rect x="1917.3" y="2087.1" width="13.6" height="13.6" fill="#D9F3EE" stroke="#1a1a1a" stroke-width="1.1"/>
<rect x="1925.1" y="2087.6" width="16.2" height="16.2" fill="#D9F3EE" stroke="#1a1a1a" stroke-width="1.1"/>
<rect x="1920.5" y="2064.3" width="18.4" height="18.4" fill="#D9F3EE" stroke="#1a1a1a" stroke-width="1.1"/>
<rect x="1933.1" y="2087.9" width="20.6" height="20.6" fill="#D9F3EE" stroke="#1a1a1a" stroke-width="1.1"/>
<rect x="1966.7" y="2064.5" width="10.2" height="10.2" fill="#8F8A8C" stroke="#1a1a1a" stroke-width="1.1"/>
<rect x="2139.6" y="2047.5" width="10.2" height="10.2" fill="#55A593" stroke="#1a1a1a" stroke-width="1.1"/>
<rect x="2093.2" y="2036.9" width="13.6" height="13.6" fill="#55A593" stroke="#1a1a1a" stroke-width="1.1"/>
<rect x="2072.4" y="2047.5" width="16.2" height="16.2" fill="#55A593" stroke="#1a1a1a" stroke-width="1.1"/>
<rect x="2089.7" y="2044.2" width="18.4" height="18.4" fill="#55A593" stroke="#1a1a1a" stroke-width="1.1"/>
<rect x="2083.3" y="2029.7" width="20.6" height="20.6" fill="#55A593" stroke="#1a1a1a" stroke-width="1.1"/>
<path d="M1880.1 1876.2V2185.1H2168.5" fill="none" stroke="#000" stroke-width="2" stroke-linejoin="miter"/>
<line x1="1871.6" y1="1879.4" x2="1880.1" y2="1879.4" stroke="#000" stroke-width="1.9"/>
<text x="1862.5" y="1888.1" text-anchor="end">3.0</text>
<line x1="1871.6" y1="1939.5" x2="1880.1" y2="1939.5" stroke="#000" stroke-width="1.9"/>
<text x="1862.5" y="1948.2" text-anchor="end">2.5</text>
<line x1="1871.6" y1="1999.4" x2="1880.1" y2="1999.4" stroke="#000" stroke-width="1.9"/>
<text x="1862.5" y="2008.1" text-anchor="end">2.0</text>
<line x1="1871.6" y1="2059" x2="1880.1" y2="2059" stroke="#000" stroke-width="1.9"/>
<text x="1862.5" y="2067.7" text-anchor="end">1.5</text>
<line x1="1871.6" y1="2119.2" x2="1880.1" y2="2119.2" stroke="#000" stroke-width="1.9"/>
<text x="1862.5" y="2127.9" text-anchor="end">1.0</text>
<line x1="1871.6" y1="2179.1" x2="1880.1" y2="2179.1" stroke="#000" stroke-width="1.9"/>
<text x="1862.5" y="2187.8" text-anchor="end">0.5</text>
<line x1="1900.3" y1="2185.1" x2="1900.3" y2="2193.6" stroke="#000" stroke-width="1.9"/>
<text x="1900.3" y="2220.7" text-anchor="middle">5</text>
<line x1="2075" y1="2185.1" x2="2075" y2="2193.6" stroke="#000" stroke-width="1.9"/>
<text x="2075" y="2220.7" text-anchor="middle">10</text>
<text x="2024.3" y="2253.5" text-anchor="middle">lick<tspan font-size="16.1" dy="4.6">decel.</tspan><tspan dy="-4.6"> (mm)</tspan></text>
</g>
</svg>
</body></html>
